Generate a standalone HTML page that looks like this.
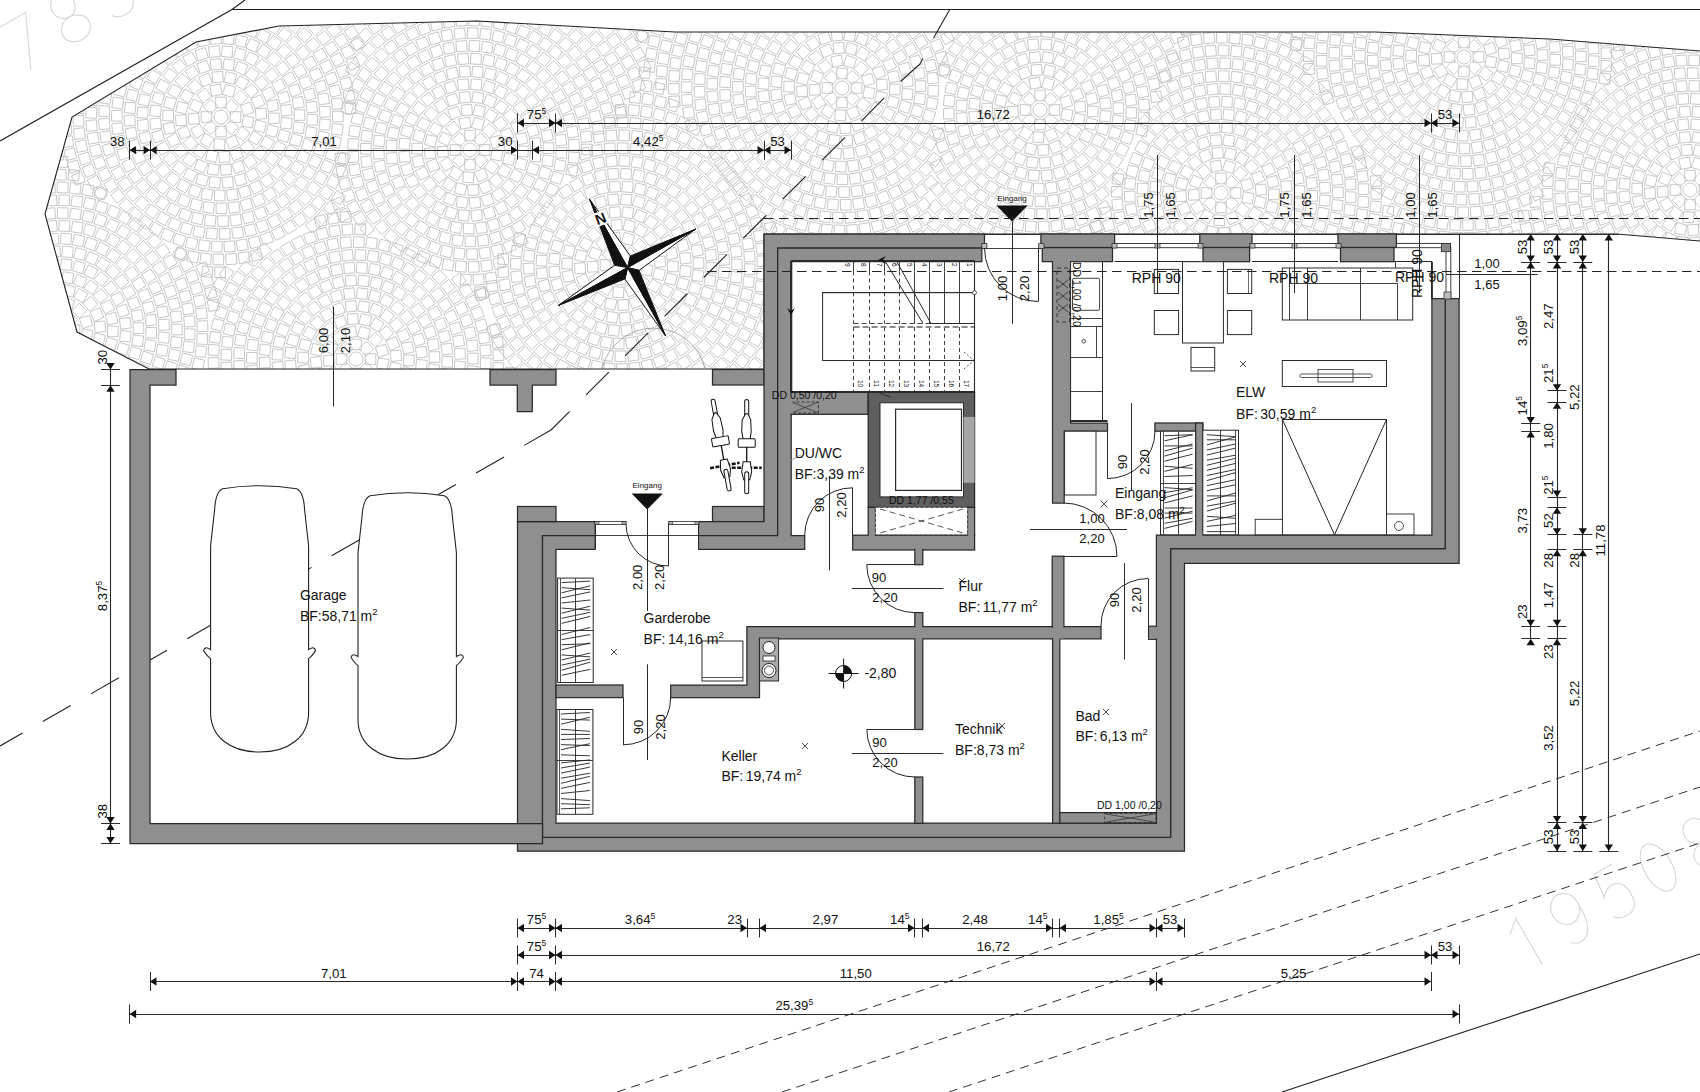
<!DOCTYPE html><html><head><meta charset="utf-8"><style>
html,body{margin:0;padding:0;background:#fff;}
svg{display:block;}
text{font-family:"Liberation Sans", sans-serif;fill:#111;}
</style></head><body>
<svg width="1700" height="1092" viewBox="0 0 1700 1092">
<rect width="1700" height="1092" fill="#fff"/>
<defs><clipPath id="pc"><polygon points="61,273 45,214 72,117 196,42 279,26 477,21 675,32 1375,32 1550,39 1700,51 1700,241 1617,234 764,234 764,369 149,369 77,332"/></clipPath></defs>
<g clip-path="url(#pc)"><path d="M221.0 117.0m-7 0a7 7 0 1 0 14 0a7 7 0 1 0 -14 0M230.2 111.7L240.8 111.7L240.8 122.3L230.2 122.3ZM231.3 119.8L238.7 127.3L231.3 134.7L223.8 127.3ZM226.3 126.2L226.3 136.8L215.7 136.8L215.7 126.2ZM218.2 127.3L210.7 134.7L203.3 127.3L210.7 119.8ZM211.8 122.3L201.2 122.3L201.2 111.7L211.8 111.7ZM210.7 114.2L203.3 106.7L210.7 99.3L218.2 106.7ZM215.7 107.8L215.7 97.2L226.3 97.2L226.3 107.8ZM223.8 106.7L231.3 99.3L238.7 106.7L231.3 114.2ZM243.6 115.7L254.0 117.6L252.1 128.0L241.7 126.1ZM241.6 126.3L250.0 132.9L243.5 141.2L235.1 134.7ZM234.9 134.9L239.3 144.5L229.6 148.9L225.2 139.2ZM225.0 139.3L224.4 149.9L213.8 149.2L214.4 138.7ZM214.2 138.6L208.7 147.7L199.7 142.2L205.1 133.1ZM205.0 133.0L195.9 138.5L190.4 129.4L199.4 123.9ZM199.4 123.7L188.8 124.3L188.1 113.8L198.7 113.1ZM198.8 112.9L189.1 108.5L193.4 98.9L203.1 103.2ZM203.2 103.0L196.7 94.7L205.0 88.1L211.6 96.4ZM211.8 96.3L209.8 85.9L220.3 84.0L222.2 94.4ZM222.4 94.4L225.6 84.3L235.7 87.4L232.6 97.5ZM232.8 97.7L240.2 90.2L247.8 97.6L240.3 105.1ZM240.4 105.3L250.5 102.2L253.7 112.3L243.6 115.5ZM256.1 119.9L266.4 122.3L264.0 132.6L253.6 130.2ZM253.5 130.6L262.5 136.1L257.0 145.1L248.0 139.6ZM247.7 139.9L254.6 148.0L246.6 154.9L239.7 146.8ZM239.3 147.1L243.4 156.8L233.6 160.9L229.5 151.2ZM229.1 151.3L230.0 161.8L219.4 162.7L218.6 152.1ZM218.1 152.1L215.7 162.4L205.4 160.0L207.8 149.6ZM207.4 149.5L201.9 158.5L192.9 153.0L198.4 144.0ZM198.1 143.7L190.0 150.6L183.1 142.6L191.2 135.7ZM190.9 135.3L181.2 139.4L177.1 129.6L186.8 125.5ZM186.7 125.1L176.2 126.0L175.3 115.4L185.9 114.6ZM185.9 114.1L175.6 111.7L178.0 101.4L188.4 103.8ZM188.5 103.4L179.5 97.9L185.0 88.9L194.0 94.4ZM194.3 94.1L187.4 86.0L195.4 79.1L202.3 87.2ZM202.7 86.9L198.6 77.2L208.4 73.1L212.5 82.8ZM212.9 82.7L212.0 72.2L222.6 71.3L223.4 81.9ZM223.9 81.9L226.3 71.6L236.6 74.0L234.2 84.4ZM234.6 84.5L240.1 75.5L249.1 81.0L243.6 90.0ZM243.9 90.3L252.0 83.4L258.9 91.4L250.8 98.3ZM251.1 98.7L260.8 94.6L264.9 104.4L255.2 108.5ZM255.3 108.9L265.8 108.0L266.7 118.6L256.1 119.4ZM268.7 113.0L279.3 113.2L279.0 123.8L268.4 123.6ZM268.3 124.5L278.5 127.3L275.7 137.5L265.5 134.7ZM265.1 135.6L274.4 140.8L269.2 150.0L260.0 144.9ZM259.4 145.6L267.1 152.9L259.9 160.6L252.2 153.4ZM251.4 154.0L257.2 162.9L248.3 168.7L242.5 159.8ZM241.7 160.2L245.2 170.2L235.2 173.7L231.7 163.7ZM230.8 163.9L231.8 174.4L221.2 175.4L220.2 164.9ZM219.3 164.9L217.7 175.3L207.2 173.8L208.8 163.3ZM207.8 163.1L203.8 172.9L194.0 168.8L198.0 159.0ZM197.2 158.6L191.0 167.1L182.4 160.9L188.6 152.3ZM188.0 151.7L179.8 158.5L173.0 150.4L181.1 143.5ZM180.6 142.7L171.1 147.4L166.4 137.9L175.9 133.2ZM175.6 132.3L165.3 134.6L163.0 124.2L173.4 122.0ZM173.3 121.0L162.7 120.8L163.0 110.2L173.6 110.4ZM173.7 109.5L163.5 106.7L166.3 96.5L176.5 99.3ZM176.9 98.4L167.6 93.2L172.8 84.0L182.0 89.1ZM182.6 88.4L174.9 81.1L182.1 73.4L189.8 80.6ZM190.6 80.0L184.8 71.1L193.7 65.3L199.5 74.2ZM200.3 73.8L196.8 63.8L206.8 60.3L210.3 70.3ZM211.2 70.1L210.2 59.6L220.8 58.6L221.8 69.1ZM222.7 69.1L224.3 58.7L234.8 60.2L233.2 70.7ZM234.2 70.9L238.2 61.1L248.0 65.2L244.0 75.0ZM244.8 75.4L251.0 66.9L259.6 73.1L253.4 81.7ZM254.0 82.3L262.2 75.5L269.0 83.6L260.9 90.5ZM261.4 91.3L270.9 86.6L275.6 96.1L266.1 100.8ZM266.4 101.7L276.7 99.4L279.0 109.8L268.6 112.0ZM281.6 117.4L292.2 118.4L291.2 129.0L280.6 128.0ZM280.4 129.2L290.5 132.3L287.5 142.4L277.3 139.4ZM276.9 140.6L286.2 145.5L281.3 154.9L271.9 149.9ZM271.2 151.0L279.4 157.7L272.7 165.9L264.5 159.2ZM263.6 160.2L270.3 168.3L262.2 175.1L255.4 166.9ZM254.3 167.6L259.4 177.0L250.1 182.0L245.0 172.7ZM243.8 173.2L246.9 183.3L236.8 186.4L233.7 176.3ZM232.4 176.5L233.5 187.1L223.0 188.2L221.9 177.6ZM220.6 177.6L219.6 188.2L209.0 187.2L210.0 176.6ZM208.8 176.4L205.7 186.5L195.6 183.5L198.6 173.3ZM197.4 172.9L192.5 182.2L183.1 177.3L188.1 167.9ZM187.0 167.2L180.3 175.4L172.1 168.7L178.8 160.5ZM177.8 159.6L169.7 166.3L162.9 158.2L171.1 151.4ZM170.4 150.3L161.0 155.4L156.0 146.1L165.3 141.0ZM164.8 139.8L154.7 142.9L151.6 132.8L161.7 129.7ZM161.5 128.4L150.9 129.5L149.8 119.0L160.4 117.9ZM160.4 116.6L149.8 115.6L150.8 105.0L161.4 106.0ZM161.6 104.8L151.5 101.7L154.5 91.6L164.7 94.6ZM165.1 93.4L155.8 88.5L160.7 79.1L170.1 84.1ZM170.8 83.0L162.6 76.3L169.3 68.1L177.5 74.8ZM178.4 73.8L171.7 65.7L179.8 58.9L186.6 67.1ZM187.7 66.4L182.6 57.0L191.9 52.0L197.0 61.3ZM198.2 60.8L195.1 50.7L205.2 47.6L208.3 57.7ZM209.6 57.5L208.5 46.9L219.0 45.8L220.1 56.4ZM221.4 56.4L222.4 45.8L233.0 46.8L232.0 57.4ZM233.2 57.6L236.3 47.5L246.4 50.5L243.4 60.7ZM244.6 61.1L249.5 51.8L258.9 56.7L253.9 66.1ZM255.0 66.8L261.7 58.6L269.9 65.3L263.2 73.5ZM264.2 74.4L272.3 67.7L279.1 75.8L270.9 82.6ZM271.6 83.7L281.0 78.6L286.0 87.9L276.7 93.0ZM277.2 94.2L287.3 91.1L290.4 101.2L280.3 104.3ZM280.5 105.6L291.1 104.5L292.2 115.0L281.6 116.1ZM294.2 121.7L304.7 123.2L303.3 133.7L292.8 132.2ZM292.5 133.4L302.7 136.5L299.5 146.7L289.4 143.6ZM289.0 144.7L298.5 149.4L293.8 158.9L284.3 154.2ZM283.6 155.2L292.3 161.4L286.1 170.0L277.5 163.9ZM276.7 164.8L284.2 172.3L276.8 179.8L269.2 172.3ZM268.3 173.1L274.5 181.7L266.0 187.9L259.7 179.3ZM258.7 180.0L263.5 189.4L254.0 194.2L249.2 184.7ZM248.1 185.2L251.3 195.3L241.2 198.5L238.0 188.4ZM236.8 188.7L238.4 199.2L227.9 200.7L226.3 190.2ZM225.1 190.3L224.9 200.9L214.4 200.7L214.5 190.1ZM213.3 190.0L211.4 200.4L201.0 198.6L202.9 188.1ZM201.7 187.8L198.2 197.8L188.2 194.3L191.7 184.3ZM190.6 183.8L185.5 193.1L176.2 188.0L181.3 178.7ZM180.3 178.1L173.8 186.4L165.4 179.9L171.9 171.6ZM171.0 170.7L163.2 178.0L156.0 170.2L163.8 163.0ZM163.0 162.0L154.2 167.9L148.3 159.1L157.2 153.2ZM156.6 152.1L146.9 156.5L142.5 146.9L152.2 142.5ZM151.8 141.3L141.5 144.1L138.8 133.9L149.0 131.1ZM148.8 129.9L138.2 131.0L137.1 120.5L147.6 119.4ZM147.6 118.2L137.0 117.6L137.6 107.0L148.2 107.6ZM148.4 106.4L138.0 104.1L140.3 93.7L150.7 96.0ZM151.0 94.9L141.2 91.0L145.1 81.1L154.9 85.0ZM155.5 83.9L146.4 78.5L151.8 69.4L160.9 74.8ZM161.6 73.8L153.5 67.0L160.4 58.9L168.5 65.7ZM169.3 64.9L162.4 56.8L170.5 49.9L177.4 58.0ZM178.4 57.3L172.8 48.2L181.9 42.7L187.4 51.7ZM188.5 51.2L184.5 41.4L194.3 37.4L198.3 47.2ZM199.5 46.8L197.1 36.5L207.4 34.1L209.8 44.5ZM211.0 44.3L210.3 33.7L220.9 33.0L221.6 43.6ZM222.8 43.6L223.8 33.1L234.4 34.1L233.3 44.7ZM234.5 44.9L237.2 34.6L247.5 37.3L244.8 47.6ZM245.9 48.0L250.2 38.3L259.9 42.6L255.6 52.3ZM256.7 52.9L262.5 44.0L271.4 49.8L265.5 58.7ZM266.5 59.4L273.7 51.6L281.5 58.8L274.3 66.6ZM275.2 67.5L283.5 60.9L290.0 69.2L281.7 75.8ZM282.4 76.8L291.7 71.6L296.8 80.9L287.6 86.1ZM288.1 87.2L298.0 83.6L301.6 93.5L291.7 97.1ZM292.0 98.3L302.4 96.4L304.3 106.8L293.9 108.7ZM294.1 109.9L304.6 109.7L304.9 120.3L294.3 120.5ZM307.1 114.3L317.7 114.7L317.4 125.3L306.8 124.9ZM306.7 126.4L317.1 128.2L315.3 138.6L304.9 136.8ZM304.5 138.2L314.6 141.4L311.4 151.5L301.3 148.3ZM300.8 149.6L310.3 154.2L305.7 163.8L296.2 159.1ZM295.4 160.4L304.3 166.3L298.4 175.1L289.6 169.2ZM288.7 170.3L296.6 177.4L289.5 185.3L281.6 178.2ZM280.6 179.2L287.4 187.3L279.4 194.2L272.5 186.1ZM271.4 186.9L277.0 195.9L268.1 201.5L262.4 192.6ZM261.1 193.2L265.5 202.9L255.8 207.3L251.5 197.6ZM250.1 198.1L253.1 208.3L242.9 211.2L240.0 201.1ZM238.6 201.4L240.1 211.8L229.6 213.4L228.1 202.9ZM226.7 203.0L226.7 213.6L216.1 213.6L216.1 203.0ZM214.6 202.9L213.2 213.4L202.7 212.0L204.1 201.5ZM202.7 201.2L199.9 211.4L189.7 208.5L192.5 198.3ZM191.2 197.8L186.9 207.5L177.2 203.3L181.5 193.6ZM180.2 192.9L174.7 201.9L165.6 196.3L171.2 187.3ZM170.1 186.5L163.3 194.6L155.1 187.9L161.9 179.7ZM160.9 178.7L153.0 185.9L145.9 178.0L153.8 170.9ZM152.9 169.8L144.1 175.7L138.2 167.0L146.9 161.0ZM146.2 159.8L136.7 164.5L132.0 155.0L141.5 150.3ZM141.0 149.0L130.9 152.3L127.6 142.2L137.7 138.9ZM137.3 137.5L126.9 139.4L125.0 129.0L135.4 127.1ZM135.3 125.7L124.7 126.1L124.3 115.5L134.9 115.1ZM134.9 113.6L124.4 112.6L125.4 102.0L136.0 103.1ZM136.2 101.7L125.9 99.2L128.4 88.9L138.7 91.4ZM139.2 90.0L129.3 86.1L133.2 76.3L143.1 80.2ZM143.7 78.9L134.5 73.7L139.8 64.4L149.0 69.7ZM233.3 31.7L235.5 21.3L245.9 23.5L243.7 33.9ZM245.1 34.3L248.7 24.3L258.6 27.9L255.1 37.9ZM256.4 38.4L261.3 29.0L270.7 34.0L265.7 43.4ZM267.0 44.1L273.2 35.5L281.8 41.7L275.6 50.3ZM276.7 51.2L284.0 43.6L291.6 50.9L284.3 58.6ZM285.3 59.6L293.6 53.0L300.2 61.4L291.8 67.9ZM292.6 69.1L301.8 63.8L307.1 72.9L298.0 78.3ZM298.6 79.5L308.4 75.5L312.4 85.3L302.6 89.4ZM303.1 90.7L313.3 88.1L315.9 98.4L305.7 101.0ZM305.9 102.4L316.5 101.2L317.6 111.8L307.1 112.9ZM319.9 118.9L330.5 119.7L329.7 130.2L319.2 129.5ZM318.9 131.0L329.3 133.1L327.3 143.5L316.9 141.4ZM316.5 143.0L326.5 146.3L323.2 156.4L313.2 153.0ZM312.6 154.5L322.1 159.0L317.6 168.6L308.0 164.1ZM307.3 165.5L316.2 171.1L310.5 180.1L301.6 174.4ZM300.6 175.7L308.8 182.4L302.1 190.6L293.9 183.9ZM292.8 185.0L300.1 192.7L292.4 200.0L285.1 192.3ZM283.9 193.4L290.2 201.9L281.7 208.2L275.4 199.6ZM274.1 200.5L279.3 209.7L270.0 214.9L264.8 205.7ZM263.4 206.4L267.4 216.2L257.6 220.2L253.6 210.4ZM252.1 210.9L254.9 221.2L244.7 223.9L241.9 213.7ZM240.3 214.0L241.8 224.5L231.3 226.0L229.8 215.5ZM228.2 215.7L228.5 226.3L217.9 226.5L217.6 215.9ZM216.1 215.8L215.0 226.4L204.4 225.3L205.5 214.7ZM204.0 214.5L201.6 224.8L191.2 222.4L193.6 212.1ZM192.1 211.6L188.5 221.6L178.5 218.0L182.2 208.0ZM180.7 207.4L175.9 216.8L166.4 212.0L171.3 202.5ZM169.9 201.7L163.9 210.5L155.2 204.5L161.1 195.8ZM159.9 194.8L152.9 202.8L144.9 195.8L151.9 187.8ZM150.8 186.7L142.9 193.8L135.8 185.8L143.7 178.8ZM142.7 177.5L134.0 183.6L128.0 174.9L136.7 168.8ZM135.9 167.5L126.5 172.4L121.6 163.0L131.0 158.1ZM130.3 156.6L120.4 160.3L116.7 150.4L126.6 146.7ZM126.2 145.2L115.9 147.7L113.4 137.4L123.7 134.9ZM123.4 133.3L112.9 134.5L111.7 124.0L122.2 122.8ZM122.1 121.2L111.5 121.1L111.7 110.5L122.3 110.6ZM122.4 109.0L111.9 107.6L113.3 97.1L123.8 98.5ZM124.1 97.0L113.9 94.3L116.6 84.0L126.8 86.7ZM266.8 29.3L272.2 20.2L281.3 25.6L275.9 34.7ZM277.2 35.6L283.7 27.2L292.1 33.7L285.6 42.1ZM286.8 43.1L294.3 35.6L301.8 43.0L294.3 50.6ZM295.4 51.8L303.7 45.2L310.3 53.5L301.9 60.1ZM302.8 61.4L311.9 55.9L317.4 65.0L308.3 70.5ZM309.0 71.9L318.7 67.5L323.0 77.2L313.4 81.5ZM313.9 83.0L324.1 79.9L327.2 90.1L317.0 93.2ZM317.4 94.7L327.8 92.9L329.7 103.3L319.2 105.1ZM319.4 106.7L330.0 106.2L330.5 116.8L319.9 117.3ZM332.5 123.5L343.1 124.6L342.0 135.2L331.4 134.1ZM331.1 135.7L341.5 138.0L339.2 148.4L328.9 146.1ZM328.4 147.8L338.5 151.1L335.1 161.2L325.0 157.8ZM324.4 159.4L334.0 163.9L329.5 173.5L319.9 169.0ZM319.1 170.5L328.1 176.0L322.6 185.1L313.6 179.5ZM312.6 181.0L321.0 187.4L314.5 195.8L306.1 189.4ZM305.0 190.6L312.6 198.0L305.3 205.6L297.7 198.3ZM296.4 199.4L303.2 207.6L295.0 214.4L288.2 206.2ZM286.9 207.2L292.7 216.1L283.9 221.9L278.0 213.1ZM276.5 213.9L281.4 223.4L271.9 228.2L267.1 218.8ZM265.5 219.5L269.3 229.4L259.4 233.1L255.6 223.2ZM254.0 223.7L256.7 234.0L246.4 236.7L243.7 226.4ZM242.1 226.7L243.6 237.2L233.1 238.7L231.6 228.2ZM229.9 228.4L230.2 239.0L219.6 239.3L219.3 228.7ZM217.6 228.7L216.7 239.2L206.2 238.4L207.0 227.8ZM205.3 227.6L203.3 238.0L192.9 236.0L194.9 225.6ZM193.2 225.2L190.1 235.3L180.0 232.2L183.1 222.1ZM181.5 221.5L177.3 231.2L167.5 227.0L171.8 217.3ZM170.2 216.5L165.0 225.7L155.8 220.5L161.0 211.3ZM159.6 210.3L153.3 218.9L144.8 212.7L151.0 204.1ZM149.7 203.0L142.5 210.8L134.7 203.7L141.9 195.9ZM140.7 194.6L132.7 201.6L125.7 193.7L133.7 186.7ZM132.6 185.3L123.9 191.4L117.8 182.7L126.5 176.7ZM125.6 175.2L116.3 180.3L111.2 171.0L120.5 165.9ZM119.8 164.4L110.0 168.4L106.0 158.6L115.8 154.6ZM115.2 152.9L105.0 155.9L102.1 145.7L112.3 142.7ZM111.9 141.1L101.5 142.9L99.7 132.4L110.1 130.6ZM109.9 128.9L99.3 129.6L98.7 119.0L109.3 118.3ZM109.3 116.6L98.7 116.1L99.2 105.5L109.8 106.1ZM110.0 104.3L99.5 102.6L101.2 92.2L111.7 93.9ZM287.5 27.2L294.2 19.0L302.4 25.7L295.7 33.9ZM296.9 35.0L304.5 27.6L311.9 35.2L304.4 42.6ZM305.5 43.9L313.8 37.4L320.4 45.7L312.0 52.2ZM313.0 53.6L322.0 48.0L327.6 57.1L318.6 62.6ZM319.4 64.1L329.0 59.6L333.6 69.1L324.0 73.7ZM324.6 75.3L334.7 71.8L338.1 81.8L328.1 85.3ZM328.6 86.9L338.9 84.6L341.3 94.9L331.0 97.3ZM331.3 99.0L341.8 97.8L343.0 108.3L332.5 109.5ZM332.6 111.2L343.2 111.2L343.2 121.8L332.6 121.8ZM340.5 151.9L350.6 155.3L347.1 165.4L337.1 162.0ZM336.5 163.5L346.2 167.8L341.8 177.5L332.1 173.1ZM331.4 174.6L340.6 179.9L335.3 189.1L326.1 183.8ZM325.2 185.1L333.8 191.3L327.7 199.9L319.1 193.7ZM318.0 195.0L326.0 202.0L319.0 210.0L311.1 203.0ZM309.9 204.1L317.2 211.9L309.5 219.1L302.2 211.4ZM301.0 212.4L307.4 220.8L299.0 227.3L292.6 218.9ZM291.2 219.8L296.8 228.8L287.8 234.4L282.2 225.4ZM280.8 226.2L285.5 235.7L276.0 240.4L271.3 230.9ZM269.8 231.5L273.6 241.5L263.6 245.2L259.9 235.3ZM258.4 235.8L261.1 246.0L250.9 248.8L248.1 238.5ZM246.5 238.9L248.3 249.3L237.8 251.1L236.1 240.6ZM234.5 240.8L235.2 251.4L224.6 252.1L223.9 241.5ZM222.3 241.5L221.9 252.1L211.3 251.8L211.7 241.2ZM210.1 241.0L208.7 251.5L198.2 250.2L199.5 239.7ZM198.0 239.4L195.5 249.7L185.2 247.3L187.6 237.0ZM186.1 236.5L182.7 246.6L172.6 243.1L176.0 233.1ZM174.5 232.5L170.2 242.2L160.5 237.8L164.9 228.1ZM163.4 227.4L158.1 236.6L148.9 231.3L154.2 222.1ZM152.9 221.2L146.7 229.8L138.1 223.7L144.3 215.1ZM143.0 214.0L136.0 222.0L128.0 215.0L135.0 207.1ZM133.9 205.9L126.1 213.2L118.9 205.5L126.6 198.2ZM125.6 197.0L117.2 203.4L110.7 195.0L119.1 188.6ZM118.2 187.2L109.2 192.8L103.6 183.8L112.6 178.2ZM111.8 176.8L102.3 181.5L97.6 172.0L107.1 167.3ZM106.5 165.8L96.5 169.6L92.8 159.6L102.7 155.9ZM102.2 154.4L92.0 157.1L89.2 146.9L99.5 144.1ZM99.1 142.5L88.7 144.3L86.9 133.8L97.4 132.1ZM97.2 130.5L86.6 131.2L85.9 120.6L96.5 119.9ZM96.5 118.3L85.9 117.9L86.2 107.3L96.8 107.7ZM97.0 106.1L86.5 104.7L87.8 94.2L98.3 95.5ZM299.0 20.0L306.0 12.0L314.0 19.0L307.0 26.9ZM308.1 28.1L315.9 20.8L323.1 28.5L315.4 35.8ZM316.4 37.0L324.8 30.6L331.3 39.0L322.9 45.4ZM323.8 46.8L332.8 41.2L338.4 50.2L329.4 55.8ZM330.2 57.2L339.7 52.5L344.4 62.0L334.9 66.7ZM335.5 68.2L345.5 64.4L349.2 74.4L339.3 78.1ZM339.8 79.6L350.0 76.9L352.8 87.1L342.5 89.9ZM342.9 91.5L353.3 89.7L355.1 100.2L344.6 101.9ZM344.8 103.5L355.4 102.8L356.1 113.4L345.5 114.1ZM337.1 190.3L345.9 196.3L339.9 205.0L331.1 199.0ZM330.1 200.4L338.3 207.1L331.5 215.3L323.3 208.5ZM322.2 209.8L329.7 217.3L322.2 224.8L314.7 217.3ZM313.5 218.5L320.3 226.6L312.2 233.4L305.3 225.3ZM260.3 248.6L262.9 258.8L252.6 261.5L250.0 251.2ZM248.3 251.6L250.0 262.0L239.5 263.7L237.8 253.3ZM236.1 253.5L236.9 264.0L226.3 264.8L225.6 254.2ZM223.8 254.3L223.6 264.9L213.0 264.7L213.2 254.1ZM211.5 254.0L210.4 264.5L199.8 263.4L201.0 252.8ZM199.3 252.6L197.2 263.0L186.8 260.9L188.9 250.5ZM187.2 250.1L184.2 260.2L174.0 257.2L177.0 247.1ZM108.0 195.0L99.0 200.7L93.4 191.7L102.3 186.0ZM101.5 184.5L92.0 189.4L87.2 180.0L96.6 175.1ZM95.9 173.6L86.1 177.6L82.1 167.7L91.9 163.7ZM91.3 162.1L81.2 165.2L78.1 155.1L88.2 152.0ZM87.8 150.3L77.4 152.5L75.3 142.1L85.6 139.9ZM85.4 138.2L74.8 139.5L73.6 128.9L84.1 127.7ZM84.0 126.0L73.4 126.3L73.1 115.7L83.7 115.4ZM83.7 113.7L73.2 113.0L73.8 102.4L84.4 103.1ZM318.3 20.1L326.1 12.9L333.2 20.7L325.4 27.9ZM326.6 29.2L335.0 22.7L341.4 31.1L333.0 37.6ZM334.0 39.0L343.0 33.3L348.6 42.3L339.7 48.0ZM340.5 49.5L350.0 44.6L354.8 54.0L345.4 58.9ZM346.1 60.4L355.9 56.4L359.9 66.3L350.1 70.3ZM225.4 267.0L225.4 277.6L214.8 277.6L214.8 267.0ZM213.0 266.9L212.1 277.4L201.5 276.5L202.5 265.9ZM85.4 181.3L75.7 185.5L71.5 175.8L81.2 171.6ZM80.5 169.9L70.5 173.3L67.1 163.2L77.2 159.9ZM76.7 158.1L66.4 160.7L63.8 150.4L74.1 147.8ZM73.7 146.1L63.3 147.7L61.6 137.3L72.1 135.6ZM71.9 133.8L61.3 134.6L60.5 124.1L71.0 123.2ZM336.7 21.4L345.1 14.9L351.5 23.3L343.1 29.8ZM344.2 31.2L353.1 25.5L358.8 34.4L349.9 40.1ZM350.8 41.7L360.2 36.7L365.2 46.1L355.8 51.0ZM63.8 159.5L53.4 162.0L51.0 151.7L61.3 149.2ZM356.0 359.0m-7 0a7 7 0 1 0 14 0a7 7 0 1 0 -14 0M365.2 353.7L375.8 353.7L375.8 364.3L365.2 364.3ZM366.3 361.8L373.7 369.3L366.3 376.7L358.8 369.3ZM361.3 368.2L361.3 378.8L350.7 378.8L350.7 368.2ZM353.2 369.3L345.7 376.7L338.3 369.3L345.7 361.8ZM346.8 364.3L336.2 364.3L336.2 353.7L346.8 353.7ZM345.7 356.2L338.3 348.7L345.7 341.3L353.2 348.7ZM350.7 349.8L350.7 339.2L361.3 339.2L361.3 349.8ZM358.8 348.7L366.3 341.3L373.7 348.7L366.3 356.2ZM378.6 357.7L389.0 359.6L387.1 370.0L376.7 368.1ZM340.0 375.0L330.9 380.5L325.4 371.4L334.4 365.9ZM334.4 365.7L323.8 366.3L323.1 355.8L333.7 355.1ZM333.8 354.9L324.1 350.5L328.4 340.9L338.1 345.2ZM338.2 345.0L331.7 336.7L340.0 330.1L346.6 338.4ZM346.8 338.3L344.8 327.9L355.3 326.0L357.2 336.4ZM357.4 336.4L360.6 326.3L370.7 329.4L367.6 339.5ZM367.8 339.7L375.2 332.2L382.8 339.6L375.3 347.1ZM375.4 347.3L385.5 344.2L388.7 354.3L378.6 357.5ZM391.1 361.9L401.4 364.3L399.0 374.6L388.6 372.2ZM325.9 377.3L316.2 381.4L312.1 371.6L321.8 367.5ZM321.7 367.1L311.2 368.0L310.3 357.4L320.9 356.6ZM320.9 356.1L310.6 353.7L313.0 343.4L323.4 345.8ZM323.5 345.4L314.5 339.9L320.0 330.9L329.0 336.4ZM329.3 336.1L322.4 328.0L330.4 321.1L337.3 329.2ZM337.7 328.9L333.6 319.2L343.4 315.1L347.5 324.8ZM347.9 324.7L347.0 314.2L357.6 313.3L358.4 323.9ZM358.9 323.9L361.3 313.6L371.6 316.0L369.2 326.4ZM369.6 326.5L375.1 317.5L384.1 323.0L378.6 332.0ZM378.9 332.3L387.0 325.4L393.9 333.4L385.8 340.3ZM386.1 340.7L395.8 336.6L399.9 346.4L390.2 350.5ZM390.3 350.9L400.8 350.0L401.7 360.6L391.1 361.4ZM403.7 355.0L414.3 355.2L414.0 365.8L403.4 365.6ZM403.3 366.5L413.5 369.3L410.7 379.5L400.5 376.7ZM310.6 374.3L300.3 376.6L298.0 366.2L308.4 364.0ZM308.3 363.0L297.7 362.8L298.0 352.2L308.6 352.4ZM308.7 351.5L298.5 348.7L301.3 338.5L311.5 341.3ZM311.9 340.4L302.6 335.2L307.8 326.0L317.0 331.1ZM317.6 330.4L309.9 323.1L317.1 315.4L324.8 322.6ZM325.6 322.0L319.8 313.1L328.7 307.3L334.5 316.2ZM335.3 315.8L331.8 305.8L341.8 302.3L345.3 312.3ZM346.2 312.1L345.2 301.6L355.8 300.6L356.8 311.1ZM357.7 311.1L359.3 300.7L369.8 302.2L368.2 312.7ZM369.2 312.9L373.2 303.1L383.0 307.2L379.0 317.0ZM379.8 317.4L386.0 308.9L394.6 315.1L388.4 323.7ZM389.0 324.3L397.2 317.5L404.0 325.6L395.9 332.5ZM396.4 333.3L405.9 328.6L410.6 338.1L401.1 342.8ZM401.4 343.7L411.7 341.4L414.0 351.8L403.6 354.0ZM416.6 359.4L427.2 360.4L426.2 371.0L415.6 370.0ZM296.5 370.4L285.9 371.5L284.8 361.0L295.4 359.9ZM295.4 358.6L284.8 357.6L285.8 347.0L296.4 348.0ZM296.6 346.8L286.5 343.7L289.5 333.6L299.7 336.6ZM300.1 335.4L290.8 330.5L295.7 321.1L305.1 326.1ZM305.8 325.0L297.6 318.3L304.3 310.1L312.5 316.8ZM313.4 315.8L306.7 307.7L314.8 300.9L321.6 309.1ZM322.7 308.4L317.6 299.0L326.9 294.0L332.0 303.3ZM333.2 302.8L330.1 292.7L340.2 289.6L343.3 299.7ZM344.6 299.5L343.5 288.9L354.0 287.8L355.1 298.4ZM356.4 298.4L357.4 287.8L368.0 288.8L367.0 299.4ZM368.2 299.6L371.3 289.5L381.4 292.5L378.4 302.7ZM379.6 303.1L384.5 293.8L393.9 298.7L388.9 308.1ZM390.0 308.8L396.7 300.6L404.9 307.3L398.2 315.5ZM399.2 316.4L407.3 309.7L414.1 317.8L405.9 324.6ZM406.6 325.7L416.0 320.6L421.0 329.9L411.7 335.0ZM412.2 336.2L422.3 333.1L425.4 343.2L415.3 346.3ZM415.5 347.6L426.1 346.5L427.2 357.0L416.6 358.1ZM429.2 363.7L439.7 365.2L438.3 375.7L427.8 374.2ZM283.8 371.9L273.2 373.0L272.1 362.5L282.6 361.4ZM282.6 360.2L272.0 359.6L272.6 349.0L283.2 349.6ZM283.4 348.4L273.0 346.1L275.3 335.7L285.7 338.0ZM286.0 336.9L276.2 333.0L280.1 323.1L289.9 327.0ZM290.5 325.9L281.4 320.5L286.8 311.4L295.9 316.8ZM296.6 315.8L288.5 309.0L295.4 300.9L303.5 307.7ZM304.3 306.9L297.4 298.8L305.5 291.9L312.4 300.0ZM313.4 299.3L307.8 290.2L316.9 284.7L322.4 293.7ZM323.5 293.2L319.5 283.4L329.3 279.4L333.3 289.2ZM334.5 288.8L332.1 278.5L342.4 276.1L344.8 286.5ZM346.0 286.3L345.3 275.7L355.9 275.0L356.6 285.6ZM357.8 285.6L358.8 275.1L369.4 276.1L368.3 286.7ZM369.5 286.9L372.2 276.6L382.5 279.3L379.8 289.6ZM380.9 290.0L385.2 280.3L394.9 284.6L390.6 294.3ZM391.7 294.9L397.5 286.0L406.4 291.8L400.5 300.7ZM401.5 301.4L408.7 293.6L416.5 300.8L409.3 308.6ZM410.2 309.5L418.5 302.9L425.0 311.2L416.7 317.8ZM417.4 318.8L426.7 313.6L431.8 322.9L422.6 328.1ZM423.1 329.2L433.0 325.6L436.6 335.5L426.7 339.1ZM427.0 340.3L437.4 338.4L439.3 348.8L428.9 350.7ZM429.1 351.9L439.6 351.7L439.9 362.3L429.3 362.5ZM442.1 356.3L452.7 356.7L452.4 367.3L441.8 366.9ZM441.7 368.4L452.1 370.2L450.3 380.6L439.9 378.8ZM270.3 367.7L259.7 368.1L259.3 357.5L269.9 357.1ZM269.9 355.6L259.4 354.6L260.4 344.0L271.0 345.1ZM271.2 343.7L260.9 341.2L263.4 330.9L273.7 333.4ZM274.2 332.0L264.3 328.1L268.2 318.3L278.1 322.2ZM278.7 320.9L269.5 315.7L274.8 306.4L284.0 311.7ZM284.8 310.5L276.4 304.0L282.9 295.7L291.3 302.1ZM292.2 301.1L284.8 293.5L292.4 286.1L299.8 293.7ZM300.9 292.8L294.6 284.2L303.2 278.0L309.4 286.5ZM310.6 285.7L305.6 276.4L315.0 271.4L320.0 280.7ZM321.3 280.1L317.6 270.2L327.6 266.5L331.2 276.5ZM332.6 276.1L330.3 265.7L340.7 263.5L342.9 273.8ZM344.4 273.6L343.6 263.1L354.1 262.3L354.9 272.8ZM356.4 272.8L357.0 262.3L367.6 263.0L366.9 273.5ZM368.3 273.7L370.5 263.3L380.9 265.5L378.7 275.9ZM380.1 276.3L383.7 266.3L393.6 269.9L390.1 279.9ZM391.4 280.4L396.3 271.0L405.7 276.0L400.7 285.4ZM402.0 286.1L408.2 277.5L416.8 283.7L410.6 292.3ZM411.7 293.2L419.0 285.6L426.6 292.9L419.3 300.6ZM420.3 301.6L428.6 295.0L435.2 303.4L426.8 309.9ZM427.6 311.1L436.8 305.8L442.1 314.9L433.0 320.3ZM433.6 321.5L443.4 317.5L447.4 327.3L437.6 331.4ZM438.1 332.7L448.3 330.1L450.9 340.4L440.7 343.0ZM440.9 344.4L451.5 343.2L452.6 353.8L442.1 354.9ZM454.9 360.9L465.5 361.7L464.7 372.2L454.2 371.5ZM258.4 375.3L247.9 376.5L246.7 366.0L257.2 364.8ZM257.1 363.2L246.5 363.1L246.7 352.5L257.3 352.6ZM257.4 351.0L246.9 349.6L248.3 339.1L258.8 340.5ZM259.1 339.0L248.9 336.3L251.6 326.0L261.8 328.7ZM262.3 327.2L252.5 323.3L256.4 313.4L266.2 317.4ZM266.9 315.9L257.6 310.8L262.8 301.5L272.0 306.7ZM272.9 305.3L264.3 299.1L270.5 290.5L279.1 296.7ZM280.1 295.5L272.4 288.3L279.6 280.5L287.3 287.8ZM288.5 286.7L281.7 278.5L289.8 271.7L296.6 279.9ZM297.9 278.9L292.1 270.0L301.0 264.3L306.8 273.2ZM308.2 272.4L303.6 262.8L313.1 258.2L317.7 267.8ZM319.2 267.2L315.8 257.1L325.8 253.7L329.2 263.8ZM330.7 263.3L328.6 253.0L339.0 250.8L341.1 261.2ZM342.7 261.0L341.8 250.4L352.4 249.5L353.3 260.1ZM354.8 260.1L355.3 249.5L365.9 249.9L365.4 260.5ZM367.0 260.7L368.8 250.2L379.2 252.0L377.5 262.4ZM379.0 262.8L382.0 252.6L392.2 255.6L389.2 265.8ZM390.7 266.3L394.9 256.6L404.6 260.9L400.4 270.6ZM401.8 271.3L407.2 262.2L416.3 267.6L410.9 276.7ZM412.2 277.6L418.7 269.2L427.1 275.7L420.6 284.1ZM421.8 285.1L429.3 277.6L436.8 285.0L429.3 292.6ZM430.4 293.8L438.7 287.2L445.3 295.5L436.9 302.1ZM437.8 303.4L446.9 297.9L452.4 307.0L443.3 312.5ZM444.0 313.9L453.7 309.5L458.0 319.2L448.4 323.5ZM448.9 325.0L459.1 321.9L462.2 332.1L452.0 335.2ZM452.4 336.7L462.8 334.9L464.7 345.3L454.2 347.1ZM454.4 348.7L465.0 348.2L465.5 358.8L454.9 359.3ZM467.5 365.5L478.1 366.6L477.0 377.2L466.4 376.1ZM244.9 370.9L234.3 371.6L233.7 361.0L244.3 360.3ZM244.3 358.6L233.7 358.1L234.2 347.5L244.8 348.1ZM245.0 346.3L234.5 344.6L236.2 334.2L246.7 335.9ZM247.1 334.2L236.8 331.4L239.7 321.2L249.9 324.0ZM250.4 322.4L240.6 318.4L244.6 308.6L254.4 312.5ZM255.1 311.0L245.8 306.0L250.8 296.6L260.1 301.6ZM261.0 300.2L252.3 294.2L258.3 285.4L267.0 291.4ZM268.1 290.1L260.0 283.2L267.0 275.1L275.0 282.1ZM276.2 280.8L269.0 273.1L276.7 265.9L283.9 273.6ZM285.3 272.5L278.9 264.0L287.5 257.7L293.8 266.2ZM295.2 265.3L289.9 256.1L299.0 250.8L304.4 259.9ZM305.9 259.1L301.6 249.5L311.3 245.2L315.6 254.8ZM317.2 254.2L314.0 244.1L324.1 240.9L327.3 251.0ZM328.9 250.6L326.8 240.2L337.2 238.1L339.3 248.5ZM341.0 248.3L340.1 237.7L350.7 236.8L351.6 247.4ZM353.3 247.3L353.5 236.7L364.1 237.0L363.9 247.6ZM365.6 247.7L367.0 237.2L377.5 238.6L376.1 249.1ZM377.8 249.4L380.3 239.1L390.6 241.7L388.1 252.0ZM389.7 252.5L393.4 242.5L403.3 246.2L399.6 256.2ZM401.2 256.8L406.0 247.4L415.4 252.1L410.7 261.6ZM412.2 262.4L417.9 253.5L426.8 259.3L421.1 268.2ZM422.5 269.2L429.2 261.0L437.4 267.7L430.7 275.9ZM431.9 277.0L439.5 269.6L446.9 277.2L439.4 284.6ZM440.5 285.9L448.8 279.4L455.4 287.7L447.0 294.2ZM448.0 295.6L457.0 290.0L462.6 299.1L453.6 304.6ZM454.4 306.1L464.0 301.6L468.6 311.1L459.0 315.7ZM459.6 317.3L469.7 313.8L473.1 323.8L463.1 327.3ZM463.6 328.9L473.9 326.6L476.3 336.9L466.0 339.3ZM466.3 341.0L476.8 339.8L478.0 350.3L467.5 351.5ZM467.6 353.2L478.2 353.2L478.2 363.8L467.6 363.8ZM480.5 357.7L491.1 358.1L490.8 368.7L480.2 368.3ZM232.2 372.5L221.6 373.2L220.9 362.6L231.5 361.9ZM231.5 360.3L220.9 359.9L221.2 349.3L231.8 349.7ZM232.0 348.1L221.5 346.7L222.8 336.2L233.3 337.5ZM233.6 336.0L223.3 333.5L225.7 323.2L236.0 325.6ZM236.5 324.1L226.4 320.7L229.9 310.6L239.9 314.0ZM240.5 312.5L230.8 308.2L235.2 298.5L244.9 302.9ZM245.6 301.4L236.4 296.1L241.7 286.9L250.9 292.2ZM251.8 290.9L243.2 284.7L249.3 276.1L257.9 282.3ZM259.0 281.0L251.0 274.0L258.0 266.0L265.9 273.0ZM267.1 271.9L259.8 264.1L267.5 256.9L274.8 264.6ZM276.0 263.6L269.6 255.2L278.0 248.7L284.4 257.1ZM285.8 256.2L280.2 247.2L289.2 241.6L294.8 250.6ZM296.2 249.8L291.5 240.3L301.0 235.6L305.7 245.1ZM307.2 244.5L303.4 234.5L313.4 230.8L317.1 240.7ZM318.6 240.2L315.9 230.0L326.1 227.2L328.9 237.5ZM330.5 237.1L328.7 226.7L339.2 224.9L340.9 235.4ZM342.5 235.2L341.8 224.6L352.4 223.9L353.1 234.5ZM354.7 234.5L355.1 223.9L365.7 224.2L365.3 234.8ZM451.4 279.0L459.8 272.6L466.3 281.0L457.9 287.4ZM458.8 288.8L467.8 283.2L473.4 292.2L464.4 297.8ZM465.2 299.2L474.7 294.5L479.4 304.0L469.9 308.7ZM470.5 310.2L480.5 306.4L484.2 316.4L474.3 320.1ZM474.8 321.6L485.0 318.9L487.8 329.1L477.5 331.9ZM477.9 333.5L488.3 331.7L490.1 342.2L479.6 343.9ZM479.8 345.5L490.4 344.8L491.1 355.4L480.5 356.1ZM493.3 362.3L503.8 363.0L503.2 373.6L492.6 372.9ZM219.0 368.0L208.4 368.3L208.1 357.7L218.7 357.4ZM218.7 355.7L208.2 355.0L208.8 344.4L219.4 345.1ZM219.6 343.4L209.1 341.8L210.7 331.3L221.2 332.9ZM221.5 331.2L211.2 328.7L213.8 318.4L224.1 320.9ZM224.6 319.3L214.5 315.8L218.0 305.8L228.0 309.3ZM228.7 307.7L219.0 303.3L223.3 293.6L233.0 298.0ZM233.8 296.4L224.5 291.3L229.7 282.0L239.0 287.2ZM239.9 285.7L231.1 279.7L237.1 271.0L245.9 277.0ZM246.9 275.6L238.7 268.9L245.5 260.7L253.7 267.5ZM254.8 266.2L247.3 258.7L254.8 251.2L262.3 258.7ZM263.5 257.5L256.7 249.4L264.8 242.6L271.7 250.7ZM316.7 227.4L314.1 217.2L324.4 214.5L327.0 224.8ZM328.7 224.4L327.0 214.0L337.5 212.3L339.2 222.7ZM340.9 222.5L340.1 212.0L350.7 211.2L351.4 221.8ZM475.5 291.5L485.0 286.6L489.8 296.0L480.4 300.9ZM489.2 325.7L499.6 323.5L501.7 333.9L491.4 336.1ZM491.6 337.8L502.2 336.5L503.4 347.1L492.9 348.3ZM493.0 350.0L503.6 349.7L503.9 360.3L493.3 360.6ZM505.9 367.0L516.4 367.9L515.5 378.5L504.9 377.5ZM216.8 302.8L207.1 298.5L211.5 288.8L221.1 293.1ZM221.9 291.5L212.7 286.4L217.8 277.1L227.0 282.2ZM228.0 280.7L219.1 274.8L225.0 266.0L233.8 271.8ZM620.0 265.0m-7 0a7 7 0 1 0 14 0a7 7 0 1 0 -14 0M629.2 259.7L639.8 259.7L639.8 270.3L629.2 270.3ZM630.3 267.8L637.7 275.3L630.3 282.7L622.8 275.3ZM625.3 274.2L625.3 284.8L614.7 284.8L614.7 274.2ZM617.2 275.3L609.7 282.7L602.3 275.3L609.7 267.8ZM610.8 270.3L600.2 270.3L600.2 259.7L610.8 259.7ZM609.7 262.2L602.3 254.7L609.7 247.3L617.2 254.7ZM614.7 255.8L614.7 245.2L625.3 245.2L625.3 255.8ZM622.8 254.7L630.3 247.3L637.7 254.7L630.3 262.2ZM642.6 263.7L653.0 265.6L651.1 276.0L640.7 274.1ZM640.6 274.3L649.0 280.9L642.5 289.2L634.1 282.7ZM633.9 282.9L638.3 292.5L628.6 296.9L624.2 287.2ZM624.0 287.3L623.4 297.9L612.8 297.2L613.4 286.7ZM613.2 286.6L607.7 295.7L598.7 290.2L604.1 281.1ZM604.0 281.0L594.9 286.5L589.4 277.4L598.4 271.9ZM598.4 271.7L587.8 272.3L587.1 261.8L597.7 261.1ZM597.8 260.9L588.1 256.5L592.4 246.9L602.1 251.2ZM602.2 251.0L595.7 242.7L604.0 236.1L610.6 244.4ZM610.8 244.3L608.8 233.9L619.3 232.0L621.2 242.4ZM621.4 242.4L624.6 232.3L634.7 235.4L631.6 245.5ZM631.8 245.7L639.2 238.2L646.8 245.6L639.3 253.1ZM639.4 253.3L649.5 250.2L652.7 260.3L642.6 263.5ZM655.1 267.9L665.4 270.3L663.0 280.6L652.6 278.2ZM652.5 278.6L661.5 284.1L656.0 293.1L647.0 287.6ZM646.7 287.9L653.6 296.0L645.6 302.9L638.7 294.8ZM638.3 295.1L642.4 304.8L632.6 308.9L628.5 299.2ZM628.1 299.3L629.0 309.8L618.4 310.7L617.6 300.1ZM617.1 300.1L614.7 310.4L604.4 308.0L606.8 297.6ZM606.4 297.5L600.9 306.5L591.9 301.0L597.4 292.0ZM597.1 291.7L589.0 298.6L582.1 290.6L590.2 283.7ZM589.9 283.3L580.2 287.4L576.1 277.6L585.8 273.5ZM585.7 273.1L575.2 274.0L574.3 263.4L584.9 262.6ZM584.9 262.1L574.6 259.7L577.0 249.4L587.4 251.8ZM587.5 251.4L578.5 245.9L584.0 236.9L593.0 242.4ZM593.3 242.1L586.4 234.0L594.4 227.1L601.3 235.2ZM601.7 234.9L597.6 225.2L607.4 221.1L611.5 230.8ZM611.9 230.7L611.0 220.2L621.6 219.3L622.4 229.9ZM622.9 229.9L625.3 219.6L635.6 222.0L633.2 232.4ZM633.6 232.5L639.1 223.5L648.1 229.0L642.6 238.0ZM642.9 238.3L651.0 231.4L657.9 239.4L649.8 246.3ZM650.1 246.7L659.8 242.6L663.9 252.4L654.2 256.5ZM654.3 256.9L664.8 256.0L665.7 266.6L655.1 267.4ZM667.7 261.0L678.3 261.2L678.0 271.8L667.4 271.6ZM667.3 272.5L677.5 275.3L674.7 285.5L664.5 282.7ZM664.1 283.6L673.4 288.8L668.2 298.0L659.0 292.9ZM658.4 293.6L666.1 300.9L658.9 308.6L651.2 301.4ZM650.4 302.0L656.2 310.9L647.3 316.7L641.5 307.8ZM640.7 308.2L644.2 318.2L634.2 321.7L630.7 311.7ZM629.8 311.9L630.8 322.4L620.2 323.4L619.2 312.9ZM618.3 312.9L616.7 323.3L606.2 321.8L607.8 311.3ZM606.8 311.1L602.8 320.9L593.0 316.8L597.0 307.0ZM596.2 306.6L590.0 315.1L581.4 308.9L587.6 300.3ZM587.0 299.7L578.8 306.5L572.0 298.4L580.1 291.5ZM579.6 290.7L570.1 295.4L565.4 285.9L574.9 281.2ZM574.6 280.3L564.3 282.6L562.0 272.2L572.4 270.0ZM572.3 269.0L561.7 268.8L562.0 258.2L572.6 258.4ZM572.7 257.5L562.5 254.7L565.3 244.5L575.5 247.3ZM575.9 246.4L566.6 241.2L571.8 232.0L581.0 237.1ZM581.6 236.4L573.9 229.1L581.1 221.4L588.8 228.6ZM589.6 228.0L583.8 219.1L592.7 213.3L598.5 222.2ZM599.3 221.8L595.8 211.8L605.8 208.3L609.3 218.3ZM610.2 218.1L609.2 207.6L619.8 206.6L620.8 217.1ZM621.7 217.1L623.3 206.7L633.8 208.2L632.2 218.7ZM633.2 218.9L637.2 209.1L647.0 213.2L643.0 223.0ZM643.8 223.4L650.0 214.9L658.6 221.1L652.4 229.7ZM653.0 230.3L661.2 223.5L668.0 231.6L659.9 238.5ZM660.4 239.3L669.9 234.6L674.6 244.1L665.1 248.8ZM665.4 249.7L675.7 247.4L678.0 257.8L667.6 260.0ZM680.6 265.4L691.2 266.4L690.2 277.0L679.6 276.0ZM679.4 277.2L689.5 280.3L686.5 290.4L676.3 287.4ZM675.9 288.6L685.2 293.5L680.3 302.9L670.9 297.9ZM670.2 299.0L678.4 305.7L671.7 313.9L663.5 307.2ZM662.6 308.2L669.3 316.3L661.2 323.1L654.4 314.9ZM653.3 315.6L658.4 325.0L649.1 330.0L644.0 320.7ZM642.8 321.2L645.9 331.3L635.8 334.4L632.7 324.3ZM631.4 324.5L632.5 335.1L622.0 336.2L620.9 325.6ZM619.6 325.6L618.6 336.2L608.0 335.2L609.0 324.6ZM607.8 324.4L604.7 334.5L594.6 331.5L597.6 321.3ZM596.4 320.9L591.5 330.2L582.1 325.3L587.1 315.9ZM586.0 315.2L579.3 323.4L571.1 316.7L577.8 308.5ZM576.8 307.6L568.7 314.3L561.9 306.2L570.1 299.4ZM569.4 298.3L560.0 303.4L555.0 294.1L564.3 289.0ZM563.8 287.8L553.7 290.9L550.6 280.8L560.7 277.7ZM560.5 276.4L549.9 277.5L548.8 267.0L559.4 265.9ZM559.4 264.6L548.8 263.6L549.8 253.0L560.4 254.0ZM560.6 252.8L550.5 249.7L553.5 239.6L563.7 242.6ZM564.1 241.4L554.8 236.5L559.7 227.1L569.1 232.1ZM569.8 231.0L561.6 224.3L568.3 216.1L576.5 222.8ZM577.4 221.8L570.7 213.7L578.8 206.9L585.6 215.1ZM586.7 214.4L581.6 205.0L590.9 200.0L596.0 209.3ZM597.2 208.8L594.1 198.7L604.2 195.6L607.3 205.7ZM608.6 205.5L607.5 194.9L618.0 193.8L619.1 204.4ZM620.4 204.4L621.4 193.8L632.0 194.8L631.0 205.4ZM632.2 205.6L635.3 195.5L645.4 198.5L642.4 208.7ZM643.6 209.1L648.5 199.8L657.9 204.7L652.9 214.1ZM654.0 214.8L660.7 206.6L668.9 213.3L662.2 221.5ZM663.2 222.4L671.3 215.7L678.1 223.8L669.9 230.6ZM670.6 231.7L680.0 226.6L685.0 235.9L675.7 241.0ZM676.2 242.2L686.3 239.1L689.4 249.2L679.3 252.3ZM679.5 253.6L690.1 252.5L691.2 263.0L680.6 264.1ZM693.2 269.7L703.7 271.2L702.3 281.7L691.8 280.2ZM691.5 281.4L701.7 284.5L698.5 294.7L688.4 291.6ZM688.0 292.7L697.5 297.4L692.8 306.9L683.3 302.2ZM682.6 303.2L691.3 309.4L685.1 318.0L676.5 311.9ZM675.7 312.8L683.2 320.3L675.8 327.8L668.2 320.3ZM667.3 321.1L673.5 329.7L665.0 335.9L658.7 327.3ZM657.7 328.0L662.5 337.4L653.0 342.2L648.2 332.7ZM647.1 333.2L650.3 343.3L640.2 346.5L637.0 336.4ZM635.8 336.7L637.4 347.2L626.9 348.7L625.3 338.2ZM624.1 338.3L623.9 348.9L613.4 348.7L613.5 338.1ZM612.3 338.0L610.4 348.4L600.0 346.6L601.9 336.1ZM600.7 335.8L597.2 345.8L587.2 342.3L590.7 332.3ZM589.6 331.8L584.5 341.1L575.2 336.0L580.3 326.7ZM579.3 326.1L572.8 334.4L564.4 327.9L570.9 319.6ZM570.0 318.7L562.2 326.0L555.0 318.2L562.8 311.0ZM562.0 310.0L553.2 315.9L547.3 307.1L556.2 301.2ZM555.6 300.1L545.9 304.5L541.5 294.9L551.2 290.5ZM550.8 289.3L540.5 292.1L537.8 281.9L548.0 279.1ZM547.8 277.9L537.2 279.0L536.1 268.5L546.6 267.4ZM546.6 266.2L536.0 265.6L536.6 255.0L547.2 255.6ZM547.4 254.4L537.0 252.1L539.3 241.7L549.7 244.0ZM550.0 242.9L540.2 239.0L544.1 229.1L553.9 233.0ZM554.5 231.9L545.4 226.5L550.8 217.4L559.9 222.8ZM560.6 221.8L552.5 215.0L559.4 206.9L567.5 213.7ZM568.3 212.9L561.4 204.8L569.5 197.9L576.4 206.0ZM577.4 205.3L571.8 196.2L580.9 190.7L586.4 199.7ZM587.5 199.2L583.5 189.4L593.3 185.4L597.3 195.2ZM598.5 194.8L596.1 184.5L606.4 182.1L608.8 192.5ZM610.0 192.3L609.3 181.7L619.9 181.0L620.6 191.6ZM621.8 191.6L622.8 181.1L633.4 182.1L632.3 192.7ZM633.5 192.9L636.2 182.6L646.5 185.3L643.8 195.6ZM644.9 196.0L649.2 186.3L658.9 190.6L654.6 200.3ZM655.7 200.9L661.5 192.0L670.4 197.8L664.5 206.7ZM665.5 207.4L672.7 199.6L680.5 206.8L673.3 214.6ZM674.2 215.5L682.5 208.9L689.0 217.2L680.7 223.8ZM681.4 224.8L690.7 219.6L695.8 228.9L686.6 234.1ZM687.1 235.2L697.0 231.6L700.6 241.5L690.7 245.1ZM691.0 246.3L701.4 244.4L703.3 254.8L692.9 256.7ZM693.1 257.9L703.6 257.7L703.9 268.3L693.3 268.5ZM706.1 262.3L716.7 262.7L716.4 273.3L705.8 272.9ZM705.7 274.4L716.1 276.2L714.3 286.6L703.9 284.8ZM703.5 286.2L713.6 289.4L710.4 299.5L700.3 296.3ZM699.8 297.6L709.3 302.2L704.7 311.8L695.2 307.1ZM694.4 308.4L703.3 314.3L697.4 323.1L688.6 317.2ZM687.7 318.3L695.6 325.4L688.5 333.3L680.6 326.2ZM679.6 327.2L686.4 335.3L678.4 342.2L671.5 334.1ZM670.4 334.9L676.0 343.9L667.1 349.5L661.4 340.6ZM660.1 341.2L664.5 350.9L654.8 355.3L650.5 345.6ZM649.1 346.1L652.1 356.3L641.9 359.2L639.0 349.1ZM637.6 349.4L639.1 359.8L628.6 361.4L627.1 350.9ZM625.7 351.0L625.7 361.6L615.1 361.6L615.1 351.0ZM613.6 350.9L612.2 361.4L601.7 360.0L603.1 349.5ZM601.7 349.2L598.9 359.4L588.7 356.5L591.5 346.3ZM590.2 345.8L585.9 355.5L576.2 351.3L580.5 341.6ZM579.2 340.9L573.7 349.9L564.6 344.3L570.2 335.3ZM569.1 334.5L562.3 342.6L554.1 335.9L560.9 327.7ZM559.9 326.7L552.0 333.9L544.9 326.0L552.8 318.9ZM551.9 317.8L543.1 323.7L537.2 315.0L545.9 309.0ZM545.2 307.8L535.7 312.5L531.0 303.0L540.5 298.3ZM540.0 297.0L529.9 300.3L526.6 290.2L536.7 286.9ZM536.3 285.5L525.9 287.4L524.0 277.0L534.4 275.1ZM534.3 273.7L523.7 274.1L523.3 263.5L533.9 263.1ZM533.9 261.6L523.4 260.6L524.4 250.0L535.0 251.1ZM535.2 249.7L524.9 247.2L527.4 236.9L537.7 239.4ZM538.2 238.0L528.3 234.1L532.2 224.3L542.1 228.2ZM542.7 226.9L533.5 221.7L538.8 212.4L548.0 217.7ZM548.8 216.5L540.4 210.0L546.9 201.7L555.3 208.1ZM556.2 207.1L548.8 199.5L556.4 192.1L563.8 199.7ZM564.9 198.8L558.6 190.2L567.2 184.0L573.4 192.5ZM574.6 191.7L569.6 182.4L579.0 177.4L584.0 186.7ZM585.3 186.1L581.6 176.2L591.6 172.5L595.2 182.5ZM596.6 182.1L594.3 171.7L604.7 169.5L606.9 179.8ZM608.4 179.6L607.6 169.1L618.1 168.3L618.9 178.8ZM620.4 178.8L621.0 168.3L631.6 169.0L630.9 179.5ZM632.3 179.7L634.5 169.3L644.9 171.5L642.7 181.9ZM644.1 182.3L647.7 172.3L657.6 175.9L654.1 185.9ZM655.4 186.4L660.3 177.0L669.7 182.0L664.7 191.4ZM666.0 192.1L672.2 183.5L680.8 189.7L674.6 198.3ZM675.7 199.2L683.0 191.6L690.6 198.9L683.3 206.6ZM684.3 207.6L692.6 201.0L699.2 209.4L690.8 215.9ZM691.6 217.1L700.8 211.8L706.1 220.9L697.0 226.3ZM697.6 227.5L707.4 223.5L711.4 233.3L701.6 237.4ZM702.1 238.7L712.3 236.1L714.9 246.4L704.7 249.0ZM704.9 250.4L715.5 249.2L716.6 259.8L706.1 260.9ZM718.9 266.9L729.5 267.7L728.7 278.2L718.2 277.5ZM717.9 279.0L728.3 281.1L726.3 291.5L715.9 289.4ZM715.5 291.0L725.5 294.3L722.2 304.4L712.2 301.0ZM711.6 302.5L721.1 307.0L716.6 316.6L707.0 312.1ZM706.3 313.5L715.2 319.1L709.5 328.1L700.6 322.4ZM699.6 323.7L707.8 330.4L701.1 338.6L692.9 331.9ZM691.8 333.0L699.1 340.7L691.4 348.0L684.1 340.3ZM682.9 341.4L689.2 349.9L680.7 356.2L674.4 347.6ZM673.1 348.5L678.3 357.7L669.0 362.9L663.8 353.7ZM662.4 354.4L666.4 364.2L656.6 368.2L652.6 358.4ZM651.1 358.9L653.9 369.2L643.7 371.9L640.9 361.7ZM639.3 362.0L640.8 372.5L630.3 374.0L628.8 363.5ZM627.2 363.7L627.5 374.3L616.9 374.5L616.6 363.9ZM615.1 363.8L614.0 374.4L603.4 373.3L604.5 362.7ZM603.0 362.5L600.6 372.8L590.2 370.4L592.6 360.1ZM591.1 359.6L587.5 369.6L577.5 366.0L581.2 356.0ZM579.7 355.4L574.9 364.8L565.4 360.0L570.3 350.5ZM568.9 349.7L562.9 358.5L554.2 352.5L560.1 343.8ZM558.9 342.8L551.9 350.8L543.9 343.8L550.9 335.8ZM549.8 334.7L541.9 341.8L534.8 333.8L542.7 326.8ZM541.7 325.5L533.0 331.6L527.0 322.9L535.7 316.8ZM534.9 315.5L525.5 320.4L520.6 311.0L530.0 306.1ZM529.3 304.6L519.4 308.3L515.7 298.4L525.6 294.7ZM525.2 293.2L514.9 295.7L512.4 285.4L522.7 282.9ZM522.4 281.3L511.9 282.5L510.7 272.0L521.2 270.8ZM521.1 269.2L510.5 269.1L510.7 258.5L521.3 258.6ZM521.4 257.0L510.9 255.6L512.3 245.1L522.8 246.5ZM523.1 245.0L512.9 242.3L515.6 232.0L525.8 234.7ZM572.2 178.4L567.6 168.8L577.1 164.2L581.7 173.8ZM583.2 173.2L579.8 163.1L589.8 159.7L593.2 169.8ZM594.7 169.3L592.6 159.0L603.0 156.8L605.1 167.2ZM606.7 167.0L605.8 156.4L616.4 155.5L617.3 166.1ZM618.8 166.1L619.3 155.5L629.9 155.9L629.4 166.5ZM631.0 166.7L632.8 156.2L643.2 158.0L641.5 168.4ZM643.0 168.8L646.0 158.6L656.2 161.6L653.2 171.8ZM654.7 172.3L658.9 162.6L668.6 166.9L664.4 176.6ZM665.8 177.3L671.2 168.2L680.3 173.6L674.9 182.7ZM676.2 183.6L682.7 175.2L691.1 181.7L684.6 190.1ZM685.8 191.1L693.3 183.6L700.8 191.0L693.3 198.6ZM694.4 199.8L702.7 193.2L709.3 201.5L700.9 208.1ZM701.8 209.4L710.9 203.9L716.4 213.0L707.3 218.5ZM708.0 219.9L717.7 215.5L722.0 225.2L712.4 229.5ZM712.9 231.0L723.1 227.9L726.2 238.1L716.0 241.2ZM716.4 242.7L726.8 240.9L728.7 251.3L718.2 253.1ZM718.4 254.7L729.0 254.2L729.5 264.8L718.9 265.3ZM731.5 271.5L742.1 272.6L741.0 283.2L730.4 282.1ZM730.1 283.7L740.5 286.0L738.2 296.4L727.9 294.1ZM727.4 295.8L737.5 299.1L734.1 309.2L724.0 305.8ZM723.4 307.4L733.0 311.9L728.5 321.5L718.9 317.0ZM718.1 318.5L727.1 324.0L721.6 333.1L712.6 327.5ZM711.6 329.0L720.0 335.4L713.5 343.8L705.1 337.4ZM704.0 338.6L711.6 346.0L704.3 353.6L696.7 346.3ZM695.4 347.4L702.2 355.6L694.0 362.4L687.2 354.2ZM685.9 355.2L691.7 364.1L682.9 369.9L677.0 361.1ZM675.5 361.9L680.4 371.4L670.9 376.2L666.1 366.8ZM664.5 367.5L668.3 377.4L658.4 381.1L654.6 371.2ZM580.5 369.5L576.3 379.2L566.5 375.0L570.8 365.3ZM569.2 364.5L564.0 373.7L554.8 368.5L560.0 359.3ZM558.6 358.3L552.3 366.9L543.8 360.7L550.0 352.1ZM548.7 351.0L541.5 358.8L533.7 351.7L540.9 343.9ZM539.7 342.6L531.7 349.6L524.7 341.7L532.7 334.7ZM531.6 333.3L522.9 339.4L516.8 330.7L525.5 324.7ZM524.6 323.2L515.3 328.3L510.2 319.0L519.5 313.9ZM518.8 312.4L509.0 316.4L505.0 306.6L514.8 302.6ZM514.2 300.9L504.0 303.9L501.1 293.7L511.3 290.7ZM510.9 289.1L500.5 290.9L498.7 280.4L509.1 278.6ZM508.9 276.9L498.3 277.6L497.7 267.0L508.3 266.3ZM508.3 264.6L497.7 264.1L498.2 253.5L508.8 254.1ZM581.2 160.2L578.0 150.1L588.1 146.9L591.3 157.0ZM592.9 156.6L590.8 146.2L601.2 144.1L603.3 154.5ZM605.0 154.3L604.1 143.7L614.7 142.8L615.6 153.4ZM617.3 153.3L617.5 142.7L628.1 143.0L627.9 153.6ZM629.6 153.7L631.0 143.2L641.5 144.6L640.1 155.1ZM641.8 155.4L644.3 145.1L654.6 147.7L652.1 158.0ZM653.7 158.5L657.4 148.5L667.3 152.2L663.6 162.2ZM665.2 162.8L670.0 153.4L679.4 158.1L674.7 167.6ZM676.2 168.4L681.9 159.5L690.8 165.3L685.1 174.2ZM686.5 175.2L693.2 167.0L701.4 173.7L694.7 181.9ZM695.9 183.0L703.5 175.6L710.9 183.2L703.4 190.6ZM704.5 191.9L712.8 185.4L719.4 193.7L711.0 200.2ZM712.0 201.6L721.0 196.0L726.6 205.1L717.6 210.6ZM718.4 212.1L728.0 207.6L732.6 217.1L723.0 221.7ZM723.6 223.3L733.7 219.8L737.1 229.8L727.1 233.3ZM727.6 234.9L737.9 232.6L740.3 242.9L730.0 245.3ZM730.3 247.0L740.8 245.8L742.0 256.3L731.5 257.5ZM731.6 259.2L742.2 259.2L742.2 269.8L731.6 269.8ZM744.5 263.7L755.1 264.1L754.8 274.7L744.2 274.3ZM744.0 275.9L754.5 277.3L753.2 287.8L742.7 286.5ZM742.4 288.0L752.7 290.5L750.3 300.8L740.0 298.4ZM739.5 299.9L749.6 303.3L746.1 313.4L736.1 310.0ZM735.5 311.5L745.2 315.8L740.8 325.5L731.1 321.1ZM730.4 322.6L739.6 327.9L734.3 337.1L725.1 331.8ZM724.2 333.1L732.8 339.3L726.7 347.9L718.1 341.7ZM717.0 343.0L725.0 350.0L718.0 358.0L710.1 351.0ZM708.9 352.1L716.2 359.9L708.5 367.1L701.2 359.4ZM700.0 360.4L706.4 368.8L698.0 375.3L691.6 366.9ZM551.9 369.2L545.7 377.8L537.1 371.7L543.3 363.1ZM542.0 362.0L535.0 370.0L527.0 363.0L534.0 355.1ZM532.9 353.9L525.1 361.2L517.9 353.5L525.6 346.2ZM524.6 345.0L516.2 351.4L509.7 343.0L518.1 336.6ZM517.2 335.2L508.2 340.8L502.6 331.8L511.6 326.2ZM510.8 324.8L501.3 329.5L496.6 320.0L506.1 315.3ZM505.5 313.8L495.5 317.6L491.8 307.6L501.7 303.9ZM501.2 302.4L491.0 305.1L488.2 294.9L498.5 292.1ZM498.1 290.5L487.7 292.3L485.9 281.8L496.4 280.1ZM594.5 143.1L592.7 132.7L603.2 130.9L604.9 141.4ZM606.5 141.2L605.8 130.6L616.4 129.9L617.1 140.5ZM618.7 140.5L619.1 129.9L629.7 130.2L629.3 140.8ZM630.9 141.0L632.3 130.5L642.8 131.8L641.5 142.3ZM643.0 142.6L645.5 132.3L655.8 134.7L653.4 145.0ZM654.9 145.5L658.3 135.4L668.4 138.9L665.0 148.9ZM666.5 149.5L670.8 139.8L680.5 144.2L676.1 153.9ZM677.6 154.6L682.9 145.4L692.1 150.7L686.8 159.9ZM688.1 160.8L694.3 152.2L702.9 158.3L696.7 166.9ZM698.0 168.0L705.0 160.0L713.0 167.0L706.0 174.9ZM707.1 176.1L714.9 168.8L722.1 176.5L714.4 183.8ZM715.4 185.0L723.8 178.6L730.3 187.0L721.9 193.4ZM722.8 194.8L731.8 189.2L737.4 198.2L728.4 203.8ZM729.2 205.2L738.7 200.5L743.4 210.0L733.9 214.7ZM734.5 216.2L744.5 212.4L748.2 222.4L738.3 226.1ZM738.8 227.6L749.0 224.9L751.8 235.1L741.5 237.9ZM741.9 239.5L752.3 237.7L754.1 248.2L743.6 249.9ZM743.8 251.5L754.4 250.8L755.1 261.4L744.5 262.1ZM757.3 268.3L767.8 269.0L767.2 279.6L756.6 278.9ZM756.4 280.6L766.9 282.2L765.3 292.7L754.8 291.1ZM754.5 292.8L764.8 295.3L762.2 305.6L751.9 303.1ZM751.4 304.7L761.5 308.2L758.0 318.2L748.0 314.7ZM747.3 316.3L757.0 320.7L752.7 330.4L743.0 326.0ZM742.2 327.6L751.5 332.7L746.3 342.0L737.0 336.8ZM736.1 338.3L744.9 344.3L738.9 353.0L730.1 347.0ZM729.1 348.4L737.3 355.1L730.5 363.3L722.3 356.5ZM721.2 357.8L728.7 365.3L721.2 372.8L713.7 365.3ZM712.5 366.5L719.3 374.6L711.2 381.4L704.3 373.3ZM531.8 370.2L524.7 378.1L516.8 371.0L524.0 363.1ZM522.7 361.9L514.9 369.1L507.8 361.3L515.6 354.1ZM514.4 352.8L506.0 359.3L499.6 350.9L508.0 344.4ZM507.0 343.0L498.0 348.7L492.4 339.7L501.3 334.0ZM500.5 332.5L491.0 337.4L486.2 328.0L495.6 323.1ZM486.8 298.3L476.4 300.5L474.3 290.1L484.6 287.9ZM604.9 128.5L604.1 118.0L614.7 117.2L615.4 127.8ZM617.2 127.7L617.4 117.1L628.0 117.3L627.8 127.9ZM629.5 128.0L630.6 117.5L641.2 118.6L640.0 129.2ZM641.7 129.4L643.8 119.0L654.2 121.1L652.1 131.5ZM653.8 131.9L656.8 121.8L667.0 124.8L664.0 134.9ZM665.6 135.5L669.5 125.6L679.3 129.5L675.4 139.4ZM677.0 140.1L681.8 130.6L691.2 135.4L686.5 144.9ZM688.0 145.7L693.6 136.7L702.6 142.3L697.0 151.3ZM698.4 152.3L704.8 143.8L713.2 150.2L706.9 158.7ZM708.2 159.8L715.3 151.9L723.2 159.0L716.0 166.9ZM717.3 168.1L725.1 160.9L732.2 168.7L724.4 175.9ZM725.6 177.2L734.0 170.7L740.4 179.1L732.0 185.6ZM733.0 187.0L742.0 181.3L747.6 190.3L738.7 196.0ZM739.5 197.5L749.0 192.6L753.8 202.0L744.4 206.9ZM745.1 208.4L754.9 204.4L758.9 214.3L749.1 218.3ZM749.7 219.9L759.8 216.8L762.9 226.9L752.8 230.0ZM753.2 231.7L763.6 229.5L765.7 239.9L755.4 242.1ZM755.6 243.8L766.2 242.5L767.4 253.1L756.9 254.3ZM757.0 256.0L767.6 255.7L767.9 266.3L757.3 266.6ZM763.3 309.5L773.3 313.0L769.8 323.0L759.8 319.5ZM759.2 321.2L768.9 325.5L764.5 335.2L754.9 330.9ZM754.1 332.5L763.3 337.6L758.2 346.9L749.0 341.8ZM748.0 343.3L756.9 349.2L751.0 358.0L742.2 352.2ZM741.1 353.7L749.4 360.2L742.9 368.5L734.6 362.0ZM733.4 363.4L741.1 370.6L733.9 378.3L726.2 371.1ZM615.6 115.0L615.6 104.4L626.2 104.4L626.2 115.0ZM628.0 115.1L628.9 104.6L639.5 105.5L638.5 116.1ZM640.3 116.3L642.1 105.8L652.6 107.6L650.8 118.1ZM652.5 118.5L655.2 108.2L665.5 110.9L662.8 121.1ZM664.5 121.7L668.0 111.7L678.0 115.2L674.5 125.2ZM676.2 125.8L680.5 116.1L690.2 120.5L685.9 130.1ZM687.5 130.9L692.6 121.7L701.9 126.8L696.8 136.0ZM764.3 223.9L774.6 221.3L777.2 231.6L766.9 234.2ZM766.3 336.6L775.7 341.5L770.7 350.9L761.4 345.9ZM760.5 347.4L769.4 353.1L763.8 362.1L754.8 356.4ZM753.8 357.8L762.4 364.1L756.0 372.7L747.5 366.3ZM629.4 102.4L630.3 91.8L640.9 92.8L639.9 103.3ZM641.6 103.6L643.4 93.1L653.8 94.9L652.1 105.3ZM653.8 105.7L656.3 95.4L666.6 97.9L664.1 108.2ZM665.7 108.7L669.0 98.6L679.1 101.9L675.8 112.0ZM640.2 90.5L641.7 80.0L652.2 81.5L650.7 92.0ZM652.5 92.3L654.7 82.0L665.1 84.3L662.8 94.6ZM638.7 77.5L640.1 66.9L650.6 68.3L649.2 78.8ZM842.0 88.0m-7 0a7 7 0 1 0 14 0a7 7 0 1 0 -14 0M851.2 82.7L861.8 82.7L861.8 93.3L851.2 93.3ZM852.3 90.8L859.7 98.3L852.3 105.7L844.8 98.3ZM847.3 97.2L847.3 107.8L836.7 107.8L836.7 97.2ZM839.2 98.3L831.7 105.7L824.3 98.3L831.7 90.8ZM832.8 93.3L822.2 93.3L822.2 82.7L832.8 82.7ZM831.7 85.2L824.3 77.7L831.7 70.3L839.2 77.7ZM836.7 78.8L836.7 68.2L847.3 68.2L847.3 78.8ZM844.8 77.7L852.3 70.3L859.7 77.7L852.3 85.2ZM864.6 86.7L875.0 88.6L873.1 99.0L862.7 97.1ZM862.6 97.3L871.0 103.9L864.5 112.2L856.1 105.7ZM855.9 105.9L860.3 115.5L850.6 119.9L846.2 110.2ZM846.0 110.3L845.4 120.9L834.8 120.2L835.4 109.7ZM835.2 109.6L829.7 118.7L820.7 113.2L826.1 104.1ZM826.0 104.0L816.9 109.5L811.4 100.4L820.4 94.9ZM820.4 94.7L809.8 95.3L809.1 84.8L819.7 84.1ZM819.8 83.9L810.1 79.5L814.4 69.9L824.1 74.2ZM824.2 74.0L817.7 65.7L826.0 59.1L832.6 67.4ZM832.8 67.3L830.8 56.9L841.3 55.0L843.2 65.4ZM843.4 65.4L846.6 55.3L856.7 58.4L853.6 68.5ZM853.8 68.7L861.2 61.2L868.8 68.6L861.3 76.1ZM861.4 76.3L871.5 73.2L874.7 83.3L864.6 86.5ZM877.1 90.9L887.4 93.3L885.0 103.6L874.6 101.2ZM874.5 101.6L883.5 107.1L878.0 116.1L869.0 110.6ZM868.7 110.9L875.6 119.0L867.6 125.9L860.7 117.8ZM860.3 118.1L864.4 127.8L854.6 131.9L850.5 122.2ZM850.1 122.3L851.0 132.8L840.4 133.7L839.6 123.1ZM839.1 123.1L836.7 133.4L826.4 131.0L828.8 120.6ZM828.4 120.5L822.9 129.5L813.9 124.0L819.4 115.0ZM819.1 114.7L811.0 121.6L804.1 113.6L812.2 106.7ZM811.9 106.3L802.2 110.4L798.1 100.6L807.8 96.5ZM807.7 96.1L797.2 97.0L796.3 86.4L806.9 85.6ZM806.9 85.1L796.6 82.7L799.0 72.4L809.4 74.8ZM809.5 74.4L800.5 68.9L806.0 59.9L815.0 65.4ZM815.3 65.1L808.4 57.0L816.4 50.1L823.3 58.2ZM823.7 57.9L819.6 48.2L829.4 44.1L833.5 53.8ZM833.9 53.7L833.0 43.2L843.6 42.3L844.4 52.9ZM844.9 52.9L847.3 42.6L857.6 45.0L855.2 55.4ZM855.6 55.5L861.1 46.5L870.1 52.0L864.6 61.0ZM864.9 61.3L873.0 54.4L879.9 62.4L871.8 69.3ZM872.1 69.7L881.8 65.6L885.9 75.4L876.2 79.5ZM876.3 79.9L886.8 79.0L887.7 89.6L877.1 90.4ZM889.7 84.0L900.3 84.2L900.0 94.8L889.4 94.6ZM889.3 95.5L899.5 98.3L896.7 108.5L886.5 105.7ZM886.1 106.6L895.4 111.8L890.2 121.0L881.0 115.9ZM880.4 116.6L888.1 123.9L880.9 131.6L873.2 124.4ZM872.4 125.0L878.2 133.9L869.3 139.7L863.5 130.8ZM862.7 131.2L866.2 141.2L856.2 144.7L852.7 134.7ZM851.8 134.9L852.8 145.4L842.2 146.4L841.2 135.9ZM840.3 135.9L838.7 146.3L828.2 144.8L829.8 134.3ZM828.8 134.1L824.8 143.9L815.0 139.8L819.0 130.0ZM818.2 129.6L812.0 138.1L803.4 131.9L809.6 123.3ZM809.0 122.7L800.8 129.5L794.0 121.4L802.1 114.5ZM801.6 113.7L792.1 118.4L787.4 108.9L796.9 104.2ZM796.6 103.3L786.3 105.6L784.0 95.2L794.4 93.0ZM794.3 92.0L783.7 91.8L784.0 81.2L794.6 81.4ZM794.7 80.5L784.5 77.7L787.3 67.5L797.5 70.3ZM797.9 69.4L788.6 64.2L793.8 55.0L803.0 60.1ZM803.6 59.4L795.9 52.1L803.1 44.4L810.8 51.6ZM811.6 51.0L805.8 42.1L814.7 36.3L820.5 45.2ZM821.3 44.8L817.8 34.8L827.8 31.3L831.3 41.3ZM832.2 41.1L831.2 30.6L841.8 29.6L842.8 40.1ZM843.7 40.1L845.3 29.7L855.8 31.2L854.2 41.7ZM855.2 41.9L859.2 32.1L869.0 36.2L865.0 46.0ZM865.8 46.4L872.0 37.9L880.6 44.1L874.4 52.7ZM875.0 53.3L883.2 46.5L890.0 54.6L881.9 61.5ZM882.4 62.3L891.9 57.6L896.6 67.1L887.1 71.8ZM887.4 72.7L897.7 70.4L900.0 80.8L889.6 83.0ZM902.6 88.4L913.2 89.4L912.2 100.0L901.6 99.0ZM901.4 100.2L911.5 103.3L908.5 113.4L898.3 110.4ZM897.9 111.6L907.2 116.5L902.3 125.9L892.9 120.9ZM892.2 122.0L900.4 128.7L893.7 136.9L885.5 130.2ZM884.6 131.2L891.3 139.3L883.2 146.1L876.4 137.9ZM875.3 138.6L880.4 148.0L871.1 153.0L866.0 143.7ZM864.8 144.2L867.9 154.3L857.8 157.4L854.7 147.3ZM853.4 147.5L854.5 158.1L844.0 159.2L842.9 148.6ZM841.6 148.6L840.6 159.2L830.0 158.2L831.0 147.6ZM829.8 147.4L826.7 157.5L816.6 154.5L819.6 144.3ZM818.4 143.9L813.5 153.2L804.1 148.3L809.1 138.9ZM808.0 138.2L801.3 146.4L793.1 139.7L799.8 131.5ZM798.8 130.6L790.7 137.3L783.9 129.2L792.1 122.4ZM791.4 121.3L782.0 126.4L777.0 117.1L786.3 112.0ZM785.8 110.8L775.7 113.9L772.6 103.8L782.7 100.7ZM782.5 99.4L771.9 100.5L770.8 90.0L781.4 88.9ZM781.4 87.6L770.8 86.6L771.8 76.0L782.4 77.0ZM782.6 75.8L772.5 72.7L775.5 62.6L785.7 65.6ZM786.1 64.4L776.8 59.5L781.7 50.1L791.1 55.1ZM791.8 54.0L783.6 47.3L790.3 39.1L798.5 45.8ZM799.4 44.8L792.7 36.7L800.8 29.9L807.6 38.1ZM808.7 37.4L803.6 28.0L812.9 23.0L818.0 32.3ZM865.6 32.1L870.5 22.8L879.9 27.7L874.9 37.1ZM876.0 37.8L882.7 29.6L890.9 36.3L884.2 44.5ZM885.2 45.4L893.3 38.7L900.1 46.8L891.9 53.6ZM892.6 54.7L902.0 49.6L907.0 58.9L897.7 64.0ZM898.2 65.2L908.3 62.1L911.4 72.2L901.3 75.3ZM901.5 76.6L912.1 75.5L913.2 86.0L902.6 87.1ZM915.2 92.7L925.7 94.2L924.3 104.7L913.8 103.2ZM913.5 104.4L923.7 107.5L920.5 117.7L910.4 114.6ZM910.0 115.7L919.5 120.4L914.8 129.9L905.3 125.2ZM904.6 126.2L913.3 132.4L907.1 141.0L898.5 134.9ZM897.7 135.8L905.2 143.3L897.8 150.8L890.2 143.3ZM889.3 144.1L895.5 152.7L887.0 158.9L880.7 150.3ZM879.7 151.0L884.5 160.4L875.0 165.2L870.2 155.7ZM869.1 156.2L872.3 166.3L862.2 169.5L859.0 159.4ZM857.8 159.7L859.4 170.2L848.9 171.7L847.3 161.2ZM846.1 161.3L845.9 171.9L835.4 171.7L835.5 161.1ZM834.3 161.0L832.4 171.4L822.0 169.6L823.9 159.1ZM822.7 158.8L819.2 168.8L809.2 165.3L812.7 155.3ZM811.6 154.8L806.5 164.1L797.2 159.0L802.3 149.7ZM801.3 149.1L794.8 157.4L786.4 150.9L792.9 142.6ZM792.0 141.7L784.2 149.0L777.0 141.2L784.8 134.0ZM784.0 133.0L775.2 138.9L769.3 130.1L778.2 124.2ZM777.6 123.1L767.9 127.5L763.5 117.9L773.2 113.5ZM772.8 112.3L762.5 115.1L759.8 104.9L770.0 102.1ZM769.8 100.9L759.2 102.0L758.1 91.5L768.6 90.4ZM768.6 89.2L758.0 88.6L758.6 78.0L769.2 78.6ZM769.4 77.4L759.0 75.1L761.3 64.7L771.7 67.0ZM772.0 65.9L762.2 62.0L766.1 52.1L775.9 56.0ZM776.5 54.9L767.4 49.5L772.8 40.4L781.9 45.8ZM782.6 44.8L774.5 38.0L781.4 29.9L789.5 36.7ZM790.3 35.9L783.4 27.8L791.5 20.9L798.4 29.0ZM887.5 30.4L894.7 22.6L902.5 29.8L895.3 37.6ZM896.2 38.5L904.5 31.9L911.0 40.2L902.7 46.8ZM903.4 47.8L912.7 42.6L917.8 51.9L908.6 57.1ZM909.1 58.2L919.0 54.6L922.6 64.5L912.7 68.1ZM913.0 69.3L923.4 67.4L925.3 77.8L914.9 79.7ZM915.1 80.9L925.6 80.7L925.9 91.3L915.3 91.5ZM928.1 85.3L938.7 85.7L938.4 96.3L927.8 95.9ZM927.7 97.4L938.1 99.2L936.3 109.6L925.9 107.8ZM925.5 109.2L935.6 112.4L932.4 122.5L922.3 119.3ZM921.8 120.6L931.3 125.2L926.7 134.8L917.2 130.1ZM916.4 131.4L925.3 137.3L919.4 146.1L910.6 140.2ZM909.7 141.3L917.6 148.4L910.5 156.3L902.6 149.2ZM901.6 150.2L908.4 158.3L900.4 165.2L893.5 157.1ZM892.4 157.9L898.0 166.9L889.1 172.5L883.4 163.6ZM882.1 164.2L886.5 173.9L876.8 178.3L872.5 168.6ZM871.1 169.1L874.1 179.3L863.9 182.2L861.0 172.1ZM859.6 172.4L861.1 182.8L850.6 184.4L849.1 173.9ZM847.7 174.0L847.7 184.6L837.1 184.6L837.1 174.0ZM835.6 173.9L834.2 184.4L823.7 183.0L825.1 172.5ZM823.7 172.2L820.9 182.4L810.7 179.5L813.5 169.3ZM812.2 168.8L807.9 178.5L798.2 174.3L802.5 164.6ZM801.2 163.9L795.7 172.9L786.6 167.3L792.2 158.3ZM791.1 157.5L784.3 165.6L776.1 158.9L782.9 150.7ZM781.9 149.7L774.0 156.9L766.9 149.0L774.8 141.9ZM773.9 140.8L765.1 146.7L759.2 138.0L767.9 132.0ZM767.2 130.8L757.7 135.5L753.0 126.0L762.5 121.3ZM762.0 120.0L751.9 123.3L748.6 113.2L758.7 109.9ZM758.3 108.5L747.9 110.4L746.0 100.0L756.4 98.1ZM756.3 96.7L745.7 97.1L745.3 86.5L755.9 86.1ZM755.9 84.6L745.4 83.6L746.4 73.0L757.0 74.1ZM757.2 72.7L746.9 70.2L749.4 59.9L759.7 62.4ZM760.2 61.0L750.3 57.1L754.2 47.3L764.1 51.2ZM764.7 49.9L755.5 44.7L760.8 35.4L770.0 40.7ZM770.8 39.5L762.4 33.0L768.9 24.7L777.3 31.1ZM906.3 30.6L914.6 24.0L921.2 32.4L912.8 38.9ZM913.6 40.1L922.8 34.8L928.1 43.9L919.0 49.3ZM919.6 50.5L929.4 46.5L933.4 56.3L923.6 60.4ZM924.1 61.7L934.3 59.1L936.9 69.4L926.7 72.0ZM926.9 73.4L937.5 72.2L938.6 82.8L928.1 83.9ZM933.6 125.5L943.1 130.0L938.6 139.6L929.0 135.1ZM928.3 136.5L937.2 142.1L931.5 151.1L922.6 145.4ZM921.6 146.7L929.8 153.4L923.1 161.6L914.9 154.9ZM913.8 156.0L921.1 163.7L913.4 171.0L906.1 163.3ZM904.9 164.4L911.2 172.9L902.7 179.2L896.4 170.6ZM895.1 171.5L900.3 180.7L891.0 185.9L885.8 176.7ZM884.4 177.4L888.4 187.2L878.6 191.2L874.6 181.4ZM873.1 181.9L875.9 192.2L865.7 194.9L862.9 184.7ZM861.3 185.0L862.8 195.5L852.3 197.0L850.8 186.5ZM849.2 186.7L849.5 197.3L838.9 197.5L838.6 186.9ZM837.1 186.8L836.0 197.4L825.4 196.3L826.5 185.7ZM825.0 185.5L822.6 195.8L812.2 193.4L814.6 183.1ZM813.1 182.6L809.5 192.6L799.5 189.0L803.2 179.0ZM801.7 178.4L796.9 187.8L787.4 183.0L792.3 173.5ZM790.9 172.7L784.9 181.5L776.2 175.5L782.1 166.8ZM780.9 165.8L773.9 173.8L765.9 166.8L772.9 158.8ZM771.8 157.7L763.9 164.8L756.8 156.8L764.7 149.8ZM763.7 148.5L755.0 154.6L749.0 145.9L757.7 139.8ZM756.9 138.5L747.5 143.4L742.6 134.0L752.0 129.1ZM751.3 127.6L741.4 131.3L737.7 121.4L747.6 117.7ZM747.2 116.2L736.9 118.7L734.4 108.4L744.7 105.9ZM744.4 104.3L733.9 105.5L732.7 95.0L743.2 93.8ZM743.1 92.2L732.5 92.1L732.7 81.5L743.3 81.6ZM743.4 80.0L732.9 78.6L734.3 68.1L744.8 69.5ZM745.1 68.0L734.9 65.3L737.6 55.0L747.8 57.7ZM748.3 56.2L738.5 52.3L742.4 42.4L752.2 46.4ZM752.9 44.9L743.6 39.8L748.8 30.5L758.0 35.7ZM758.9 34.3L750.3 28.1L756.5 19.5L765.1 25.7ZM923.8 32.4L932.9 26.9L938.4 36.0L929.3 41.5ZM930.0 42.9L939.7 38.5L944.0 48.2L934.4 52.5ZM934.9 54.0L945.1 50.9L948.2 61.1L938.0 64.2ZM938.4 65.7L948.8 63.9L950.7 74.3L940.2 76.1ZM933.6 152.0L942.0 158.4L935.5 166.8L927.1 160.4ZM926.0 161.6L933.6 169.0L926.3 176.6L918.7 169.3ZM917.4 170.4L924.2 178.6L916.0 185.4L909.2 177.2ZM907.9 178.2L913.7 187.1L904.9 192.9L899.0 184.1ZM897.5 184.9L902.4 194.4L892.9 199.2L888.1 189.8ZM886.5 190.5L890.3 200.4L880.4 204.1L876.6 194.2ZM875.0 194.7L877.7 205.0L867.4 207.7L864.7 197.4ZM863.1 197.7L864.6 208.2L854.1 209.7L852.6 199.2ZM850.9 199.4L851.2 210.0L840.6 210.3L840.3 199.7ZM838.6 199.7L837.7 210.2L827.2 209.4L828.0 198.8ZM826.3 198.6L824.3 209.0L813.9 207.0L815.9 196.6ZM814.2 196.2L811.1 206.3L801.0 203.2L804.1 193.1ZM802.5 192.5L798.3 202.2L788.5 198.0L792.8 188.3ZM791.2 187.5L786.0 196.7L776.8 191.5L782.0 182.3ZM780.6 181.3L774.3 189.9L765.8 183.7L772.0 175.1ZM770.7 174.0L763.5 181.8L755.7 174.7L762.9 166.9ZM761.7 165.6L753.7 172.6L746.7 164.7L754.7 157.7ZM753.6 156.3L744.9 162.4L738.8 153.7L747.5 147.7ZM746.6 146.2L737.3 151.3L732.2 142.0L741.5 136.9ZM740.8 135.4L731.0 139.4L727.0 129.6L736.8 125.6ZM736.2 123.9L726.0 126.9L723.1 116.7L733.3 113.7ZM732.9 112.1L722.5 113.9L720.7 103.4L731.1 101.6ZM730.9 99.9L720.3 100.6L719.7 90.0L730.3 89.3ZM730.3 87.6L719.7 87.1L720.2 76.5L730.8 77.1ZM731.0 75.3L720.5 73.6L722.2 63.2L732.7 64.9ZM733.1 63.2L722.8 60.4L725.7 50.2L735.9 53.0ZM736.4 51.4L726.6 47.4L730.6 37.6L740.4 41.5ZM741.1 40.0L731.8 35.0L736.8 25.6L746.1 30.6ZM934.0 24.6L943.0 19.0L948.6 28.1L939.6 33.6ZM940.4 35.1L950.0 30.6L954.6 40.1L945.0 44.7ZM930.9 175.1L938.2 182.9L930.5 190.1L923.2 182.4ZM922.0 183.4L928.4 191.8L920.0 198.3L913.6 189.9ZM912.2 190.8L917.8 199.8L908.8 205.4L903.2 196.4ZM901.8 197.2L906.5 206.7L897.0 211.4L892.3 201.9ZM890.8 202.5L894.6 212.5L884.6 216.2L880.9 206.3ZM879.4 206.8L882.1 217.0L871.9 219.8L869.1 209.5ZM867.5 209.9L869.3 220.3L858.8 222.1L857.1 211.6ZM855.5 211.8L856.2 222.4L845.6 223.1L844.9 212.5ZM843.3 212.5L842.9 223.1L832.3 222.8L832.7 212.2ZM831.1 212.0L829.7 222.5L819.2 221.2L820.5 210.7ZM819.0 210.4L816.5 220.7L806.2 218.3L808.6 208.0ZM807.1 207.5L803.7 217.6L793.6 214.1L797.0 204.1ZM795.5 203.5L791.2 213.2L781.5 208.8L785.9 199.1ZM784.4 198.4L779.1 207.6L769.9 202.3L775.2 193.1ZM773.9 192.2L767.7 200.8L759.1 194.7L765.3 186.1ZM764.0 185.0L757.0 193.0L749.0 186.0L756.0 178.1ZM754.9 176.9L747.1 184.2L739.9 176.5L747.6 169.2ZM746.6 168.0L738.2 174.4L731.7 166.0L740.1 159.6ZM739.2 158.2L730.2 163.8L724.6 154.8L733.6 149.2ZM732.8 147.8L723.3 152.5L718.6 143.0L728.1 138.3ZM727.5 136.8L717.5 140.6L713.8 130.6L723.7 126.9ZM723.2 125.4L713.0 128.1L710.2 117.9L720.5 115.1ZM720.1 113.5L709.7 115.3L707.9 104.8L718.4 103.1ZM718.2 101.5L707.6 102.2L706.9 91.6L717.5 90.9ZM717.5 89.3L706.9 88.9L707.2 78.3L717.8 78.7ZM718.0 77.1L707.5 75.7L708.8 65.2L719.3 66.5ZM719.6 65.0L709.3 62.5L711.7 52.2L722.0 54.6ZM722.5 53.1L712.4 49.7L715.9 39.6L725.9 43.0ZM726.5 41.5L716.8 37.2L721.2 27.5L730.9 31.9ZM925.0 197.4L931.1 206.1L922.4 212.2L916.3 203.5ZM914.8 204.4L920.1 213.6L910.9 218.9L905.6 209.7ZM904.1 210.4L908.5 220.1L898.9 224.5L894.5 214.9ZM892.9 215.5L896.4 225.5L886.4 229.1L882.9 219.1ZM881.3 219.6L883.9 229.8L873.6 232.5L871.0 222.2ZM869.3 222.6L871.0 233.0L860.5 234.7L858.8 224.3ZM857.1 224.5L857.9 235.0L847.3 235.8L846.6 225.2ZM844.8 225.3L844.6 235.9L834.0 235.7L834.2 225.1ZM832.5 225.0L831.4 235.5L820.8 234.4L822.0 223.8ZM820.3 223.6L818.2 234.0L807.8 231.9L809.9 221.5ZM808.2 221.1L805.2 231.2L795.0 228.2L798.0 218.1ZM796.4 217.5L792.5 227.4L782.7 223.5L786.6 213.6ZM785.0 212.9L780.2 222.4L770.8 217.6L775.5 208.1ZM774.0 207.3L768.4 216.3L759.4 210.7L765.0 201.7ZM763.6 200.7L757.2 209.2L748.8 202.8L755.1 194.3ZM753.8 193.2L746.7 201.1L738.8 194.0L746.0 186.1ZM744.7 184.9L736.9 192.1L729.8 184.3L737.6 177.1ZM736.4 175.8L728.0 182.3L721.6 173.9L730.0 167.4ZM729.0 166.0L720.0 171.7L714.4 162.7L723.3 157.0ZM722.5 155.5L713.0 160.4L708.2 151.0L717.6 146.1ZM716.9 144.6L707.1 148.6L703.1 138.7L712.9 134.7ZM712.3 133.1L702.2 136.2L699.1 126.1L709.2 123.0ZM708.8 121.3L698.4 123.5L696.3 113.1L706.6 110.9ZM706.4 109.2L695.8 110.5L694.6 99.9L705.1 98.7ZM705.0 97.0L694.4 97.3L694.1 86.7L704.7 86.4ZM704.7 84.7L694.2 84.0L694.8 73.4L705.4 74.1ZM705.6 72.4L695.1 70.8L696.7 60.3L707.2 61.9ZM707.5 60.2L697.2 57.7L699.8 47.4L710.1 49.9ZM710.6 48.3L700.5 44.8L704.0 34.8L714.0 38.3ZM714.7 36.7L705.0 32.3L709.3 22.6L719.0 27.0ZM927.8 211.2L933.5 220.1L924.6 225.8L918.9 216.9ZM917.3 217.8L922.3 227.2L912.9 232.2L908.0 222.8ZM906.3 223.6L910.5 233.3L900.8 237.5L896.6 227.8ZM894.9 228.5L898.3 238.5L888.2 241.9L884.9 231.8ZM883.1 232.3L885.7 242.6L875.4 245.2L872.8 234.9ZM809.5 234.5L806.8 244.8L796.5 242.1L799.2 231.9ZM797.5 231.3L794.0 241.3L784.0 237.8L787.5 227.8ZM785.8 227.2L781.5 236.9L771.8 232.5L776.1 222.9ZM774.5 222.1L769.4 231.3L760.1 226.2L765.2 217.0ZM697.7 129.1L687.4 131.7L684.8 121.4L695.1 118.8ZM694.7 117.1L684.3 118.7L682.6 108.3L693.1 106.6ZM692.9 104.8L682.3 105.6L681.5 95.1L692.0 94.2ZM692.0 92.4L681.4 92.4L681.4 81.8L692.0 81.8ZM692.1 80.0L681.6 79.1L682.5 68.5L693.1 69.5ZM693.3 67.7L682.8 65.9L684.6 55.4L695.1 57.2ZM695.5 55.5L685.2 52.8L687.9 42.5L698.1 45.2ZM698.7 43.5L688.7 40.0L692.2 30.0L702.2 33.5ZM921.5 230.1L926.4 239.6L917.0 244.4L912.1 235.0ZM680.1 106.3L669.6 107.2L668.7 96.6L679.3 95.8ZM679.2 94.0L668.6 94.1L668.6 83.5L679.2 83.4ZM679.2 81.7L668.7 81.0L669.4 70.4L680.0 71.1ZM680.2 69.4L669.7 67.9L671.2 57.4L681.7 58.9ZM682.0 57.2L671.7 54.9L674.0 44.6L684.4 46.9ZM684.8 45.2L674.7 42.1L677.8 32.0L687.9 35.1ZM688.5 33.5L678.6 29.6L682.5 19.7L692.4 23.6ZM666.3 89.5L655.7 89.2L656.0 78.6L666.6 78.9ZM666.7 77.1L656.1 76.1L657.1 65.5L667.6 66.5ZM667.9 64.7L657.4 63.0L659.1 52.5L669.6 54.3ZM669.9 52.5L659.6 50.0L662.1 39.7L672.4 42.2ZM672.9 40.4L662.8 37.3L665.9 27.2L676.1 30.3ZM654.2 72.4L643.6 71.2L644.8 60.7L655.3 61.8ZM655.6 60.0L645.2 58.1L647.1 47.7L657.5 49.6ZM657.9 47.7L647.6 45.2L650.1 34.9L660.4 37.5ZM660.9 35.7L650.8 32.4L654.1 22.3L664.2 25.6ZM645.8 43.0L635.6 40.3L638.2 30.1L648.5 32.7ZM1221.0 193.0m-7 0a7 7 0 1 0 14 0a7 7 0 1 0 -14 0M1230.2 187.7L1240.8 187.7L1240.8 198.3L1230.2 198.3ZM1231.3 195.8L1238.7 203.3L1231.3 210.7L1223.8 203.3ZM1226.3 202.2L1226.3 212.8L1215.7 212.8L1215.7 202.2ZM1218.2 203.3L1210.7 210.7L1203.3 203.3L1210.7 195.8ZM1211.8 198.3L1201.2 198.3L1201.2 187.7L1211.8 187.7ZM1210.7 190.2L1203.3 182.7L1210.7 175.3L1218.2 182.7ZM1215.7 183.8L1215.7 173.2L1226.3 173.2L1226.3 183.8ZM1223.8 182.7L1231.3 175.3L1238.7 182.7L1231.3 190.2ZM1243.6 191.7L1254.0 193.6L1252.1 204.0L1241.7 202.1ZM1241.6 202.3L1250.0 208.9L1243.5 217.2L1235.1 210.7ZM1234.9 210.9L1239.3 220.5L1229.6 224.9L1225.2 215.2ZM1225.0 215.3L1224.4 225.9L1213.8 225.2L1214.4 214.7ZM1214.2 214.6L1208.7 223.7L1199.7 218.2L1205.1 209.1ZM1205.0 209.0L1195.9 214.5L1190.4 205.4L1199.4 199.9ZM1199.4 199.7L1188.8 200.3L1188.1 189.8L1198.7 189.1ZM1198.8 188.9L1189.1 184.5L1193.4 174.9L1203.1 179.2ZM1203.2 179.0L1196.7 170.7L1205.0 164.1L1211.6 172.4ZM1211.8 172.3L1209.8 161.9L1220.3 160.0L1222.2 170.4ZM1222.4 170.4L1225.6 160.3L1235.7 163.4L1232.6 173.5ZM1232.8 173.7L1240.2 166.2L1247.8 173.6L1240.3 181.1ZM1240.4 181.3L1250.5 178.2L1253.7 188.3L1243.6 191.5ZM1256.1 195.9L1266.4 198.3L1264.0 208.6L1253.6 206.2ZM1253.5 206.6L1262.5 212.1L1257.0 221.1L1248.0 215.6ZM1247.7 215.9L1254.6 224.0L1246.6 230.9L1239.7 222.8ZM1239.3 223.1L1243.4 232.8L1233.6 236.9L1229.5 227.2ZM1229.1 227.3L1230.0 237.8L1219.4 238.7L1218.6 228.1ZM1218.1 228.1L1215.7 238.4L1205.4 236.0L1207.8 225.6ZM1207.4 225.5L1201.9 234.5L1192.9 229.0L1198.4 220.0ZM1198.1 219.7L1190.0 226.6L1183.1 218.6L1191.2 211.7ZM1190.9 211.3L1181.2 215.4L1177.1 205.6L1186.8 201.5ZM1186.7 201.1L1176.2 202.0L1175.3 191.4L1185.9 190.6ZM1185.9 190.1L1175.6 187.7L1178.0 177.4L1188.4 179.8ZM1188.5 179.4L1179.5 173.9L1185.0 164.9L1194.0 170.4ZM1194.3 170.1L1187.4 162.0L1195.4 155.1L1202.3 163.2ZM1202.7 162.9L1198.6 153.2L1208.4 149.1L1212.5 158.8ZM1212.9 158.7L1212.0 148.2L1222.6 147.3L1223.4 157.9ZM1223.9 157.9L1226.3 147.6L1236.6 150.0L1234.2 160.4ZM1234.6 160.5L1240.1 151.5L1249.1 157.0L1243.6 166.0ZM1243.9 166.3L1252.0 159.4L1258.9 167.4L1250.8 174.3ZM1251.1 174.7L1260.8 170.6L1264.9 180.4L1255.2 184.5ZM1255.3 184.9L1265.8 184.0L1266.7 194.6L1256.1 195.4ZM1268.7 189.0L1279.3 189.2L1279.0 199.8L1268.4 199.6ZM1268.3 200.5L1278.5 203.3L1275.7 213.5L1265.5 210.7ZM1265.1 211.6L1274.4 216.8L1269.2 226.0L1260.0 220.9ZM1259.4 221.6L1267.1 228.9L1259.9 236.6L1252.2 229.4ZM1251.4 230.0L1257.2 238.9L1248.3 244.7L1242.5 235.8ZM1197.2 234.6L1191.0 243.1L1182.4 236.9L1188.6 228.3ZM1188.0 227.7L1179.8 234.5L1173.0 226.4L1181.1 219.5ZM1180.6 218.7L1171.1 223.4L1166.4 213.9L1175.9 209.2ZM1175.6 208.3L1165.3 210.6L1163.0 200.2L1173.4 198.0ZM1173.3 197.0L1162.7 196.8L1163.0 186.2L1173.6 186.4ZM1173.7 185.5L1163.5 182.7L1166.3 172.5L1176.5 175.3ZM1176.9 174.4L1167.6 169.2L1172.8 160.0L1182.0 165.1ZM1182.6 164.4L1174.9 157.1L1182.1 149.4L1189.8 156.6ZM1190.6 156.0L1184.8 147.1L1193.7 141.3L1199.5 150.2ZM1200.3 149.8L1196.8 139.8L1206.8 136.3L1210.3 146.3ZM1211.2 146.1L1210.2 135.6L1220.8 134.6L1221.8 145.1ZM1222.7 145.1L1224.3 134.7L1234.8 136.2L1233.2 146.7ZM1234.2 146.9L1238.2 137.1L1248.0 141.2L1244.0 151.0ZM1244.8 151.4L1251.0 142.9L1259.6 149.1L1253.4 157.7ZM1254.0 158.3L1262.2 151.5L1269.0 159.6L1260.9 166.5ZM1261.4 167.3L1270.9 162.6L1275.6 172.1L1266.1 176.8ZM1266.4 177.7L1276.7 175.4L1279.0 185.8L1268.6 188.0ZM1281.6 193.4L1292.2 194.4L1291.2 205.0L1280.6 204.0ZM1280.4 205.2L1290.5 208.3L1287.5 218.4L1277.3 215.4ZM1276.9 216.6L1286.2 221.5L1281.3 230.9L1271.9 225.9ZM1271.2 227.0L1279.4 233.7L1272.7 241.9L1264.5 235.2ZM1177.8 235.6L1169.7 242.3L1162.9 234.2L1171.1 227.4ZM1170.4 226.3L1161.0 231.4L1156.0 222.1L1165.3 217.0ZM1164.8 215.8L1154.7 218.9L1151.6 208.8L1161.7 205.7ZM1161.5 204.4L1150.9 205.5L1149.8 195.0L1160.4 193.9ZM1160.4 192.6L1149.8 191.6L1150.8 181.0L1161.4 182.0ZM1161.6 180.8L1151.5 177.7L1154.5 167.6L1164.7 170.6ZM1165.1 169.4L1155.8 164.5L1160.7 155.1L1170.1 160.1ZM1170.8 159.0L1162.6 152.3L1169.3 144.1L1177.5 150.8ZM1178.4 149.8L1171.7 141.7L1179.8 134.9L1186.6 143.1ZM1187.7 142.4L1182.6 133.0L1191.9 128.0L1197.0 137.3ZM1198.2 136.8L1195.1 126.7L1205.2 123.6L1208.3 133.7ZM1209.6 133.5L1208.5 122.9L1219.0 121.8L1220.1 132.4ZM1221.4 132.4L1222.4 121.8L1233.0 122.8L1232.0 133.4ZM1233.2 133.6L1236.3 123.5L1246.4 126.5L1243.4 136.7ZM1244.6 137.1L1249.5 127.8L1258.9 132.7L1253.9 142.1ZM1255.0 142.8L1261.7 134.6L1269.9 141.3L1263.2 149.5ZM1264.2 150.4L1272.3 143.7L1279.1 151.8L1270.9 158.6ZM1271.6 159.7L1281.0 154.6L1286.0 163.9L1276.7 169.0ZM1277.2 170.2L1287.3 167.1L1290.4 177.2L1280.3 180.3ZM1280.5 181.6L1291.1 180.5L1292.2 191.0L1281.6 192.1ZM1294.2 197.7L1304.7 199.2L1303.3 209.7L1292.8 208.2ZM1292.5 209.4L1302.7 212.5L1299.5 222.7L1289.4 219.6ZM1289.0 220.7L1298.5 225.4L1293.8 234.9L1284.3 230.2ZM1283.6 231.2L1292.3 237.4L1286.1 246.0L1277.5 239.9ZM1163.0 238.0L1154.2 243.9L1148.3 235.1L1157.2 229.2ZM1156.6 228.1L1146.9 232.5L1142.5 222.9L1152.2 218.5ZM1151.8 217.3L1141.5 220.1L1138.8 209.9L1149.0 207.1ZM1148.8 205.9L1138.2 207.0L1137.1 196.5L1147.6 195.4ZM1147.6 194.2L1137.0 193.6L1137.6 183.0L1148.2 183.6ZM1148.4 182.4L1138.0 180.1L1140.3 169.7L1150.7 172.0ZM1151.0 170.9L1141.2 167.0L1145.1 157.1L1154.9 161.0ZM1155.5 159.9L1146.4 154.5L1151.8 145.4L1160.9 150.8ZM1161.6 149.8L1153.5 143.0L1160.4 134.9L1168.5 141.7ZM1169.3 140.9L1162.4 132.8L1170.5 125.9L1177.4 134.0ZM1178.4 133.3L1172.8 124.2L1181.9 118.7L1187.4 127.7ZM1188.5 127.2L1184.5 117.4L1194.3 113.4L1198.3 123.2ZM1199.5 122.8L1197.1 112.5L1207.4 110.1L1209.8 120.5ZM1211.0 120.3L1210.3 109.7L1220.9 109.0L1221.6 119.6ZM1222.8 119.6L1223.8 109.1L1234.4 110.1L1233.3 120.7ZM1234.5 120.9L1237.2 110.6L1247.5 113.3L1244.8 123.6ZM1245.9 124.0L1250.2 114.3L1259.9 118.6L1255.6 128.3ZM1256.7 128.9L1262.5 120.0L1271.4 125.8L1265.5 134.7ZM1266.5 135.4L1273.7 127.6L1281.5 134.8L1274.3 142.6ZM1275.2 143.5L1283.5 136.9L1290.0 145.2L1281.7 151.8ZM1282.4 152.8L1291.7 147.6L1296.8 156.9L1287.6 162.1ZM1288.1 163.2L1298.0 159.6L1301.6 169.5L1291.7 173.1ZM1292.0 174.3L1302.4 172.4L1304.3 182.8L1293.9 184.7ZM1294.1 185.9L1304.6 185.7L1304.9 196.3L1294.3 196.5ZM1307.1 190.3L1317.7 190.7L1317.4 201.3L1306.8 200.9ZM1306.7 202.4L1317.1 204.2L1315.3 214.6L1304.9 212.8ZM1304.5 214.2L1314.6 217.4L1311.4 227.5L1301.3 224.3ZM1300.8 225.6L1310.3 230.2L1305.7 239.8L1296.2 235.1ZM1146.2 235.8L1136.7 240.5L1132.0 231.0L1141.5 226.3ZM1141.0 225.0L1130.9 228.3L1127.6 218.2L1137.7 214.9ZM1137.3 213.5L1126.9 215.4L1125.0 205.0L1135.4 203.1ZM1135.3 201.7L1124.7 202.1L1124.3 191.5L1134.9 191.1ZM1134.9 189.6L1124.4 188.6L1125.4 178.0L1136.0 179.1ZM1136.2 177.7L1125.9 175.2L1128.4 164.9L1138.7 167.4ZM1139.2 166.0L1129.3 162.1L1133.2 152.3L1143.1 156.2ZM1143.7 154.9L1134.5 149.7L1139.8 140.4L1149.0 145.7ZM1149.8 144.5L1141.4 138.0L1147.9 129.7L1156.3 136.1ZM1157.2 135.1L1149.8 127.5L1157.4 120.1L1164.8 127.7ZM1165.9 126.8L1159.6 118.2L1168.2 112.0L1174.4 120.5ZM1175.6 119.7L1170.6 110.4L1180.0 105.4L1185.0 114.7ZM1186.3 114.1L1182.6 104.2L1192.6 100.5L1196.2 110.5ZM1197.6 110.1L1195.3 99.7L1205.7 97.5L1207.9 107.8ZM1209.4 107.6L1208.6 97.1L1219.1 96.3L1219.9 106.8ZM1221.4 106.8L1222.0 96.3L1232.6 97.0L1231.9 107.5ZM1233.3 107.7L1235.5 97.3L1245.9 99.5L1243.7 109.9ZM1245.1 110.3L1248.7 100.3L1258.6 103.9L1255.1 113.9ZM1256.4 114.4L1261.3 105.0L1270.7 110.0L1265.7 119.4ZM1267.0 120.1L1273.2 111.5L1281.8 117.7L1275.6 126.3ZM1276.7 127.2L1284.0 119.6L1291.6 126.9L1284.3 134.6ZM1285.3 135.6L1293.6 129.0L1300.2 137.4L1291.8 143.9ZM1292.6 145.1L1301.8 139.8L1307.1 148.9L1298.0 154.3ZM1298.6 155.5L1308.4 151.5L1312.4 161.3L1302.6 165.4ZM1303.1 166.7L1313.3 164.1L1315.9 174.4L1305.7 177.0ZM1305.9 178.4L1316.5 177.2L1317.6 187.8L1307.1 188.9ZM1319.9 194.9L1330.5 195.7L1329.7 206.2L1319.2 205.5ZM1318.9 207.0L1329.3 209.1L1327.3 219.5L1316.9 217.4ZM1316.5 219.0L1326.5 222.3L1323.2 232.4L1313.2 229.0ZM1312.6 230.5L1322.1 235.0L1317.6 244.6L1308.0 240.1ZM1130.3 232.6L1120.4 236.3L1116.7 226.4L1126.6 222.7ZM1126.2 221.2L1115.9 223.7L1113.4 213.4L1123.7 210.9ZM1123.4 209.3L1112.9 210.5L1111.7 200.0L1122.2 198.8ZM1122.1 197.2L1111.5 197.1L1111.7 186.5L1122.3 186.6ZM1122.4 185.0L1111.9 183.6L1113.3 173.1L1123.8 174.5ZM1145.1 129.5L1137.4 122.3L1144.6 114.5L1152.3 121.8ZM1153.5 120.7L1146.7 112.5L1154.8 105.7L1161.6 113.9ZM1162.9 112.9L1157.1 104.0L1166.0 98.3L1171.8 107.2ZM1173.2 106.4L1168.6 96.8L1178.1 92.2L1182.7 101.8ZM1184.2 101.2L1180.8 91.1L1190.8 87.7L1194.2 97.8ZM1195.7 97.3L1193.6 87.0L1204.0 84.8L1206.1 95.2ZM1207.7 95.0L1206.8 84.4L1217.4 83.5L1218.3 94.1ZM1219.8 94.1L1220.3 83.5L1230.9 83.9L1230.4 94.5ZM1232.0 94.7L1233.8 84.2L1244.2 86.0L1242.5 96.4ZM1244.0 96.8L1247.0 86.6L1257.2 89.6L1254.2 99.8ZM1255.7 100.3L1259.9 90.6L1269.6 94.9L1265.4 104.6ZM1266.8 105.3L1272.2 96.2L1281.3 101.6L1275.9 110.7ZM1277.2 111.6L1283.7 103.2L1292.1 109.7L1285.6 118.1ZM1286.8 119.1L1294.3 111.6L1301.8 119.0L1294.3 126.6ZM1295.4 127.8L1303.7 121.2L1310.3 129.5L1301.9 136.1ZM1302.8 137.4L1311.9 131.9L1317.4 141.0L1308.3 146.5ZM1309.0 147.9L1318.7 143.5L1323.0 153.2L1313.4 157.5ZM1313.9 159.0L1324.1 155.9L1327.2 166.1L1317.0 169.2ZM1317.4 170.7L1327.8 168.9L1329.7 179.3L1319.2 181.1ZM1319.4 182.7L1330.0 182.2L1330.5 192.8L1319.9 193.3ZM1332.5 199.5L1343.1 200.6L1342.0 211.2L1331.4 210.1ZM1331.1 211.7L1341.5 214.0L1339.2 224.4L1328.9 222.1ZM1328.4 223.8L1338.5 227.1L1335.1 237.2L1325.0 233.8ZM1119.8 240.4L1110.0 244.4L1106.0 234.6L1115.8 230.6ZM1115.2 228.9L1105.0 231.9L1102.1 221.7L1112.3 218.7ZM1111.9 217.1L1101.5 218.9L1099.7 208.4L1110.1 206.6ZM1160.2 99.3L1154.9 90.1L1164.0 84.8L1169.4 93.9ZM1170.9 93.1L1166.6 83.5L1176.3 79.2L1180.6 88.8ZM1182.2 88.2L1179.0 78.1L1189.1 74.9L1192.3 85.0ZM1193.9 84.6L1191.8 74.2L1202.2 72.1L1204.3 82.5ZM1206.0 82.3L1205.1 71.7L1215.7 70.8L1216.6 81.4ZM1218.3 81.3L1218.5 70.7L1229.1 71.0L1228.9 81.6ZM1230.6 81.7L1232.0 71.2L1242.5 72.6L1241.1 83.1ZM1242.8 83.4L1245.3 73.1L1255.6 75.7L1253.1 86.0ZM1254.7 86.5L1258.4 76.5L1268.3 80.2L1264.6 90.2ZM1266.2 90.8L1271.0 81.4L1280.4 86.1L1275.7 95.6ZM1277.2 96.4L1282.9 87.5L1291.8 93.3L1286.1 102.2ZM1287.5 103.2L1294.2 95.0L1302.4 101.7L1295.7 109.9ZM1296.9 111.0L1304.5 103.6L1311.9 111.2L1304.4 118.6ZM1305.5 119.9L1313.8 113.4L1320.4 121.7L1312.0 128.2ZM1313.0 129.6L1322.0 124.0L1327.6 133.1L1318.6 138.6ZM1319.4 140.1L1329.0 135.6L1333.6 145.1L1324.0 149.7ZM1324.6 151.3L1334.7 147.8L1338.1 157.8L1328.1 161.3ZM1328.6 162.9L1338.9 160.6L1341.3 170.9L1331.0 173.3ZM1331.3 175.0L1341.8 173.8L1343.0 184.3L1332.5 185.5ZM1332.6 187.2L1343.2 187.2L1343.2 197.8L1332.6 197.8ZM1345.5 191.7L1356.1 192.1L1355.8 202.7L1345.2 202.3ZM1345.0 203.9L1355.5 205.3L1354.2 215.8L1343.7 214.5ZM1343.4 216.0L1353.7 218.5L1351.3 228.8L1341.0 226.4ZM1340.5 227.9L1350.6 231.3L1347.1 241.4L1337.1 238.0ZM1106.5 241.8L1096.5 245.6L1092.8 235.6L1102.7 231.9ZM1102.2 230.4L1092.0 233.1L1089.2 222.9L1099.5 220.1ZM1161.2 83.8L1156.5 74.3L1166.0 69.6L1170.7 79.1ZM1172.2 78.5L1168.4 68.5L1178.4 64.8L1182.1 74.7ZM1183.6 74.2L1180.9 64.0L1191.1 61.2L1193.9 71.5ZM1195.5 71.1L1193.7 60.7L1204.2 58.9L1205.9 69.4ZM1207.5 69.2L1206.8 58.6L1217.4 57.9L1218.1 68.5ZM1219.7 68.5L1220.1 57.9L1230.7 58.2L1230.3 68.8ZM1231.9 69.0L1233.3 58.5L1243.8 59.8L1242.5 70.3ZM1244.0 70.6L1246.5 60.3L1256.8 62.7L1254.4 73.0ZM1255.9 73.5L1259.3 63.4L1269.4 66.9L1266.0 76.9ZM1267.5 77.5L1271.8 67.8L1281.5 72.2L1277.1 81.9ZM1278.6 82.6L1283.9 73.4L1293.1 78.7L1287.8 87.9ZM1289.1 88.8L1295.3 80.2L1303.9 86.3L1297.7 94.9ZM1299.0 96.0L1306.0 88.0L1314.0 95.0L1307.0 102.9ZM1308.1 104.1L1315.9 96.8L1323.1 104.5L1315.4 111.8ZM1316.4 113.0L1324.8 106.6L1331.3 115.0L1322.9 121.4ZM1323.8 122.8L1332.8 117.2L1338.4 126.2L1329.4 131.8ZM1330.2 133.2L1339.7 128.5L1344.4 138.0L1334.9 142.7ZM1335.5 144.2L1345.5 140.4L1349.2 150.4L1339.3 154.1ZM1339.8 155.6L1350.0 152.9L1352.8 163.1L1342.5 165.9ZM1342.9 167.5L1353.3 165.7L1355.1 176.2L1344.6 177.9ZM1344.8 179.5L1355.4 178.8L1356.1 189.4L1345.5 190.1ZM1358.3 196.3L1368.8 197.0L1368.2 207.6L1357.6 206.9ZM1357.4 208.6L1367.9 210.2L1366.3 220.7L1355.8 219.1ZM1355.5 220.8L1365.8 223.3L1363.2 233.6L1352.9 231.1ZM1352.4 232.7L1362.5 236.2L1359.0 246.2L1349.0 242.7ZM1170.1 65.5L1166.6 55.5L1176.6 51.9L1180.1 61.9ZM1181.7 61.4L1179.1 51.2L1189.4 48.5L1192.0 58.8ZM1193.7 58.4L1192.0 48.0L1202.5 46.3L1204.2 56.7ZM1205.9 56.5L1205.1 46.0L1215.7 45.2L1216.4 55.8ZM1218.2 55.7L1218.4 45.1L1229.0 45.3L1228.8 55.9ZM1230.5 56.0L1231.6 45.5L1242.2 46.6L1241.0 57.2ZM1242.7 57.4L1244.8 47.0L1255.2 49.1L1253.1 59.5ZM1254.8 59.9L1257.8 49.8L1268.0 52.8L1265.0 62.9ZM1266.6 63.5L1270.5 53.6L1280.3 57.5L1276.4 67.4ZM1278.0 68.1L1282.8 58.6L1292.2 63.4L1287.5 72.9ZM1289.0 73.7L1294.6 64.7L1303.6 70.3L1298.0 79.3ZM1299.4 80.3L1305.8 71.8L1314.2 78.2L1307.9 86.7ZM1309.2 87.8L1316.3 79.9L1324.2 87.0L1317.0 94.9ZM1318.3 96.1L1326.1 88.9L1333.2 96.7L1325.4 103.9ZM1350.7 147.9L1360.8 144.8L1363.9 154.9L1353.8 158.0ZM1354.2 159.7L1364.6 157.5L1366.7 167.9L1356.4 170.1ZM1356.6 171.8L1367.2 170.5L1368.4 181.1L1357.9 182.3ZM1358.0 184.0L1368.6 183.7L1368.9 194.3L1358.3 194.6ZM1371.0 188.6L1381.6 188.6L1381.6 199.2L1371.0 199.2ZM1370.9 201.0L1381.4 201.9L1380.5 212.5L1369.9 211.5ZM1369.7 213.3L1380.2 215.1L1378.4 225.6L1367.9 223.8ZM1367.5 225.5L1377.8 228.2L1375.1 238.5L1364.9 235.8ZM1179.9 48.7L1177.3 38.4L1187.6 35.8L1190.2 46.1ZM1191.9 45.7L1190.3 35.3L1200.7 33.6L1202.4 44.1ZM1204.2 43.9L1203.4 33.3L1213.9 32.5L1214.8 43.0ZM1216.6 43.0L1216.6 32.4L1227.2 32.4L1227.2 43.0ZM1229.0 43.1L1229.9 32.6L1240.5 33.5L1239.5 44.1ZM1241.3 44.3L1243.1 33.8L1253.6 35.6L1251.8 46.1ZM1253.5 46.5L1256.2 36.2L1266.5 38.9L1263.8 49.1ZM1265.5 49.7L1269.0 39.7L1279.0 43.2L1275.5 53.2ZM1277.2 53.8L1281.5 44.1L1291.2 48.5L1286.9 58.1ZM1288.5 58.9L1293.6 49.7L1302.9 54.8L1297.8 64.0ZM1299.3 65.0L1305.2 56.1L1314.0 62.0L1308.2 70.8ZM1370.1 176.2L1380.7 175.4L1381.5 185.9L1371.0 186.8ZM1383.4 205.4L1393.9 206.6L1392.8 217.1L1382.3 216.0ZM1382.0 217.7L1392.4 219.6L1390.5 230.1L1380.1 228.1ZM1379.7 229.8L1389.9 232.5L1387.2 242.8L1376.9 240.0ZM1181.4 35.0L1179.2 24.6L1189.6 22.4L1191.8 32.8ZM1193.5 32.4L1192.1 21.9L1202.6 20.5L1204.0 31.0ZM1242.6 31.6L1244.4 21.1L1254.8 22.9L1253.1 33.3ZM1254.8 33.7L1257.3 23.4L1267.6 25.9L1265.1 36.2ZM1266.7 36.7L1270.0 26.6L1280.1 29.9L1276.8 40.0ZM1278.4 40.6L1282.5 30.8L1292.3 34.8L1288.2 44.6ZM1289.8 45.4L1294.6 35.9L1304.0 40.7L1299.3 50.1ZM1394.2 222.4L1404.6 224.5L1402.5 234.9L1392.1 232.8ZM1464.0 57.0m-7 0a7 7 0 1 0 14 0a7 7 0 1 0 -14 0M1473.2 51.7L1483.8 51.7L1483.8 62.3L1473.2 62.3ZM1474.3 59.8L1481.7 67.3L1474.3 74.7L1466.8 67.3ZM1469.3 66.2L1469.3 76.8L1458.7 76.8L1458.7 66.2ZM1461.2 67.3L1453.7 74.7L1446.3 67.3L1453.7 59.8ZM1454.8 62.3L1444.2 62.3L1444.2 51.7L1454.8 51.7ZM1453.7 54.2L1446.3 46.7L1453.7 39.3L1461.2 46.7ZM1458.7 47.8L1458.7 37.2L1469.3 37.2L1469.3 47.8ZM1466.8 46.7L1474.3 39.3L1481.7 46.7L1474.3 54.2ZM1486.6 55.7L1497.0 57.6L1495.1 68.0L1484.7 66.1ZM1484.6 66.3L1493.0 72.9L1486.5 81.2L1478.1 74.7ZM1477.9 74.9L1482.3 84.5L1472.6 88.9L1468.2 79.2ZM1468.0 79.3L1467.4 89.9L1456.8 89.2L1457.4 78.7ZM1457.2 78.6L1451.7 87.7L1442.7 82.2L1448.1 73.1ZM1448.0 73.0L1438.9 78.5L1433.4 69.4L1442.4 63.9ZM1442.4 63.7L1431.8 64.3L1431.1 53.8L1441.7 53.1ZM1441.8 52.9L1432.1 48.5L1436.4 38.9L1446.1 43.2ZM1446.2 43.0L1439.7 34.7L1448.0 28.1L1454.6 36.4ZM1454.8 36.3L1452.8 25.9L1463.3 24.0L1465.2 34.4ZM1465.4 34.4L1468.6 24.3L1478.7 27.4L1475.6 37.5ZM1475.8 37.7L1483.2 30.2L1490.8 37.6L1483.3 45.1ZM1483.4 45.3L1493.5 42.2L1496.7 52.3L1486.6 55.5ZM1499.1 59.9L1509.4 62.3L1507.0 72.6L1496.6 70.2ZM1496.5 70.6L1505.5 76.1L1500.0 85.1L1491.0 79.6ZM1490.7 79.9L1497.6 88.0L1489.6 94.9L1482.7 86.8ZM1482.3 87.1L1486.4 96.8L1476.6 100.9L1472.5 91.2ZM1472.1 91.3L1473.0 101.8L1462.4 102.7L1461.6 92.1ZM1461.1 92.1L1458.7 102.4L1448.4 100.0L1450.8 89.6ZM1450.4 89.5L1444.9 98.5L1435.9 93.0L1441.4 84.0ZM1441.1 83.7L1433.0 90.6L1426.1 82.6L1434.2 75.7ZM1433.9 75.3L1424.2 79.4L1420.1 69.6L1429.8 65.5ZM1429.7 65.1L1419.2 66.0L1418.3 55.4L1428.9 54.6ZM1428.9 54.1L1418.6 51.7L1421.0 41.4L1431.4 43.8ZM1431.5 43.4L1422.5 37.9L1428.0 28.9L1437.0 34.4ZM1486.9 30.3L1495.0 23.4L1501.9 31.4L1493.8 38.3ZM1494.1 38.7L1503.8 34.6L1507.9 44.4L1498.2 48.5ZM1498.3 48.9L1508.8 48.0L1509.7 58.6L1499.1 59.4ZM1511.7 53.0L1522.3 53.2L1522.0 63.8L1511.4 63.6ZM1511.3 64.5L1521.5 67.3L1518.7 77.5L1508.5 74.7ZM1508.1 75.6L1517.4 80.8L1512.2 90.0L1503.0 84.9ZM1502.4 85.6L1510.1 92.9L1502.9 100.6L1495.2 93.4ZM1494.4 94.0L1500.2 102.9L1491.3 108.7L1485.5 99.8ZM1484.7 100.2L1488.2 110.2L1478.2 113.7L1474.7 103.7ZM1473.8 103.9L1474.8 114.4L1464.2 115.4L1463.2 104.9ZM1462.3 104.9L1460.7 115.3L1450.2 113.8L1451.8 103.3ZM1450.8 103.1L1446.8 112.9L1437.0 108.8L1441.0 99.0ZM1440.2 98.6L1434.0 107.1L1425.4 100.9L1431.6 92.3ZM1431.0 91.7L1422.8 98.5L1416.0 90.4L1424.1 83.5ZM1423.6 82.7L1414.1 87.4L1409.4 77.9L1418.9 73.2ZM1418.6 72.3L1408.3 74.6L1406.0 64.2L1416.4 62.0ZM1416.3 61.0L1405.7 60.8L1406.0 50.2L1416.6 50.4ZM1416.7 49.5L1406.5 46.7L1409.3 36.5L1419.5 39.3ZM1419.9 38.4L1410.6 33.2L1415.8 24.0L1425.0 29.1ZM1504.4 31.3L1513.9 26.6L1518.6 36.1L1509.1 40.8ZM1509.4 41.7L1519.7 39.4L1522.0 49.8L1511.6 52.0ZM1524.6 57.4L1535.2 58.4L1534.2 69.0L1523.6 68.0ZM1523.4 69.2L1533.5 72.3L1530.5 82.4L1520.3 79.4ZM1519.9 80.6L1529.2 85.5L1524.3 94.9L1514.9 89.9ZM1514.2 91.0L1522.4 97.7L1515.7 105.9L1507.5 99.2ZM1506.6 100.2L1513.3 108.3L1505.2 115.1L1498.4 106.9ZM1497.3 107.6L1502.4 117.0L1493.1 122.0L1488.0 112.7ZM1486.8 113.2L1489.9 123.3L1479.8 126.4L1476.7 116.3ZM1475.4 116.5L1476.5 127.1L1466.0 128.2L1464.9 117.6ZM1463.6 117.6L1462.6 128.2L1452.0 127.2L1453.0 116.6ZM1451.8 116.4L1448.7 126.5L1438.6 123.5L1441.6 113.3ZM1440.4 112.9L1435.5 122.2L1426.1 117.3L1431.1 107.9ZM1430.0 107.2L1423.3 115.4L1415.1 108.7L1421.8 100.5ZM1420.8 99.6L1412.7 106.3L1405.9 98.2L1414.1 91.4ZM1413.4 90.3L1404.0 95.4L1399.0 86.1L1408.3 81.0ZM1407.8 79.8L1397.7 82.9L1394.6 72.8L1404.7 69.7ZM1404.5 68.4L1393.9 69.5L1392.8 59.0L1403.4 57.9ZM1403.4 56.6L1392.8 55.6L1393.8 45.0L1404.4 46.0ZM1404.6 44.8L1394.5 41.7L1397.5 31.6L1407.7 34.6ZM1520.2 34.2L1530.3 31.1L1533.4 41.2L1523.3 44.3ZM1523.5 45.6L1534.1 44.5L1535.2 55.0L1524.6 56.1ZM1537.2 61.7L1547.7 63.2L1546.3 73.7L1535.8 72.2ZM1535.5 73.4L1545.7 76.5L1542.5 86.7L1532.4 83.6ZM1532.0 84.7L1541.5 89.4L1536.8 98.9L1527.3 94.2ZM1526.6 95.2L1535.3 101.4L1529.1 110.0L1520.5 103.9ZM1519.7 104.8L1527.2 112.3L1519.8 119.8L1512.2 112.3ZM1511.3 113.1L1517.5 121.7L1509.0 127.9L1502.7 119.3ZM1501.7 120.0L1506.5 129.4L1497.0 134.2L1492.2 124.7ZM1491.1 125.2L1494.3 135.3L1484.2 138.5L1481.0 128.4ZM1479.8 128.7L1481.4 139.2L1470.9 140.7L1469.3 130.2ZM1468.1 130.3L1467.9 140.9L1457.4 140.7L1457.5 130.1ZM1456.3 130.0L1454.4 140.4L1444.0 138.6L1445.9 128.1ZM1444.7 127.8L1441.2 137.8L1431.2 134.3L1434.7 124.3ZM1433.6 123.8L1428.5 133.1L1419.2 128.0L1424.3 118.7ZM1423.3 118.1L1416.8 126.4L1408.4 119.9L1414.9 111.6ZM1414.0 110.7L1406.2 118.0L1399.0 110.2L1406.8 103.0ZM1406.0 102.0L1397.2 107.9L1391.3 99.1L1400.2 93.2ZM1399.6 92.1L1389.9 96.5L1385.5 86.9L1395.2 82.5ZM1394.8 81.3L1384.5 84.1L1381.8 73.9L1392.0 71.1ZM1391.8 69.9L1381.2 71.0L1380.1 60.5L1390.6 59.4ZM1390.6 58.2L1380.0 57.6L1380.6 47.0L1391.2 47.6ZM1391.4 46.4L1381.0 44.1L1383.3 33.7L1393.7 36.0ZM1394.0 34.9L1384.2 31.0L1388.1 21.1L1397.9 25.0ZM1535.0 38.3L1545.4 36.4L1547.3 46.8L1536.9 48.7ZM1537.1 49.9L1547.6 49.7L1547.9 60.3L1537.3 60.5ZM1550.1 54.3L1560.7 54.7L1560.4 65.3L1549.8 64.9ZM1549.7 66.4L1560.1 68.2L1558.3 78.6L1547.9 76.8ZM1547.5 78.2L1557.6 81.4L1554.4 91.5L1544.3 88.3ZM1543.8 89.6L1553.3 94.2L1548.7 103.8L1539.2 99.1ZM1538.4 100.4L1547.3 106.3L1541.4 115.1L1532.6 109.2ZM1531.7 110.3L1539.6 117.4L1532.5 125.3L1524.6 118.2ZM1523.6 119.2L1530.4 127.3L1522.4 134.2L1515.5 126.1ZM1514.4 126.9L1520.0 135.9L1511.1 141.5L1505.4 132.6ZM1504.1 133.2L1508.5 142.9L1498.8 147.3L1494.5 137.6ZM1493.1 138.1L1496.1 148.3L1485.9 151.2L1483.0 141.1ZM1481.6 141.4L1483.1 151.8L1472.6 153.4L1471.1 142.9ZM1469.7 143.0L1469.7 153.6L1459.1 153.6L1459.1 143.0ZM1457.6 142.9L1456.2 153.4L1445.7 152.0L1447.1 141.5ZM1445.7 141.2L1442.9 151.4L1432.7 148.5L1435.5 138.3ZM1434.2 137.8L1429.9 147.5L1420.2 143.3L1424.5 133.6ZM1423.2 132.9L1417.7 141.9L1408.6 136.3L1414.2 127.3ZM1413.1 126.5L1406.3 134.6L1398.1 127.9L1404.9 119.7ZM1403.9 118.7L1396.0 125.9L1388.9 118.0L1396.8 110.9ZM1395.9 109.8L1387.1 115.7L1381.2 107.0L1389.9 101.0ZM1389.2 99.8L1379.7 104.5L1375.0 95.0L1384.5 90.3ZM1384.0 89.0L1373.9 92.3L1370.6 82.2L1380.7 78.9ZM1380.3 77.5L1369.9 79.4L1368.0 69.0L1378.4 67.1ZM1378.3 65.7L1367.7 66.1L1367.3 55.5L1377.9 55.1ZM1377.9 53.6L1367.4 52.6L1368.4 42.0L1379.0 43.1ZM1379.2 41.7L1368.9 39.2L1371.4 28.9L1381.7 31.4ZM1546.1 30.7L1556.3 28.1L1558.9 38.4L1548.7 41.0ZM1548.9 42.4L1559.5 41.2L1560.6 51.8L1550.1 52.9ZM1562.9 58.9L1573.5 59.7L1572.7 70.2L1562.2 69.5ZM1561.9 71.0L1572.3 73.1L1570.3 83.5L1559.9 81.4ZM1559.5 83.0L1569.5 86.3L1566.2 96.4L1556.2 93.0ZM1555.6 94.5L1565.1 99.0L1560.6 108.6L1551.0 104.1ZM1550.3 105.5L1559.2 111.1L1553.5 120.1L1544.6 114.4ZM1543.6 115.7L1551.8 122.4L1545.1 130.6L1536.9 123.9ZM1535.8 125.0L1543.1 132.7L1535.4 140.0L1528.1 132.3ZM1526.9 133.4L1533.2 141.9L1524.7 148.2L1518.4 139.6ZM1517.1 140.5L1522.3 149.7L1513.0 154.9L1507.8 145.7ZM1506.4 146.4L1510.4 156.2L1500.6 160.2L1496.6 150.4ZM1495.1 150.9L1497.9 161.2L1487.7 163.9L1484.9 153.7ZM1483.3 154.0L1484.8 164.5L1474.3 166.0L1472.8 155.5ZM1471.2 155.7L1471.5 166.3L1460.9 166.5L1460.6 155.9ZM1459.1 155.8L1458.0 166.4L1447.4 165.3L1448.5 154.7ZM1447.0 154.5L1444.6 164.8L1434.2 162.4L1436.6 152.1ZM1435.1 151.6L1431.5 161.6L1421.5 158.0L1425.2 148.0ZM1423.7 147.4L1418.9 156.8L1409.4 152.0L1414.3 142.5ZM1412.9 141.7L1406.9 150.5L1398.2 144.5L1404.1 135.8ZM1402.9 134.8L1395.9 142.8L1387.9 135.8L1394.9 127.8ZM1393.8 126.7L1385.9 133.8L1378.8 125.8L1386.7 118.8ZM1385.7 117.5L1377.0 123.6L1371.0 114.9L1379.7 108.8ZM1378.9 107.5L1369.5 112.4L1364.6 103.0L1374.0 98.1ZM1373.3 96.6L1363.4 100.3L1359.7 90.4L1369.6 86.7ZM1369.2 85.2L1358.9 87.7L1356.4 77.4L1366.7 74.9ZM1366.4 73.3L1355.9 74.5L1354.7 64.0L1365.2 62.8ZM1365.1 61.2L1354.5 61.1L1354.7 50.5L1365.3 50.6ZM1365.4 49.0L1354.9 47.6L1356.3 37.1L1366.8 38.5ZM1367.1 37.0L1356.9 34.3L1359.6 24.0L1369.8 26.7ZM1560.4 34.7L1570.8 32.9L1572.7 43.3L1562.2 45.1ZM1562.4 46.7L1573.0 46.2L1573.5 56.8L1562.9 57.3ZM1575.5 63.5L1586.1 64.6L1585.0 75.2L1574.4 74.1ZM1574.1 75.7L1584.5 78.0L1582.2 88.4L1571.9 86.1ZM1571.4 87.8L1581.5 91.1L1578.1 101.2L1568.0 97.8ZM1567.4 99.4L1577.0 103.9L1572.5 113.5L1562.9 109.0ZM1562.1 110.5L1571.1 116.0L1565.6 125.1L1556.6 119.5ZM1555.6 121.0L1564.0 127.4L1557.5 135.8L1549.1 129.4ZM1548.0 130.6L1555.6 138.0L1548.3 145.6L1540.7 138.3ZM1539.4 139.4L1546.2 147.6L1538.0 154.4L1531.2 146.2ZM1529.9 147.2L1535.7 156.1L1526.9 161.9L1521.0 153.1ZM1519.5 153.9L1524.4 163.4L1514.9 168.2L1510.1 158.8ZM1508.5 159.5L1512.3 169.4L1502.4 173.1L1498.6 163.2ZM1497.0 163.7L1499.7 174.0L1489.4 176.7L1486.7 166.4ZM1485.1 166.7L1486.6 177.2L1476.1 178.7L1474.6 168.2ZM1472.9 168.4L1473.2 179.0L1462.6 179.3L1462.3 168.7ZM1460.6 168.7L1459.7 179.2L1449.2 178.4L1450.0 167.8ZM1448.3 167.6L1446.3 178.0L1435.9 176.0L1437.9 165.6ZM1436.2 165.2L1433.1 175.3L1423.0 172.2L1426.1 162.1ZM1424.5 161.5L1420.3 171.2L1410.5 167.0L1414.8 157.3ZM1413.2 156.5L1408.0 165.7L1398.8 160.5L1404.0 151.3ZM1402.6 150.3L1396.3 158.9L1387.8 152.7L1394.0 144.1ZM1392.7 143.0L1385.5 150.8L1377.7 143.7L1384.9 135.9ZM1383.7 134.6L1375.7 141.6L1368.7 133.7L1376.7 126.7ZM1375.6 125.3L1366.9 131.4L1360.8 122.7L1369.5 116.7ZM1368.6 115.2L1359.3 120.3L1354.2 111.0L1363.5 105.9ZM1362.8 104.4L1353.0 108.4L1349.0 98.6L1358.8 94.6ZM1358.2 92.9L1348.0 95.9L1345.1 85.7L1355.3 82.7ZM1354.9 81.1L1344.5 82.9L1342.7 72.4L1353.1 70.6ZM1352.9 68.9L1342.3 69.6L1341.7 59.0L1352.3 58.3ZM1352.3 56.6L1341.7 56.1L1342.2 45.5L1352.8 46.1ZM1353.0 44.3L1342.5 42.6L1344.2 32.2L1354.7 33.9ZM1574.3 39.0L1584.8 37.8L1586.0 48.3L1575.5 49.5ZM1575.6 51.2L1586.2 51.2L1586.2 61.8L1575.6 61.8ZM1588.5 55.7L1599.1 56.1L1598.8 66.7L1588.2 66.3ZM1588.0 67.9L1598.5 69.3L1597.2 79.8L1586.7 78.5ZM1586.4 80.0L1596.7 82.5L1594.3 92.8L1584.0 90.4ZM1583.5 91.9L1593.6 95.3L1590.1 105.4L1580.1 102.0ZM1579.5 103.5L1589.2 107.8L1584.8 117.5L1575.1 113.1ZM1574.4 114.6L1583.6 119.9L1578.3 129.1L1569.1 123.8ZM1568.2 125.1L1576.8 131.3L1570.7 139.9L1562.1 133.7ZM1561.0 135.0L1569.0 142.0L1562.0 150.0L1554.1 143.0ZM1552.9 144.1L1560.2 151.9L1552.5 159.1L1545.2 151.4ZM1544.0 152.4L1550.4 160.8L1542.0 167.3L1535.6 158.9ZM1534.2 159.8L1539.8 168.8L1530.8 174.4L1525.2 165.4ZM1523.8 166.2L1528.5 175.7L1519.0 180.4L1514.3 170.9ZM1512.8 171.5L1516.6 181.5L1506.6 185.2L1502.9 175.3ZM1501.4 175.8L1504.1 186.0L1493.9 188.8L1491.1 178.5ZM1489.5 178.9L1491.3 189.3L1480.8 191.1L1479.1 180.6ZM1477.5 180.8L1478.2 191.4L1467.6 192.1L1466.9 181.5ZM1465.3 181.5L1464.9 192.1L1454.3 191.8L1454.7 181.2ZM1453.1 181.0L1451.7 191.5L1441.2 190.2L1442.5 179.7ZM1441.0 179.4L1438.5 189.7L1428.2 187.3L1430.6 177.0ZM1429.1 176.5L1425.7 186.6L1415.6 183.1L1419.0 173.1ZM1417.5 172.5L1413.2 182.2L1403.5 177.8L1407.9 168.1ZM1406.4 167.4L1401.1 176.6L1391.9 171.3L1397.2 162.1ZM1395.9 161.2L1389.7 169.8L1381.1 163.7L1387.3 155.1ZM1386.0 154.0L1379.0 162.0L1371.0 155.0L1378.0 147.1ZM1376.9 145.9L1369.1 153.2L1361.9 145.5L1369.6 138.2ZM1368.6 137.0L1360.2 143.4L1353.7 135.0L1362.1 128.6ZM1361.2 127.2L1352.2 132.8L1346.6 123.8L1355.6 118.2ZM1354.8 116.8L1345.3 121.5L1340.6 112.0L1350.1 107.3ZM1349.5 105.8L1339.5 109.6L1335.8 99.6L1345.7 95.9ZM1345.2 94.4L1335.0 97.1L1332.2 86.9L1342.5 84.1ZM1342.1 82.5L1331.7 84.3L1329.9 73.8L1340.4 72.1ZM1340.2 70.5L1329.6 71.2L1328.9 60.6L1339.5 59.9ZM1339.5 58.3L1328.9 57.9L1329.2 47.3L1339.8 47.7ZM1340.0 46.1L1329.5 44.7L1330.8 34.2L1341.3 35.5ZM1341.6 34.0L1331.3 31.5L1333.7 21.2L1344.0 23.6ZM1587.8 43.5L1598.4 42.8L1599.1 53.4L1588.5 54.1ZM1601.3 60.3L1611.8 61.0L1611.2 71.6L1600.6 70.9ZM1600.4 72.6L1610.9 74.2L1609.3 84.7L1598.8 83.1ZM1547.0 166.4L1553.1 175.1L1544.4 181.2L1538.3 172.5ZM1536.8 173.4L1542.1 182.6L1532.9 187.9L1527.6 178.7ZM1526.1 179.4L1530.5 189.1L1520.9 193.5L1516.5 183.9ZM1514.9 184.5L1518.4 194.5L1508.4 198.1L1504.9 188.1ZM1503.3 188.6L1505.9 198.8L1495.6 201.5L1493.0 191.2ZM1491.3 191.6L1493.0 202.0L1482.5 203.7L1480.8 193.3ZM1479.1 193.5L1479.9 204.0L1469.3 204.8L1468.6 194.2ZM1466.8 194.3L1466.6 204.9L1456.0 204.7L1456.2 194.1ZM1454.5 194.0L1453.4 204.5L1442.8 203.4L1444.0 192.8ZM1442.3 192.6L1440.2 203.0L1429.8 200.9L1431.9 190.5ZM1430.2 190.1L1427.2 200.2L1417.0 197.2L1420.0 187.1ZM1418.4 186.5L1414.5 196.4L1404.7 192.5L1408.6 182.6ZM1407.0 181.9L1402.2 191.4L1392.8 186.6L1397.5 177.1ZM1396.0 176.3L1390.4 185.3L1381.4 179.7L1387.0 170.7ZM1385.6 169.7L1379.2 178.2L1370.8 171.8L1377.1 163.3ZM1375.8 162.2L1368.7 170.1L1360.8 163.0L1368.0 155.1ZM1366.7 153.9L1358.9 161.1L1351.8 153.3L1359.6 146.1ZM1334.3 102.1L1324.2 105.2L1321.1 95.1L1331.2 92.0ZM1330.8 90.3L1320.4 92.5L1318.3 82.1L1328.6 79.9ZM1328.4 78.2L1317.8 79.5L1316.6 68.9L1327.1 67.7ZM1327.0 66.0L1316.4 66.3L1316.1 55.7L1326.7 55.4ZM1326.7 53.7L1316.2 53.0L1316.8 42.4L1327.4 43.1ZM1327.6 41.4L1317.1 39.8L1318.7 29.3L1329.2 30.9ZM1599.6 35.8L1610.2 34.5L1611.4 45.1L1600.9 46.3ZM1601.0 48.0L1611.6 47.7L1611.9 58.3L1601.3 58.6ZM1539.3 186.8L1544.3 196.2L1534.9 201.2L1530.0 191.8ZM1528.3 192.6L1532.5 202.3L1522.8 206.5L1518.6 196.8ZM1516.9 197.5L1520.3 207.5L1510.2 210.9L1506.9 200.8ZM1505.1 201.3L1507.7 211.6L1497.4 214.2L1494.8 203.9ZM1493.1 204.3L1494.7 214.7L1484.3 216.4L1482.6 205.9ZM1480.8 206.1L1481.6 216.7L1471.1 217.5L1470.2 207.0ZM1468.4 207.0L1468.4 217.6L1457.8 217.6L1457.8 207.0ZM1456.0 206.9L1455.1 217.4L1444.5 216.5L1445.5 205.9ZM1443.7 205.7L1441.9 216.2L1431.4 214.4L1433.2 203.9ZM1431.5 203.5L1428.8 213.8L1418.5 211.1L1421.2 200.9ZM1419.5 200.3L1416.0 210.3L1406.0 206.8L1409.5 196.8ZM1407.8 196.2L1403.5 205.9L1393.8 201.5L1398.1 191.9ZM1396.5 191.1L1391.4 200.3L1382.1 195.2L1387.2 186.0ZM1385.7 185.0L1379.8 193.9L1371.0 188.0L1376.8 179.2ZM1314.9 73.8L1304.3 74.6L1303.5 64.1L1314.0 63.2ZM1314.0 61.4L1303.4 61.4L1303.4 50.8L1314.0 50.8ZM1314.1 49.0L1303.6 48.1L1304.5 37.5L1315.1 38.5ZM1315.3 36.7L1304.8 34.9L1306.6 24.4L1317.1 26.2ZM1613.1 40.2L1623.7 39.4L1624.5 49.9L1614.0 50.8ZM1521.2 209.5L1524.6 219.6L1514.6 223.0L1511.2 212.9ZM1509.5 213.4L1512.1 223.7L1501.9 226.3L1499.2 216.0ZM1497.5 216.4L1499.4 226.8L1488.9 228.7L1487.1 218.2ZM1485.4 218.5L1486.4 229.0L1475.9 230.1L1474.8 219.5ZM1473.1 219.6L1473.4 230.2L1462.8 230.5L1462.5 219.9ZM1460.8 219.9L1460.2 230.4L1449.7 229.9L1450.2 219.3ZM1448.5 219.1L1447.1 229.7L1436.6 228.3L1438.0 217.8ZM1436.3 217.5L1434.1 227.9L1423.7 225.7L1425.9 215.4ZM1424.2 215.0L1421.3 225.1L1411.1 222.2L1414.0 212.0ZM1412.4 211.5L1408.7 221.4L1398.8 217.7L1402.4 207.8ZM1400.8 207.1L1396.4 216.8L1386.8 212.3L1391.2 202.7ZM1301.2 50.7L1290.7 50.0L1291.4 39.4L1302.0 40.1ZM1302.2 38.4L1291.7 36.9L1293.2 26.4L1303.7 27.9ZM1511.4 226.2L1513.9 236.5L1503.6 239.0L1501.1 228.7ZM1499.3 229.1L1501.1 239.5L1490.7 241.4L1488.9 230.9ZM1487.1 231.2L1488.2 241.7L1477.6 242.8L1476.5 232.2ZM1474.8 232.4L1475.1 242.9L1464.5 243.3L1464.2 232.7ZM1462.4 232.7L1461.9 243.3L1451.3 242.8L1451.8 232.3ZM1450.0 232.1L1448.8 242.7L1438.3 241.5L1439.4 231.0ZM1437.7 230.7L1435.7 241.1L1425.3 239.2L1427.2 228.8ZM1425.5 228.4L1422.8 238.7L1412.6 236.0L1415.2 225.8ZM1413.5 225.3L1410.1 235.3L1400.1 232.0L1403.4 221.9ZM1289.9 33.7L1279.4 32.0L1281.1 21.5L1291.6 23.3ZM470.0 150.0m-7 0a7 7 0 1 0 14 0a7 7 0 1 0 -14 0M479.2 144.7L489.8 144.7L489.8 155.3L479.2 155.3ZM480.3 152.8L487.7 160.3L480.3 167.7L472.8 160.3ZM475.3 159.2L475.3 169.8L464.7 169.8L464.7 159.2ZM467.2 160.3L459.7 167.7L452.3 160.3L459.7 152.8ZM460.8 155.3L450.2 155.3L450.2 144.7L460.8 144.7ZM459.7 147.2L452.3 139.7L459.7 132.3L467.2 139.7ZM464.7 140.8L464.7 130.2L475.3 130.2L475.3 140.8ZM472.8 139.7L480.3 132.3L487.7 139.7L480.3 147.2ZM492.6 148.7L503.0 150.6L501.1 161.0L490.7 159.1ZM490.6 159.3L499.0 165.9L492.5 174.2L484.1 167.7ZM483.9 167.9L488.3 177.5L478.6 181.9L474.2 172.2ZM474.0 172.3L473.4 182.9L462.8 182.2L463.4 171.7ZM463.2 171.6L457.7 180.7L448.7 175.2L454.1 166.1ZM454.0 166.0L444.9 171.5L439.4 162.4L448.4 156.9ZM448.4 156.7L437.8 157.3L437.1 146.8L447.7 146.1ZM447.8 145.9L438.1 141.5L442.4 131.9L452.1 136.2ZM452.2 136.0L445.7 127.7L454.0 121.1L460.6 129.4ZM460.8 129.3L458.8 118.9L469.3 117.0L471.2 127.4ZM471.4 127.4L474.6 117.3L484.7 120.4L481.6 130.5ZM481.8 130.7L489.2 123.2L496.8 130.6L489.3 138.1ZM489.4 138.3L499.5 135.2L502.7 145.3L492.6 148.5ZM505.1 152.9L515.4 155.3L513.0 165.6L502.6 163.2ZM502.5 163.6L511.5 169.1L506.0 178.1L497.0 172.6ZM496.7 172.9L503.6 181.0L495.6 187.9L488.7 179.8ZM488.3 180.1L492.4 189.8L482.6 193.9L478.5 184.2ZM478.1 184.3L479.0 194.8L468.4 195.7L467.6 185.1ZM467.1 185.1L464.7 195.4L454.4 193.0L456.8 182.6ZM456.4 182.5L450.9 191.5L441.9 186.0L447.4 177.0ZM447.1 176.7L439.0 183.6L432.1 175.6L440.2 168.7ZM439.9 168.3L430.2 172.4L426.1 162.6L435.8 158.5ZM435.7 158.1L425.2 159.0L424.3 148.4L434.9 147.6ZM434.9 147.1L424.6 144.7L427.0 134.4L437.4 136.8ZM437.5 136.4L428.5 130.9L434.0 121.9L443.0 127.4ZM443.3 127.1L436.4 119.0L444.4 112.1L451.3 120.2ZM451.7 119.9L447.6 110.2L457.4 106.1L461.5 115.8ZM461.9 115.7L461.0 105.2L471.6 104.3L472.4 114.9ZM472.9 114.9L475.3 104.6L485.6 107.0L483.2 117.4ZM483.6 117.5L489.1 108.5L498.1 114.0L492.6 123.0ZM492.9 123.3L501.0 116.4L507.9 124.4L499.8 131.3ZM500.1 131.7L509.8 127.6L513.9 137.4L504.2 141.5ZM504.3 141.9L514.8 141.0L515.7 151.6L505.1 152.4ZM517.7 146.0L528.3 146.2L528.0 156.8L517.4 156.6ZM517.3 157.5L527.5 160.3L524.7 170.5L514.5 167.7ZM514.1 168.6L523.4 173.8L518.2 183.0L509.0 177.9ZM508.4 178.6L516.1 185.9L508.9 193.6L501.2 186.4ZM500.4 187.0L506.2 195.9L497.3 201.7L491.5 192.8ZM490.7 193.2L494.2 203.2L484.2 206.7L480.7 196.7ZM479.8 196.9L480.8 207.4L470.2 208.4L469.2 197.9ZM468.3 197.9L466.7 208.3L456.2 206.8L457.8 196.3ZM456.8 196.1L452.8 205.9L443.0 201.8L447.0 192.0ZM446.2 191.6L440.0 200.1L431.4 193.9L437.6 185.3ZM437.0 184.7L428.8 191.5L422.0 183.4L430.1 176.5ZM429.6 175.7L420.1 180.4L415.4 170.9L424.9 166.2ZM424.6 165.3L414.3 167.6L412.0 157.2L422.4 155.0ZM422.3 154.0L411.7 153.8L412.0 143.2L422.6 143.4ZM422.7 142.5L412.5 139.7L415.3 129.5L425.5 132.3ZM425.9 131.4L416.6 126.2L421.8 117.0L431.0 122.1ZM431.6 121.4L423.9 114.1L431.1 106.4L438.8 113.6ZM439.6 113.0L433.8 104.1L442.7 98.3L448.5 107.2ZM449.3 106.8L445.8 96.8L455.8 93.3L459.3 103.3ZM460.2 103.1L459.2 92.6L469.8 91.6L470.8 102.1ZM471.7 102.1L473.3 91.7L483.8 93.2L482.2 103.7ZM483.2 103.9L487.2 94.1L497.0 98.2L493.0 108.0ZM493.8 108.4L500.0 99.9L508.6 106.1L502.4 114.7ZM503.0 115.3L511.2 108.5L518.0 116.6L509.9 123.5ZM510.4 124.3L519.9 119.6L524.6 129.1L515.1 133.8ZM515.4 134.7L525.7 132.4L528.0 142.8L517.6 145.0ZM530.6 150.4L541.2 151.4L540.2 162.0L529.6 161.0ZM529.4 162.2L539.5 165.3L536.5 175.4L526.3 172.4ZM525.9 173.6L535.2 178.5L530.3 187.9L520.9 182.9ZM520.2 184.0L528.4 190.7L521.7 198.9L513.5 192.2ZM512.6 193.2L519.3 201.3L511.2 208.1L504.4 199.9ZM503.3 200.6L508.4 210.0L499.1 215.0L494.0 205.7ZM492.8 206.2L495.9 216.3L485.8 219.4L482.7 209.3ZM481.4 209.5L482.5 220.1L472.0 221.2L470.9 210.6ZM469.6 210.6L468.6 221.2L458.0 220.2L459.0 209.6ZM457.8 209.4L454.7 219.5L444.6 216.5L447.6 206.3ZM446.4 205.9L441.5 215.2L432.1 210.3L437.1 200.9ZM436.0 200.2L429.3 208.4L421.1 201.7L427.8 193.5ZM426.8 192.6L418.7 199.3L411.9 191.2L420.1 184.4ZM419.4 183.3L410.0 188.4L405.0 179.1L414.3 174.0ZM413.8 172.8L403.7 175.9L400.6 165.8L410.7 162.7ZM410.5 161.4L399.9 162.5L398.8 152.0L409.4 150.9ZM409.4 149.6L398.8 148.6L399.8 138.0L410.4 139.0ZM410.6 137.8L400.5 134.7L403.5 124.6L413.7 127.6ZM414.1 126.4L404.8 121.5L409.7 112.1L419.1 117.1ZM419.8 116.0L411.6 109.3L418.3 101.1L426.5 107.8ZM427.4 106.8L420.7 98.7L428.8 91.9L435.6 100.1ZM436.7 99.4L431.6 90.0L440.9 85.0L446.0 94.3ZM447.2 93.8L444.1 83.7L454.2 80.6L457.3 90.7ZM458.6 90.5L457.5 79.9L468.0 78.8L469.1 89.4ZM470.4 89.4L471.4 78.8L482.0 79.8L481.0 90.4ZM482.2 90.6L485.3 80.5L495.4 83.5L492.4 93.7ZM493.6 94.1L498.5 84.8L507.9 89.7L502.9 99.1ZM504.0 99.8L510.7 91.6L518.9 98.3L512.2 106.5ZM513.2 107.4L521.3 100.7L528.1 108.8L519.9 115.6ZM520.6 116.7L530.0 111.6L535.0 120.9L525.7 126.0ZM526.2 127.2L536.3 124.1L539.4 134.2L529.3 137.3ZM529.5 138.6L540.1 137.5L541.2 148.0L530.6 149.1ZM543.2 154.7L553.7 156.2L552.3 166.7L541.8 165.2ZM541.5 166.4L551.7 169.5L548.5 179.7L538.4 176.6ZM538.0 177.7L547.5 182.4L542.8 191.9L533.3 187.2ZM532.6 188.2L541.3 194.4L535.1 203.0L526.5 196.9ZM525.7 197.8L533.2 205.3L525.8 212.8L518.2 205.3ZM517.3 206.1L523.5 214.7L515.0 220.9L508.7 212.3ZM507.7 213.0L512.5 222.4L503.0 227.2L498.2 217.7ZM497.1 218.2L500.3 228.3L490.2 231.5L487.0 221.4ZM485.8 221.7L487.4 232.2L476.9 233.7L475.3 223.2ZM474.1 223.3L473.9 233.9L463.4 233.7L463.5 223.1ZM462.3 223.0L460.4 233.4L450.0 231.6L451.9 221.1ZM450.7 220.8L447.2 230.8L437.2 227.3L440.7 217.3ZM439.6 216.8L434.5 226.1L425.2 221.0L430.3 211.7ZM429.3 211.1L422.8 219.4L414.4 212.9L420.9 204.6ZM420.0 203.7L412.2 211.0L405.0 203.2L412.8 196.0ZM412.0 195.0L403.2 200.9L397.3 192.1L406.2 186.2ZM405.6 185.1L395.9 189.5L391.5 179.9L401.2 175.5ZM400.8 174.3L390.5 177.1L387.8 166.9L398.0 164.1ZM397.8 162.9L387.2 164.0L386.1 153.5L396.6 152.4ZM396.6 151.2L386.0 150.6L386.6 140.0L397.2 140.6ZM397.4 139.4L387.0 137.1L389.3 126.7L399.7 129.0ZM400.0 127.9L390.2 124.0L394.1 114.1L403.9 118.0ZM404.5 116.9L395.4 111.5L400.8 102.4L409.9 107.8ZM410.6 106.8L402.5 100.0L409.4 91.9L417.5 98.7ZM418.3 97.9L411.4 89.8L419.5 82.9L426.4 91.0ZM427.4 90.3L421.8 81.2L430.9 75.7L436.4 84.7ZM437.5 84.2L433.5 74.4L443.3 70.4L447.3 80.2ZM448.5 79.8L446.1 69.5L456.4 67.1L458.8 77.5ZM460.0 77.3L459.3 66.7L469.9 66.0L470.6 76.6ZM471.8 76.6L472.8 66.1L483.4 67.1L482.3 77.7ZM483.5 77.9L486.2 67.6L496.5 70.3L493.8 80.6ZM494.9 81.0L499.2 71.3L508.9 75.6L504.6 85.3ZM505.7 85.9L511.5 77.0L520.4 82.8L514.5 91.7ZM515.5 92.4L522.7 84.6L530.5 91.8L523.3 99.6ZM524.2 100.5L532.5 93.9L539.0 102.2L530.7 108.8ZM531.4 109.8L540.7 104.6L545.8 113.9L536.6 119.1ZM537.1 120.2L547.0 116.6L550.6 126.5L540.7 130.1ZM541.0 131.3L551.4 129.4L553.3 139.8L542.9 141.7ZM543.1 142.9L553.6 142.7L553.9 153.3L543.3 153.5ZM556.1 147.3L566.7 147.7L566.4 158.3L555.8 157.9ZM555.7 159.4L566.1 161.2L564.3 171.6L553.9 169.8ZM553.5 171.2L563.6 174.4L560.4 184.5L550.3 181.3ZM549.8 182.6L559.3 187.2L554.7 196.8L545.2 192.1ZM544.4 193.4L553.3 199.3L547.4 208.1L538.6 202.2ZM537.7 203.3L545.6 210.4L538.5 218.3L530.6 211.2ZM529.6 212.2L536.4 220.3L528.4 227.2L521.5 219.1ZM520.4 219.9L526.0 228.9L517.1 234.5L511.4 225.6ZM510.1 226.2L514.5 235.9L504.8 240.3L500.5 230.6ZM499.1 231.1L502.1 241.3L491.9 244.2L489.0 234.1ZM487.6 234.4L489.1 244.8L478.6 246.4L477.1 235.9ZM475.7 236.0L475.7 246.6L465.1 246.6L465.1 236.0ZM463.6 235.9L462.2 246.4L451.7 245.0L453.1 234.5ZM451.7 234.2L448.9 244.4L438.7 241.5L441.5 231.3ZM440.2 230.8L435.9 240.5L426.2 236.3L430.5 226.6ZM429.2 225.9L423.7 234.9L414.6 229.3L420.2 220.3ZM419.1 219.5L412.3 227.6L404.1 220.9L410.9 212.7ZM409.9 211.7L402.0 218.9L394.9 211.0L402.8 203.9ZM401.9 202.8L393.1 208.7L387.2 200.0L395.9 194.0ZM395.2 192.8L385.7 197.5L381.0 188.0L390.5 183.3ZM390.0 182.0L379.9 185.3L376.6 175.2L386.7 171.9ZM386.3 170.5L375.9 172.4L374.0 162.0L384.4 160.1ZM384.3 158.7L373.7 159.1L373.3 148.5L383.9 148.1ZM383.9 146.6L373.4 145.6L374.4 135.0L385.0 136.1ZM385.2 134.7L374.9 132.2L377.4 121.9L387.7 124.4ZM388.2 123.0L378.3 119.1L382.2 109.3L392.1 113.2ZM392.7 111.9L383.5 106.7L388.8 97.4L398.0 102.7ZM398.8 101.5L390.4 95.0L396.9 86.7L405.3 93.1ZM406.2 92.1L398.8 84.5L406.4 77.1L413.8 84.7ZM414.9 83.8L408.6 75.2L417.2 69.0L423.4 77.5ZM424.6 76.7L419.6 67.4L429.0 62.4L434.0 71.7ZM435.3 71.1L431.6 61.2L441.6 57.5L445.2 67.5ZM446.6 67.1L444.3 56.7L454.7 54.5L456.9 64.8ZM458.4 64.6L457.6 54.1L468.1 53.3L468.9 63.8ZM470.4 63.8L471.0 53.3L481.6 54.0L480.9 64.5ZM482.3 64.7L484.5 54.3L494.9 56.5L492.7 66.9ZM494.1 67.3L497.7 57.3L507.6 60.9L504.1 70.9ZM505.4 71.4L510.3 62.0L519.7 67.0L514.7 76.4ZM516.0 77.1L522.2 68.5L530.8 74.7L524.6 83.3ZM525.7 84.2L533.0 76.6L540.6 83.9L533.3 91.6ZM534.3 92.6L542.6 86.0L549.2 94.4L540.8 100.9ZM541.6 102.1L550.8 96.8L556.1 105.9L547.0 111.3ZM547.6 112.5L557.4 108.5L561.4 118.3L551.6 122.4ZM552.1 123.7L562.3 121.1L564.9 131.4L554.7 134.0ZM554.9 135.4L565.5 134.2L566.6 144.8L556.1 145.9ZM568.9 151.9L579.5 152.7L578.7 163.2L568.2 162.5ZM567.9 164.0L578.3 166.1L576.3 176.5L565.9 174.4ZM523.1 233.5L528.3 242.7L519.0 247.9L513.8 238.7ZM512.4 239.4L516.4 249.2L506.6 253.2L502.6 243.4ZM501.1 243.9L503.9 254.2L493.7 256.9L490.9 246.7ZM489.3 247.0L490.8 257.5L480.3 259.0L478.8 248.5ZM477.2 248.7L477.5 259.3L466.9 259.5L466.6 248.9ZM465.1 248.8L464.0 259.4L453.4 258.3L454.5 247.7ZM453.0 247.5L450.6 257.8L440.2 255.4L442.6 245.1ZM441.1 244.6L437.5 254.6L427.5 251.0L431.2 241.0ZM429.7 240.4L424.9 249.8L415.4 245.0L420.3 235.5ZM418.9 234.7L412.9 243.5L404.2 237.5L410.1 228.8ZM408.9 227.8L401.9 235.8L393.9 228.8L400.9 220.8ZM399.8 219.7L391.9 226.8L384.8 218.8L392.7 211.8ZM391.7 210.5L383.0 216.6L377.0 207.9L385.7 201.8ZM384.9 200.5L375.5 205.4L370.6 196.0L380.0 191.1ZM379.3 189.6L369.4 193.3L365.7 183.4L375.6 179.7ZM375.2 178.2L364.9 180.7L362.4 170.4L372.7 167.9ZM372.4 166.3L361.9 167.5L360.7 157.0L371.2 155.8ZM371.1 154.2L360.5 154.1L360.7 143.5L371.3 143.6ZM371.4 142.0L360.9 140.6L362.3 130.1L372.8 131.5ZM373.1 130.0L362.9 127.3L365.6 117.0L375.8 119.7ZM376.3 118.2L366.5 114.3L370.4 104.4L380.2 108.4ZM380.9 106.9L371.6 101.8L376.8 92.5L386.0 97.7ZM386.9 96.3L378.3 90.1L384.5 81.5L393.1 87.7ZM394.1 86.5L386.4 79.3L393.6 71.5L401.3 78.8ZM402.5 77.7L395.7 69.5L403.8 62.7L410.6 70.9ZM411.9 69.9L406.1 61.0L415.0 55.3L420.8 64.2ZM422.2 63.4L417.6 53.8L427.1 49.2L431.7 58.8ZM433.2 58.2L429.8 48.1L439.8 44.7L443.2 54.8ZM444.7 54.3L442.6 44.0L453.0 41.8L455.1 52.2ZM456.7 52.0L455.8 41.4L466.4 40.5L467.3 51.1ZM468.8 51.1L469.3 40.5L479.9 40.9L479.4 51.5ZM481.0 51.7L482.8 41.2L493.2 43.0L491.5 53.4ZM493.0 53.8L496.0 43.6L506.2 46.6L503.2 56.8ZM504.7 57.3L508.9 47.6L518.6 51.9L514.4 61.6ZM515.8 62.3L521.2 53.2L530.3 58.6L524.9 67.7ZM526.2 68.6L532.7 60.2L541.1 66.7L534.6 75.1ZM535.8 76.1L543.3 68.6L550.8 76.0L543.3 83.6ZM544.4 84.8L552.7 78.2L559.3 86.5L550.9 93.1ZM551.8 94.4L560.9 88.9L566.4 98.0L557.3 103.5ZM558.0 104.9L567.7 100.5L572.0 110.2L562.4 114.5ZM562.9 116.0L573.1 112.9L576.2 123.1L566.0 126.2ZM566.4 127.7L576.8 125.9L578.7 136.3L568.2 138.1ZM568.4 139.7L579.0 139.2L579.5 149.8L568.9 150.3ZM503.0 256.7L505.7 267.0L495.4 269.7L492.7 259.4ZM491.1 259.7L492.6 270.2L482.1 271.7L480.6 261.2ZM478.9 261.4L479.2 272.0L468.6 272.3L468.3 261.7ZM466.6 261.7L465.7 272.2L455.2 271.4L456.0 260.8ZM454.3 260.6L452.3 271.0L441.9 269.0L443.9 258.6ZM442.2 258.2L439.1 268.3L429.0 265.2L432.1 255.1ZM430.5 254.5L426.3 264.2L416.5 260.0L420.8 250.3ZM419.2 249.5L414.0 258.7L404.8 253.5L410.0 244.3ZM408.6 243.3L402.3 251.9L393.8 245.7L400.0 237.1ZM398.7 236.0L391.5 243.8L383.7 236.7L390.9 228.9ZM389.7 227.6L381.7 234.6L374.7 226.7L382.7 219.7ZM381.6 218.3L372.9 224.4L366.8 215.7L375.5 209.7ZM374.6 208.2L365.3 213.3L360.2 204.0L369.5 198.9ZM368.8 197.4L359.0 201.4L355.0 191.6L364.8 187.6ZM364.2 185.9L354.0 188.9L351.1 178.7L361.3 175.7ZM360.9 174.1L350.5 175.9L348.7 165.4L359.1 163.6ZM358.9 161.9L348.3 162.6L347.7 152.0L358.3 151.3ZM358.3 149.6L347.7 149.1L348.2 138.5L358.8 139.1ZM359.0 137.3L348.5 135.6L350.2 125.2L360.7 126.9ZM361.1 125.2L350.8 122.4L353.7 112.2L363.9 115.0ZM364.4 113.4L354.6 109.4L358.6 99.6L368.4 103.5ZM369.1 102.0L359.8 97.0L364.8 87.6L374.1 92.6ZM375.0 91.2L366.3 85.2L372.3 76.4L381.0 82.4ZM382.1 81.1L374.0 74.2L381.0 66.1L389.0 73.1ZM390.2 71.8L383.0 64.1L390.7 56.9L397.9 64.6ZM399.3 63.5L392.9 55.0L401.5 48.7L407.8 57.2ZM409.2 56.3L403.9 47.1L413.0 41.8L418.4 50.9ZM419.9 50.1L415.6 40.5L425.3 36.2L429.6 45.8ZM431.2 45.2L428.0 35.1L438.1 31.9L441.3 42.0ZM442.9 41.6L440.8 31.2L451.2 29.1L453.3 39.5ZM455.0 39.3L454.1 28.7L464.7 27.8L465.6 38.4ZM467.3 38.3L467.5 27.7L478.1 28.0L477.9 38.6ZM479.6 38.7L481.0 28.2L491.5 29.6L490.1 40.1ZM491.8 40.4L494.3 30.1L504.6 32.7L502.1 43.0ZM503.7 43.5L507.4 33.5L517.3 37.2L513.6 47.2ZM515.2 47.8L520.0 38.4L529.4 43.1L524.7 52.6ZM526.2 53.4L531.9 44.5L540.8 50.3L535.1 59.2ZM536.5 60.2L543.2 52.0L551.4 58.7L544.7 66.9ZM545.9 68.0L553.5 60.6L560.9 68.2L553.4 75.6ZM554.5 76.9L562.8 70.4L569.4 78.7L561.0 85.2ZM562.0 86.6L571.0 81.0L576.6 90.1L567.6 95.6ZM568.4 97.1L578.0 92.6L582.6 102.1L573.0 106.7ZM573.6 108.3L583.7 104.8L587.1 114.8L577.1 118.3ZM577.6 119.9L587.9 117.6L590.3 127.9L580.0 130.3ZM580.3 132.0L590.8 130.8L592.0 141.3L581.5 142.5ZM581.6 144.2L592.2 144.2L592.2 154.8L581.6 154.8ZM495.5 271.9L497.3 282.3L486.8 284.1L485.1 273.6ZM483.5 273.8L484.2 284.4L473.6 285.1L472.9 274.5ZM471.3 274.5L470.9 285.1L460.3 284.8L460.7 274.2ZM374.6 230.0L366.2 236.4L359.7 228.0L368.1 221.6ZM367.2 220.2L358.2 225.8L352.6 216.8L361.6 211.2ZM360.8 209.8L351.3 214.5L346.6 205.0L356.1 200.3ZM355.5 198.8L345.5 202.6L341.8 192.6L351.7 188.9ZM351.2 187.4L341.0 190.1L338.2 179.9L348.5 177.1ZM348.1 175.5L337.7 177.3L335.9 166.8L346.4 165.1ZM346.2 163.5L335.6 164.2L334.9 153.6L345.5 152.9ZM350.5 115.1L340.4 111.7L343.9 101.6L353.9 105.0ZM354.5 103.5L344.8 99.2L349.2 89.5L358.9 93.9ZM359.6 92.4L350.4 87.1L355.7 77.9L364.9 83.2ZM365.8 81.9L357.2 75.7L363.3 67.1L371.9 73.3ZM373.0 72.0L365.0 65.0L372.0 57.0L379.9 64.0ZM381.1 62.9L373.8 55.1L381.5 47.9L388.8 55.6ZM390.0 54.6L383.6 46.2L392.0 39.7L398.4 48.1ZM399.8 47.2L394.2 38.2L403.2 32.6L408.8 41.6ZM410.2 40.8L405.5 31.3L415.0 26.6L419.7 36.1ZM421.2 35.5L417.4 25.5L427.4 21.8L431.1 31.7ZM432.6 31.2L429.9 21.0L440.1 18.2L442.9 28.5ZM444.5 28.1L442.7 17.7L453.2 15.9L454.9 26.4ZM456.5 26.2L455.8 15.6L466.4 14.9L467.1 25.5ZM468.7 25.5L469.1 14.9L479.7 15.2L479.3 25.8ZM480.9 26.0L482.3 15.5L492.8 16.8L491.5 27.3ZM493.0 27.6L495.5 17.3L505.8 19.7L503.4 30.0ZM504.9 30.5L508.3 20.4L518.4 23.9L515.0 33.9ZM516.5 34.5L520.8 24.8L530.5 29.2L526.1 38.9ZM527.6 39.6L532.9 30.4L542.1 35.7L536.8 44.9ZM538.1 45.8L544.3 37.2L552.9 43.3L546.7 51.9ZM548.0 53.0L555.0 45.0L563.0 52.0L556.0 59.9ZM557.1 61.1L564.9 53.8L572.1 61.5L564.4 68.8ZM565.4 70.0L573.8 63.6L580.3 72.0L571.9 78.4ZM572.8 79.8L581.8 74.2L587.4 83.2L578.4 88.8ZM579.2 90.2L588.7 85.5L593.4 95.0L583.9 99.7ZM584.5 101.2L594.5 97.4L598.2 107.4L588.3 111.1ZM588.8 112.6L599.0 109.9L601.8 120.1L591.5 122.9ZM591.9 124.5L602.3 122.7L604.1 133.2L593.6 134.9ZM485.1 286.5L485.9 297.0L475.3 297.8L474.6 287.2ZM350.5 217.5L341.0 222.4L336.2 213.0L345.6 208.1ZM344.9 206.6L335.1 210.6L331.1 200.7L340.9 196.7ZM353.9 76.7L345.1 70.7L351.1 62.0L359.9 68.0ZM360.9 66.6L352.7 59.9L359.5 51.7L367.7 58.5ZM368.8 57.2L361.3 49.7L368.8 42.2L376.3 49.7ZM377.5 48.5L370.7 40.4L378.8 33.6L385.7 41.7ZM387.0 40.6L380.9 31.9L389.6 25.8L395.7 34.5ZM397.2 33.6L391.9 24.4L401.1 19.1L406.4 28.3ZM407.9 27.6L403.5 17.9L413.1 13.5L417.5 23.1ZM527.0 25.1L531.8 15.6L541.2 20.4L536.5 29.9ZM538.0 30.7L543.6 21.7L552.6 27.3L547.0 36.3ZM548.4 37.3L554.8 28.8L563.2 35.2L556.9 43.7ZM558.2 44.8L565.3 36.9L573.2 44.0L566.0 51.9ZM567.3 53.1L575.1 45.9L582.2 53.7L574.4 60.9ZM575.6 62.2L584.0 55.7L590.4 64.1L582.0 70.6ZM583.0 72.0L592.0 66.3L597.6 75.3L588.7 81.0ZM589.5 82.5L599.0 77.6L603.8 87.0L594.4 91.9ZM595.1 93.4L604.9 89.4L608.9 99.3L599.1 103.3ZM599.7 104.9L609.8 101.8L612.9 111.9L602.8 115.0ZM603.2 116.7L613.6 114.5L615.7 124.9L605.4 127.1ZM356.6 51.6L348.9 44.4L356.1 36.7L363.8 43.9ZM365.1 42.6L358.0 34.8L365.8 27.6L373.0 35.5ZM374.4 34.3L367.9 25.9L376.3 19.5L382.8 27.9ZM384.2 26.8L378.5 17.9L387.4 12.2L393.1 21.1ZM548.3 22.0L554.2 13.1L563.0 19.0L557.2 27.8ZM558.7 28.9L565.2 20.6L573.5 27.1L567.0 35.4ZM568.4 36.6L575.6 28.9L583.3 36.1L576.1 43.8ZM577.4 45.1L585.2 38.0L592.4 45.8L584.5 53.0ZM585.7 54.4L594.1 47.9L600.5 56.3L592.1 62.8ZM593.2 64.2L602.1 58.5L607.8 67.4L598.9 73.1ZM599.8 74.7L609.2 69.7L614.2 79.1L604.8 84.0ZM605.6 85.7L615.3 81.5L619.5 91.2L609.8 95.4ZM610.5 97.1L620.5 93.7L623.9 103.8L613.8 107.1ZM614.3 108.9L624.6 106.3L627.2 116.6L616.9 119.2ZM365.1 25.4L358.6 17.0L366.9 10.5L373.5 18.8ZM570.3 21.6L577.1 13.5L585.2 20.3L578.4 28.4ZM579.7 29.6L587.1 22.0L594.7 29.4L587.3 37.0ZM588.5 38.2L596.4 31.2L603.4 39.2L595.5 46.2ZM596.6 47.5L605.1 41.1L611.4 49.6L603.0 56.0ZM604.0 57.4L612.9 51.6L618.6 60.5L609.7 66.3ZM610.6 67.8L619.9 62.7L625.0 72.0L615.7 77.1ZM616.4 78.6L626.1 74.3L630.4 84.0L620.8 88.3ZM621.4 89.9L631.4 86.3L635.0 96.3L625.0 99.9ZM598.6 30.3L606.6 23.3L613.6 31.3L605.6 38.3ZM606.7 39.7L615.2 33.3L621.6 41.7L613.1 48.1ZM614.2 49.6L623.0 43.8L628.8 52.7L620.0 58.5ZM620.9 60.0L630.1 54.9L635.3 64.1L626.0 69.3ZM626.9 70.9L636.5 66.4L640.9 76.0L631.3 80.5ZM632.0 82.1L641.9 78.3L645.7 88.2L635.8 92.0ZM608.7 22.4L616.7 15.4L623.7 23.4L615.7 30.4ZM616.8 31.8L625.3 25.4L631.7 33.9L623.2 40.3ZM624.3 41.8L633.2 36.0L639.0 44.8L630.2 50.6ZM631.1 52.2L640.4 47.0L645.6 56.2L636.4 61.5ZM637.2 63.1L646.8 58.5L651.4 68.0L641.9 72.6ZM627.0 24.0L635.4 17.6L641.8 26.0L633.4 32.4ZM634.5 34.0L643.3 28.1L649.2 36.9L640.4 42.8ZM1040.0 110.0m-7 0a7 7 0 1 0 14 0a7 7 0 1 0 -14 0M1049.2 104.7L1059.8 104.7L1059.8 115.3L1049.2 115.3ZM1050.3 112.8L1057.7 120.3L1050.3 127.7L1042.8 120.3ZM1045.3 119.2L1045.3 129.8L1034.7 129.8L1034.7 119.2ZM1037.2 120.3L1029.7 127.7L1022.3 120.3L1029.7 112.8ZM1030.8 115.3L1020.2 115.3L1020.2 104.7L1030.8 104.7ZM1029.7 107.2L1022.3 99.7L1029.7 92.3L1037.2 99.7ZM1034.7 100.8L1034.7 90.2L1045.3 90.2L1045.3 100.8ZM1042.8 99.7L1050.3 92.3L1057.7 99.7L1050.3 107.2ZM1062.6 108.7L1073.0 110.6L1071.1 121.0L1060.7 119.1ZM1060.6 119.3L1069.0 125.9L1062.5 134.2L1054.1 127.7ZM1053.9 127.9L1058.3 137.5L1048.6 141.9L1044.2 132.2ZM1044.0 132.3L1043.4 142.9L1032.8 142.2L1033.4 131.7ZM1033.2 131.6L1027.7 140.7L1018.7 135.2L1024.1 126.1ZM1024.0 126.0L1014.9 131.5L1009.4 122.4L1018.4 116.9ZM1018.4 116.7L1007.8 117.3L1007.1 106.8L1017.7 106.1ZM1017.8 105.9L1008.1 101.5L1012.4 91.9L1022.1 96.2ZM1022.2 96.0L1015.7 87.7L1024.0 81.1L1030.6 89.4ZM1030.8 89.3L1028.8 78.9L1039.3 77.0L1041.2 87.4ZM1041.4 87.4L1044.6 77.3L1054.7 80.4L1051.6 90.5ZM1051.8 90.7L1059.2 83.2L1066.8 90.6L1059.3 98.1ZM1059.4 98.3L1069.5 95.2L1072.7 105.3L1062.6 108.5ZM1075.1 112.9L1085.4 115.3L1083.0 125.6L1072.6 123.2ZM1072.5 123.6L1081.5 129.1L1076.0 138.1L1067.0 132.6ZM1066.7 132.9L1073.6 141.0L1065.6 147.9L1058.7 139.8ZM1058.3 140.1L1062.4 149.8L1052.6 153.9L1048.5 144.2ZM1048.1 144.3L1049.0 154.8L1038.4 155.7L1037.6 145.1ZM1037.1 145.1L1034.7 155.4L1024.4 153.0L1026.8 142.6ZM1026.4 142.5L1020.9 151.5L1011.9 146.0L1017.4 137.0ZM1017.1 136.7L1009.0 143.6L1002.1 135.6L1010.2 128.7ZM1009.9 128.3L1000.2 132.4L996.1 122.6L1005.8 118.5ZM1005.7 118.1L995.2 119.0L994.3 108.4L1004.9 107.6ZM1004.9 107.1L994.6 104.7L997.0 94.4L1007.4 96.8ZM1007.5 96.4L998.5 90.9L1004.0 81.9L1013.0 87.4ZM1013.3 87.1L1006.4 79.0L1014.4 72.1L1021.3 80.2ZM1021.7 79.9L1017.6 70.2L1027.4 66.1L1031.5 75.8ZM1031.9 75.7L1031.0 65.2L1041.6 64.3L1042.4 74.9ZM1042.9 74.9L1045.3 64.6L1055.6 67.0L1053.2 77.4ZM1053.6 77.5L1059.1 68.5L1068.1 74.0L1062.6 83.0ZM1062.9 83.3L1071.0 76.4L1077.9 84.4L1069.8 91.3ZM1070.1 91.7L1079.8 87.6L1083.9 97.4L1074.2 101.5ZM1074.3 101.9L1084.8 101.0L1085.7 111.6L1075.1 112.4ZM1087.7 106.0L1098.3 106.2L1098.0 116.8L1087.4 116.6ZM1087.3 117.5L1097.5 120.3L1094.7 130.5L1084.5 127.7ZM1084.1 128.6L1093.4 133.8L1088.2 143.0L1079.0 137.9ZM1078.4 138.6L1086.1 145.9L1078.9 153.6L1071.2 146.4ZM1070.4 147.0L1076.2 155.9L1067.3 161.7L1061.5 152.8ZM1060.7 153.2L1064.2 163.2L1054.2 166.7L1050.7 156.7ZM1049.8 156.9L1050.8 167.4L1040.2 168.4L1039.2 157.9ZM1038.3 157.9L1036.7 168.3L1026.2 166.8L1027.8 156.3ZM1026.8 156.1L1022.8 165.9L1013.0 161.8L1017.0 152.0ZM1016.2 151.6L1010.0 160.1L1001.4 153.9L1007.6 145.3ZM1007.0 144.7L998.8 151.5L992.0 143.4L1000.1 136.5ZM999.6 135.7L990.1 140.4L985.4 130.9L994.9 126.2ZM994.6 125.3L984.3 127.6L982.0 117.2L992.4 115.0ZM992.3 114.0L981.7 113.8L982.0 103.2L992.6 103.4ZM992.7 102.5L982.5 99.7L985.3 89.5L995.5 92.3ZM995.9 91.4L986.6 86.2L991.8 77.0L1001.0 82.1ZM1001.6 81.4L993.9 74.1L1001.1 66.4L1008.8 73.6ZM1009.6 73.0L1003.8 64.1L1012.7 58.3L1018.5 67.2ZM1019.3 66.8L1015.8 56.8L1025.8 53.3L1029.3 63.3ZM1030.2 63.1L1029.2 52.6L1039.8 51.6L1040.8 62.1ZM1041.7 62.1L1043.3 51.7L1053.8 53.2L1052.2 63.7ZM1053.2 63.9L1057.2 54.1L1067.0 58.2L1063.0 68.0ZM1063.8 68.4L1070.0 59.9L1078.6 66.1L1072.4 74.7ZM1073.0 75.3L1081.2 68.5L1088.0 76.6L1079.9 83.5ZM1080.4 84.3L1089.9 79.6L1094.6 89.1L1085.1 93.8ZM1085.4 94.7L1095.7 92.4L1098.0 102.8L1087.6 105.0ZM1100.6 110.4L1111.2 111.4L1110.2 122.0L1099.6 121.0ZM1099.4 122.2L1109.5 125.3L1106.5 135.4L1096.3 132.4ZM1095.9 133.6L1105.2 138.5L1100.3 147.9L1090.9 142.9ZM1090.2 144.0L1098.4 150.7L1091.7 158.9L1083.5 152.2ZM1082.6 153.2L1089.3 161.3L1081.2 168.1L1074.4 159.9ZM1073.3 160.6L1078.4 170.0L1069.1 175.0L1064.0 165.7ZM1062.8 166.2L1065.9 176.3L1055.8 179.4L1052.7 169.3ZM1051.4 169.5L1052.5 180.1L1042.0 181.2L1040.9 170.6ZM1039.6 170.6L1038.6 181.2L1028.0 180.2L1029.0 169.6ZM1027.8 169.4L1024.7 179.5L1014.6 176.5L1017.6 166.3ZM1016.4 165.9L1011.5 175.2L1002.1 170.3L1007.1 160.9ZM1006.0 160.2L999.3 168.4L991.1 161.7L997.8 153.5ZM996.8 152.6L988.7 159.3L981.9 151.2L990.1 144.4ZM989.4 143.3L980.0 148.4L975.0 139.1L984.3 134.0ZM983.8 132.8L973.7 135.9L970.6 125.8L980.7 122.7ZM980.5 121.4L969.9 122.5L968.8 112.0L979.4 110.9ZM979.4 109.6L968.8 108.6L969.8 98.0L980.4 99.0ZM980.6 97.8L970.5 94.7L973.5 84.6L983.7 87.6ZM984.1 86.4L974.8 81.5L979.7 72.1L989.1 77.1ZM989.8 76.0L981.6 69.3L988.3 61.1L996.5 67.8ZM997.4 66.8L990.7 58.7L998.8 51.9L1005.6 60.1ZM1006.7 59.4L1001.6 50.0L1010.9 45.0L1016.0 54.3ZM1017.2 53.8L1014.1 43.7L1024.2 40.6L1027.3 50.7ZM1028.6 50.5L1027.5 39.9L1038.0 38.8L1039.1 49.4ZM1040.4 49.4L1041.4 38.8L1052.0 39.8L1051.0 50.4ZM1052.2 50.6L1055.3 40.5L1065.4 43.5L1062.4 53.7ZM1063.6 54.1L1068.5 44.8L1077.9 49.7L1072.9 59.1ZM1074.0 59.8L1080.7 51.6L1088.9 58.3L1082.2 66.5ZM1083.2 67.4L1091.3 60.7L1098.1 68.8L1089.9 75.6ZM1090.6 76.7L1100.0 71.6L1105.0 80.9L1095.7 86.0ZM1096.2 87.2L1106.3 84.1L1109.4 94.2L1099.3 97.3ZM1099.5 98.6L1110.1 97.5L1111.2 108.0L1100.6 109.1ZM1113.2 114.7L1123.7 116.2L1122.3 126.7L1111.8 125.2ZM1111.5 126.4L1121.7 129.5L1118.5 139.7L1108.4 136.6ZM1108.0 137.7L1117.5 142.4L1112.8 151.9L1103.3 147.2ZM1102.6 148.2L1111.3 154.4L1105.1 163.0L1096.5 156.9ZM1095.7 157.8L1103.2 165.3L1095.8 172.8L1088.2 165.3ZM1087.3 166.1L1093.5 174.7L1085.0 180.9L1078.7 172.3ZM1077.7 173.0L1082.5 182.4L1073.0 187.2L1068.2 177.7ZM1067.1 178.2L1070.3 188.3L1060.2 191.5L1057.0 181.4ZM1055.8 181.7L1057.4 192.2L1046.9 193.7L1045.3 183.2ZM1044.1 183.3L1043.9 193.9L1033.4 193.7L1033.5 183.1ZM1032.3 183.0L1030.4 193.4L1020.0 191.6L1021.9 181.1ZM1020.7 180.8L1017.2 190.8L1007.2 187.3L1010.7 177.3ZM1009.6 176.8L1004.5 186.1L995.2 181.0L1000.3 171.7ZM999.3 171.1L992.8 179.4L984.4 172.9L990.9 164.6ZM990.0 163.7L982.2 171.0L975.0 163.2L982.8 156.0ZM982.0 155.0L973.2 160.9L967.3 152.1L976.2 146.2ZM975.6 145.1L965.9 149.5L961.5 139.9L971.2 135.5ZM970.8 134.3L960.5 137.1L957.8 126.9L968.0 124.1ZM967.8 122.9L957.2 124.0L956.1 113.5L966.6 112.4ZM966.6 111.2L956.0 110.6L956.6 100.0L967.2 100.6ZM967.4 99.4L957.0 97.1L959.3 86.7L969.7 89.0ZM970.0 87.9L960.2 84.0L964.1 74.1L973.9 78.0ZM974.5 76.9L965.4 71.5L970.8 62.4L979.9 67.8ZM980.6 66.8L972.5 60.0L979.4 51.9L987.5 58.7ZM988.3 57.9L981.4 49.8L989.5 42.9L996.4 51.0ZM997.4 50.3L991.8 41.2L1000.9 35.7L1006.4 44.7ZM1007.5 44.2L1003.5 34.4L1013.3 30.4L1017.3 40.2ZM1018.5 39.8L1016.1 29.5L1026.4 27.1L1028.8 37.5ZM1030.0 37.3L1029.3 26.7L1039.9 26.0L1040.6 36.6ZM1041.8 36.6L1042.8 26.1L1053.4 27.1L1052.3 37.7ZM1053.5 37.9L1056.2 27.6L1066.5 30.3L1063.8 40.6ZM1064.9 41.0L1069.2 31.3L1078.9 35.6L1074.6 45.3ZM1075.7 45.9L1081.5 37.0L1090.4 42.8L1084.5 51.7ZM1085.5 52.4L1092.7 44.6L1100.5 51.8L1093.3 59.6ZM1094.2 60.5L1102.5 53.9L1109.0 62.2L1100.7 68.8ZM1101.4 69.8L1110.7 64.6L1115.8 73.9L1106.6 79.1ZM1107.1 80.2L1117.0 76.6L1120.6 86.5L1110.7 90.1ZM1111.0 91.3L1121.4 89.4L1123.3 99.8L1112.9 101.7ZM1113.1 102.9L1123.6 102.7L1123.9 113.3L1113.3 113.5ZM1126.1 107.3L1136.7 107.7L1136.4 118.3L1125.8 117.9ZM1125.7 119.4L1136.1 121.2L1134.3 131.6L1123.9 129.8ZM1123.5 131.2L1133.6 134.4L1130.4 144.5L1120.3 141.3ZM1119.8 142.6L1129.3 147.2L1124.7 156.8L1115.2 152.1ZM1114.4 153.4L1123.3 159.3L1117.4 168.1L1108.6 162.2ZM1107.7 163.3L1115.6 170.4L1108.5 178.3L1100.6 171.2ZM1099.6 172.2L1106.4 180.3L1098.4 187.2L1091.5 179.1ZM1090.4 179.9L1096.0 188.9L1087.1 194.5L1081.4 185.6ZM1080.1 186.2L1084.5 195.9L1074.8 200.3L1070.5 190.6ZM1069.1 191.1L1072.1 201.3L1061.9 204.2L1059.0 194.1ZM1057.6 194.4L1059.1 204.8L1048.6 206.4L1047.1 195.9ZM1045.7 196.0L1045.7 206.6L1035.1 206.6L1035.1 196.0ZM1033.6 195.9L1032.2 206.4L1021.7 205.0L1023.1 194.5ZM1021.7 194.2L1018.9 204.4L1008.7 201.5L1011.5 191.3ZM1010.2 190.8L1005.9 200.5L996.2 196.3L1000.5 186.6ZM999.2 185.9L993.7 194.9L984.6 189.3L990.2 180.3ZM989.1 179.5L982.3 187.6L974.1 180.9L980.9 172.7ZM979.9 171.7L972.0 178.9L964.9 171.0L972.8 163.9ZM971.9 162.8L963.1 168.7L957.2 160.0L965.9 154.0ZM965.2 152.8L955.7 157.5L951.0 148.0L960.5 143.3ZM960.0 142.0L949.9 145.3L946.6 135.2L956.7 131.9ZM956.3 130.5L945.9 132.4L944.0 122.0L954.4 120.1ZM954.3 118.7L943.7 119.1L943.3 108.5L953.9 108.1ZM953.9 106.6L943.4 105.6L944.4 95.0L955.0 96.1ZM955.2 94.7L944.9 92.2L947.4 81.9L957.7 84.4ZM958.2 83.0L948.3 79.1L952.2 69.3L962.1 73.2ZM962.7 71.9L953.5 66.7L958.8 57.4L968.0 62.7ZM968.8 61.5L960.4 55.0L966.9 46.7L975.3 53.1ZM976.2 52.1L968.8 44.5L976.4 37.1L983.8 44.7ZM984.9 43.8L978.6 35.2L987.2 29.0L993.4 37.5ZM994.6 36.7L989.6 27.4L999.0 22.4L1004.0 31.7ZM1075.4 31.4L1080.3 22.0L1089.7 27.0L1084.7 36.4ZM1086.0 37.1L1092.2 28.5L1100.8 34.7L1094.6 43.3ZM1095.7 44.2L1103.0 36.6L1110.6 43.9L1103.3 51.6ZM1104.3 52.6L1112.6 46.0L1119.2 54.4L1110.8 60.9ZM1111.6 62.1L1120.8 56.8L1126.1 65.9L1117.0 71.3ZM1117.6 72.5L1127.4 68.5L1131.4 78.3L1121.6 82.4ZM1122.1 83.7L1132.3 81.1L1134.9 91.4L1124.7 94.0ZM1124.9 95.4L1135.5 94.2L1136.6 104.8L1126.1 105.9ZM1138.9 111.9L1149.5 112.7L1148.7 123.2L1138.2 122.5ZM1137.9 124.0L1148.3 126.1L1146.3 136.5L1135.9 134.4ZM1119.6 168.7L1127.8 175.4L1121.1 183.6L1112.9 176.9ZM1111.8 178.0L1119.1 185.7L1111.4 193.0L1104.1 185.3ZM1102.9 186.4L1109.2 194.9L1100.7 201.2L1094.4 192.6ZM1093.1 193.5L1098.3 202.7L1089.0 207.9L1083.8 198.7ZM1082.4 199.4L1086.4 209.2L1076.6 213.2L1072.6 203.4ZM1071.1 203.9L1073.9 214.2L1063.7 216.9L1060.9 206.7ZM1059.3 207.0L1060.8 217.5L1050.3 219.0L1048.8 208.5ZM1047.2 208.7L1047.5 219.3L1036.9 219.5L1036.6 208.9ZM1035.1 208.8L1034.0 219.4L1023.4 218.3L1024.5 207.7ZM1023.0 207.5L1020.6 217.8L1010.2 215.4L1012.6 205.1ZM1011.1 204.6L1007.5 214.6L997.5 211.0L1001.2 201.0ZM999.7 200.4L994.9 209.8L985.4 205.0L990.3 195.5ZM988.9 194.7L982.9 203.5L974.2 197.5L980.1 188.8ZM978.9 187.8L971.9 195.8L963.9 188.8L970.9 180.8ZM969.8 179.7L961.9 186.8L954.8 178.8L962.7 171.8ZM961.7 170.5L953.0 176.6L947.0 167.9L955.7 161.8ZM954.9 160.5L945.5 165.4L940.6 156.0L950.0 151.1ZM949.3 149.6L939.4 153.3L935.7 143.4L945.6 139.7ZM945.2 138.2L934.9 140.7L932.4 130.4L942.7 127.9ZM946.3 78.2L936.5 74.3L940.4 64.4L950.2 68.4ZM950.9 66.9L941.6 61.8L946.8 52.5L956.0 57.7ZM956.9 56.3L948.3 50.1L954.5 41.5L963.1 47.7ZM964.1 46.5L956.4 39.3L963.6 31.5L971.3 38.8ZM972.5 37.7L965.7 29.5L973.8 22.7L980.6 30.9ZM1096.2 28.6L1102.7 20.2L1111.1 26.7L1104.6 35.1ZM1105.8 36.1L1113.3 28.6L1120.8 36.0L1113.3 43.6ZM1114.4 44.8L1122.7 38.2L1129.3 46.5L1120.9 53.1ZM1121.8 54.4L1130.9 48.9L1136.4 58.0L1127.3 63.5ZM1128.0 64.9L1137.7 60.5L1142.0 70.2L1132.4 74.5ZM1132.9 76.0L1143.1 72.9L1146.2 83.1L1136.0 86.2ZM1136.4 87.7L1146.8 85.9L1148.7 96.3L1138.2 98.1ZM1138.4 99.7L1149.0 99.2L1149.5 109.8L1138.9 110.3ZM1105.9 200.2L1111.7 209.1L1102.9 214.9L1097.0 206.1ZM1095.5 206.9L1100.4 216.4L1090.9 221.2L1086.1 211.8ZM1084.5 212.5L1088.3 222.4L1078.4 226.1L1074.6 216.2ZM1073.0 216.7L1075.7 227.0L1065.4 229.7L1062.7 219.4ZM1061.1 219.7L1062.6 230.2L1052.1 231.7L1050.6 221.2ZM1048.9 221.4L1049.2 232.0L1038.6 232.3L1038.3 221.7ZM1036.6 221.7L1035.7 232.2L1025.2 231.4L1026.0 220.8ZM1024.3 220.6L1022.3 231.0L1011.9 229.0L1013.9 218.6ZM1012.2 218.2L1009.1 228.3L999.0 225.2L1002.1 215.1ZM1000.5 214.5L996.3 224.2L986.5 220.0L990.8 210.3ZM989.2 209.5L984.0 218.7L974.8 213.5L980.0 204.3ZM978.6 203.3L972.3 211.9L963.8 205.7L970.0 197.1ZM968.7 196.0L961.5 203.8L953.7 196.7L960.9 188.9ZM959.7 187.6L951.7 194.6L944.7 186.7L952.7 179.7ZM951.6 178.3L942.9 184.4L936.8 175.7L945.5 169.7ZM944.6 168.2L935.3 173.3L930.2 164.0L939.5 158.9ZM952.1 41.1L944.0 34.2L951.0 26.1L959.0 33.1ZM1115.9 28.0L1123.5 20.6L1130.9 28.2L1123.4 35.6ZM1124.5 36.9L1132.8 30.4L1139.4 38.7L1131.0 45.2ZM1132.0 46.6L1141.0 41.0L1146.6 50.1L1137.6 55.6ZM1138.4 57.1L1148.0 52.6L1152.6 62.1L1143.0 66.7ZM1143.6 68.3L1153.7 64.8L1157.1 74.8L1147.1 78.3ZM1147.6 79.9L1157.9 77.6L1160.3 87.9L1150.0 90.3ZM1150.3 92.0L1160.8 90.8L1162.0 101.3L1151.5 102.5ZM1099.8 219.2L1104.5 228.7L1095.0 233.4L1090.3 223.9ZM1088.8 224.5L1092.6 234.5L1082.6 238.2L1078.9 228.3ZM1077.4 228.8L1080.1 239.0L1069.9 241.8L1067.1 231.5ZM1065.5 231.9L1067.3 242.3L1056.8 244.1L1055.1 233.6ZM1053.5 233.8L1054.2 244.4L1043.6 245.1L1042.9 234.5ZM1041.3 234.5L1040.9 245.1L1030.3 244.8L1030.7 234.2ZM1029.1 234.0L1027.7 244.5L1017.2 243.2L1018.5 232.7ZM1017.0 232.4L1014.5 242.7L1004.2 240.3L1006.6 230.0ZM1005.1 229.5L1001.7 239.6L991.6 236.1L995.0 226.1ZM993.5 225.5L989.2 235.2L979.5 230.8L983.9 221.1ZM982.4 220.4L977.1 229.6L967.9 224.3L973.2 215.1ZM971.9 214.2L965.7 222.8L957.1 216.7L963.3 208.1ZM962.0 207.0L955.0 215.0L947.0 208.0L954.0 200.1ZM952.9 198.9L945.1 206.2L937.9 198.5L945.6 191.2ZM944.6 190.0L936.2 196.4L929.7 188.0L938.1 181.6ZM1135.4 30.0L1143.8 23.6L1150.3 32.0L1141.9 38.4ZM1142.8 39.8L1151.8 34.2L1157.4 43.2L1148.4 48.8ZM1149.2 50.2L1158.7 45.5L1163.4 55.0L1153.9 59.7ZM1154.5 61.2L1164.5 57.4L1168.2 67.4L1158.3 71.1ZM1158.8 72.6L1169.0 69.9L1171.8 80.1L1161.5 82.9ZM983.0 234.9L978.2 244.4L968.8 239.6L973.5 230.1ZM972.0 229.3L966.4 238.3L957.4 232.7L963.0 223.7ZM961.6 222.7L955.2 231.2L946.8 224.8L953.1 216.3ZM951.8 215.2L944.7 223.1L936.8 216.0L944.0 208.1ZM942.7 206.9L934.9 214.1L927.8 206.3L935.6 199.1ZM1153.0 32.0L1162.0 26.3L1167.6 35.3L1158.7 41.0ZM1159.5 42.5L1169.0 37.6L1173.8 47.0L1164.4 51.9ZM1165.1 53.4L1174.9 49.4L1178.9 59.3L1169.1 63.3ZM961.7 238.0L955.8 246.9L947.0 241.0L952.8 232.2ZM951.3 231.1L944.8 239.4L936.5 232.9L943.0 224.6ZM941.6 223.4L934.4 231.1L926.7 223.9L933.9 216.2ZM1169.8 34.7L1179.2 29.7L1184.2 39.1L1174.8 44.0ZM934.9 234.5L927.8 242.4L920.0 235.3L927.1 227.4ZM1180.6 27.8L1189.9 22.7L1195.0 32.0L1185.7 37.1ZM1690.0 190.0m-7 0a7 7 0 1 0 14 0a7 7 0 1 0 -14 0M1699.2 184.7L1709.8 184.7L1709.8 195.3L1699.2 195.3ZM1700.3 192.8L1707.7 200.3L1700.3 207.7L1692.8 200.3ZM1695.3 199.2L1695.3 209.8L1684.7 209.8L1684.7 199.2ZM1687.2 200.3L1679.7 207.7L1672.3 200.3L1679.7 192.8ZM1680.8 195.3L1670.2 195.3L1670.2 184.7L1680.8 184.7ZM1679.7 187.2L1672.3 179.7L1679.7 172.3L1687.2 179.7ZM1684.7 180.8L1684.7 170.2L1695.3 170.2L1695.3 180.8ZM1692.8 179.7L1700.3 172.3L1707.7 179.7L1700.3 187.2ZM1703.9 207.9L1708.3 217.5L1698.6 221.9L1694.2 212.2ZM1694.0 212.3L1693.4 222.9L1682.8 222.2L1683.4 211.7ZM1683.2 211.6L1677.7 220.7L1668.7 215.2L1674.1 206.1ZM1674.0 206.0L1664.9 211.5L1659.4 202.4L1668.4 196.9ZM1668.4 196.7L1657.8 197.3L1657.1 186.8L1667.7 186.1ZM1667.8 185.9L1658.1 181.5L1662.4 171.9L1672.1 176.2ZM1672.2 176.0L1665.7 167.7L1674.0 161.1L1680.6 169.4ZM1680.8 169.3L1678.8 158.9L1689.3 157.0L1691.2 167.4ZM1691.4 167.4L1694.6 157.3L1704.7 160.4L1701.6 170.5ZM1708.3 220.1L1712.4 229.8L1702.6 233.9L1698.5 224.2ZM1698.1 224.3L1699.0 234.8L1688.4 235.7L1687.6 225.1ZM1687.1 225.1L1684.7 235.4L1674.4 233.0L1676.8 222.6ZM1676.4 222.5L1670.9 231.5L1661.9 226.0L1667.4 217.0ZM1667.1 216.7L1659.0 223.6L1652.1 215.6L1660.2 208.7ZM1659.9 208.3L1650.2 212.4L1646.1 202.6L1655.8 198.5ZM1655.7 198.1L1645.2 199.0L1644.3 188.4L1654.9 187.6ZM1654.9 187.1L1644.6 184.7L1647.0 174.4L1657.4 176.8ZM1657.5 176.4L1648.5 170.9L1654.0 161.9L1663.0 167.4ZM1663.3 167.1L1656.4 159.0L1664.4 152.1L1671.3 160.2ZM1671.7 159.9L1667.6 150.2L1677.4 146.1L1681.5 155.8ZM1681.9 155.7L1681.0 145.2L1691.6 144.3L1692.4 154.9ZM1692.9 154.9L1695.3 144.6L1705.6 147.0L1703.2 157.4ZM1699.8 236.9L1700.8 247.4L1690.2 248.4L1689.2 237.9ZM1688.3 237.9L1686.7 248.3L1676.2 246.8L1677.8 236.3ZM1676.8 236.1L1672.8 245.9L1663.0 241.8L1667.0 232.0ZM1666.2 231.6L1660.0 240.1L1651.4 233.9L1657.6 225.3ZM1657.0 224.7L1648.8 231.5L1642.0 223.4L1650.1 216.5ZM1649.6 215.7L1640.1 220.4L1635.4 210.9L1644.9 206.2ZM1644.6 205.3L1634.3 207.6L1632.0 197.2L1642.4 195.0ZM1642.3 194.0L1631.7 193.8L1632.0 183.2L1642.6 183.4ZM1642.7 182.5L1632.5 179.7L1635.3 169.5L1645.5 172.3ZM1645.9 171.4L1636.6 166.2L1641.8 157.0L1651.0 162.1ZM1651.6 161.4L1643.9 154.1L1651.1 146.4L1658.8 153.6ZM1659.6 153.0L1653.8 144.1L1662.7 138.3L1668.5 147.2ZM1669.3 146.8L1665.8 136.8L1675.8 133.3L1679.3 143.3ZM1680.2 143.1L1679.2 132.6L1689.8 131.6L1690.8 142.1ZM1691.7 142.1L1693.3 131.7L1703.8 133.2L1702.2 143.7ZM1656.0 240.2L1649.3 248.4L1641.1 241.7L1647.8 233.5ZM1646.8 232.6L1638.7 239.3L1631.9 231.2L1640.1 224.4ZM1639.4 223.3L1630.0 228.4L1625.0 219.1L1634.3 214.0ZM1633.8 212.8L1623.7 215.9L1620.6 205.8L1630.7 202.7ZM1630.5 201.4L1619.9 202.5L1618.8 192.0L1629.4 190.9ZM1629.4 189.6L1618.8 188.6L1619.8 178.0L1630.4 179.0ZM1630.6 177.8L1620.5 174.7L1623.5 164.6L1633.7 167.6ZM1634.1 166.4L1624.8 161.5L1629.7 152.1L1639.1 157.1ZM1639.8 156.0L1631.6 149.3L1638.3 141.1L1646.5 147.8ZM1647.4 146.8L1640.7 138.7L1648.8 131.9L1655.6 140.1ZM1656.7 139.4L1651.6 130.0L1660.9 125.0L1666.0 134.3ZM1667.2 133.8L1664.1 123.7L1674.2 120.6L1677.3 130.7ZM1678.6 130.5L1677.5 119.9L1688.0 118.8L1689.1 129.4ZM1690.4 129.4L1691.4 118.8L1702.0 119.8L1701.0 130.4ZM1632.0 235.0L1623.2 240.9L1617.3 232.1L1626.2 226.2ZM1625.6 225.1L1615.9 229.5L1611.5 219.9L1621.2 215.5ZM1620.8 214.3L1610.5 217.1L1607.8 206.9L1618.0 204.1ZM1617.8 202.9L1607.2 204.0L1606.1 193.5L1616.6 192.4ZM1616.6 191.2L1606.0 190.6L1606.6 180.0L1617.2 180.6ZM1617.4 179.4L1607.0 177.1L1609.3 166.7L1619.7 169.0ZM1620.0 167.9L1610.2 164.0L1614.1 154.1L1623.9 158.0ZM1624.5 156.9L1615.4 151.5L1620.8 142.4L1629.9 147.8ZM1630.6 146.8L1622.5 140.0L1629.4 131.9L1637.5 138.7ZM1638.3 137.9L1631.4 129.8L1639.5 122.9L1646.4 131.0ZM1647.4 130.3L1641.8 121.2L1650.9 115.7L1656.4 124.7ZM1657.5 124.2L1653.5 114.4L1663.3 110.4L1667.3 120.2ZM1668.5 119.8L1666.1 109.5L1676.4 107.1L1678.8 117.5ZM1680.0 117.3L1679.3 106.7L1689.9 106.0L1690.6 116.6ZM1691.8 116.6L1692.8 106.1L1703.4 107.1L1702.3 117.7ZM1615.2 232.8L1605.7 237.5L1601.0 228.0L1610.5 223.3ZM1610.0 222.0L1599.9 225.3L1596.6 215.2L1606.7 211.9ZM1606.3 210.5L1595.9 212.4L1594.0 202.0L1604.4 200.1ZM1604.3 198.7L1593.7 199.1L1593.3 188.5L1603.9 188.1ZM1603.9 186.6L1593.4 185.6L1594.4 175.0L1605.0 176.1ZM1605.2 174.7L1594.9 172.2L1597.4 161.9L1607.7 164.4ZM1608.2 163.0L1598.3 159.1L1602.2 149.3L1612.1 153.2ZM1612.7 151.9L1603.5 146.7L1608.8 137.4L1618.0 142.7ZM1618.8 141.5L1610.4 135.0L1616.9 126.7L1625.3 133.1ZM1626.2 132.1L1618.8 124.5L1626.4 117.1L1633.8 124.7ZM1634.9 123.8L1628.6 115.2L1637.2 109.0L1643.4 117.5ZM1644.6 116.7L1639.6 107.4L1649.0 102.4L1654.0 111.7ZM1655.3 111.1L1651.6 101.2L1661.6 97.5L1665.2 107.5ZM1666.6 107.1L1664.3 96.7L1674.7 94.5L1676.9 104.8ZM1678.4 104.6L1677.6 94.1L1688.1 93.3L1688.9 103.8ZM1690.4 103.8L1691.0 93.3L1701.6 94.0L1700.9 104.5ZM1604.9 240.5L1595.5 245.4L1590.6 236.0L1600.0 231.1ZM1599.3 229.6L1589.4 233.3L1585.7 223.4L1595.6 219.7ZM1595.2 218.2L1584.9 220.7L1582.4 210.4L1592.7 207.9ZM1592.4 206.3L1581.9 207.5L1580.7 197.0L1591.2 195.8ZM1591.1 194.2L1580.5 194.1L1580.7 183.5L1591.3 183.6ZM1591.4 182.0L1580.9 180.6L1582.3 170.1L1592.8 171.5ZM1593.1 170.0L1582.9 167.3L1585.6 157.0L1595.8 159.7ZM1596.3 158.2L1586.5 154.3L1590.4 144.4L1600.2 148.4ZM1600.9 146.9L1591.6 141.8L1596.8 132.5L1606.0 137.7ZM1606.9 136.3L1598.3 130.1L1604.5 121.5L1613.1 127.7ZM1614.1 126.5L1606.4 119.3L1613.6 111.5L1621.3 118.8ZM1622.5 117.7L1615.7 109.5L1623.8 102.7L1630.6 110.9ZM1631.9 109.9L1626.1 101.0L1635.0 95.3L1640.8 104.2ZM1642.2 103.4L1637.6 93.8L1647.1 89.2L1651.7 98.8ZM1653.2 98.2L1649.8 88.1L1659.8 84.7L1663.2 94.8ZM1664.7 94.3L1662.6 84.0L1673.0 81.8L1675.1 92.2ZM1676.7 92.0L1675.8 81.4L1686.4 80.5L1687.3 91.1ZM1688.8 91.1L1689.3 80.5L1699.9 80.9L1699.4 91.5ZM1588.8 237.4L1579.0 241.4L1575.0 231.6L1584.8 227.6ZM1584.2 225.9L1574.0 228.9L1571.1 218.7L1581.3 215.7ZM1580.9 214.1L1570.5 215.9L1568.7 205.4L1579.1 203.6ZM1578.9 201.9L1568.3 202.6L1567.7 192.0L1578.3 191.3ZM1578.3 189.6L1567.7 189.1L1568.2 178.5L1578.8 179.1ZM1579.0 177.3L1568.5 175.6L1570.2 165.2L1580.7 166.9ZM1581.1 165.2L1570.8 162.4L1573.7 152.2L1583.9 155.0ZM1584.4 153.4L1574.6 149.4L1578.6 139.6L1588.4 143.5ZM1589.1 142.0L1579.8 137.0L1584.8 127.6L1594.1 132.6ZM1595.0 131.2L1586.3 125.2L1592.3 116.4L1601.0 122.4ZM1602.1 121.1L1594.0 114.2L1601.0 106.1L1609.0 113.1ZM1610.2 111.8L1603.0 104.1L1610.7 96.9L1617.9 104.6ZM1619.3 103.5L1612.9 95.0L1621.5 88.7L1627.8 97.2ZM1629.2 96.3L1623.9 87.1L1633.0 81.8L1638.4 90.9ZM1639.9 90.1L1635.6 80.5L1645.3 76.2L1649.6 85.8ZM1651.2 85.2L1648.0 75.1L1658.1 71.9L1661.3 82.0ZM1662.9 81.6L1660.8 71.2L1671.2 69.1L1673.3 79.5ZM1675.0 79.3L1674.1 68.7L1684.7 67.8L1685.6 78.4ZM1687.3 78.3L1687.5 67.7L1698.1 68.0L1697.9 78.6ZM1699.6 78.7L1701.0 68.2L1711.5 69.6L1710.1 80.1ZM1575.5 238.8L1565.5 242.6L1561.8 232.6L1571.7 228.9ZM1571.2 227.4L1561.0 230.1L1558.2 219.9L1568.5 217.1ZM1568.1 215.5L1557.7 217.3L1555.9 206.8L1566.4 205.1ZM1566.2 203.5L1555.6 204.2L1554.9 193.6L1565.5 192.9ZM1565.5 191.3L1554.9 190.9L1555.2 180.3L1565.8 180.7ZM1566.0 179.1L1555.5 177.7L1556.8 167.2L1567.3 168.5ZM1567.6 167.0L1557.3 164.5L1559.7 154.2L1570.0 156.6ZM1570.5 155.1L1560.4 151.7L1563.9 141.6L1573.9 145.0ZM1574.5 143.5L1564.8 139.2L1569.2 129.5L1578.9 133.9ZM1579.6 132.4L1570.4 127.1L1575.7 117.9L1584.9 123.2ZM1585.8 121.9L1577.2 115.7L1583.3 107.1L1591.9 113.3ZM1593.0 112.0L1585.0 105.0L1592.0 97.0L1599.9 104.0ZM1601.1 102.9L1593.8 95.1L1601.5 87.9L1608.8 95.6ZM1610.0 94.6L1603.6 86.2L1612.0 79.7L1618.4 88.1ZM1619.8 87.2L1614.2 78.2L1623.2 72.6L1628.8 81.6ZM1630.2 80.8L1625.5 71.3L1635.0 66.6L1639.7 76.1ZM1641.2 75.5L1637.4 65.5L1647.4 61.8L1651.1 71.7ZM1652.6 71.2L1649.9 61.0L1660.1 58.2L1662.9 68.5ZM1664.5 68.1L1662.7 57.7L1673.2 55.9L1674.9 66.4ZM1676.5 66.2L1675.8 55.6L1686.4 54.9L1687.1 65.5ZM1688.7 65.5L1689.1 54.9L1699.7 55.2L1699.3 65.8ZM1560.3 235.1L1550.2 238.2L1547.1 228.1L1557.2 225.0ZM1556.8 223.3L1546.4 225.5L1544.3 215.1L1554.6 212.9ZM1554.4 211.2L1543.8 212.5L1542.6 201.9L1553.1 200.7ZM1553.0 199.0L1542.4 199.3L1542.1 188.7L1552.7 188.4ZM1552.7 186.7L1542.2 186.0L1542.8 175.4L1553.4 176.1ZM1553.6 174.4L1543.1 172.8L1544.7 162.3L1555.2 163.9ZM1607.0 80.6L1600.9 71.9L1609.6 65.8L1615.7 74.5ZM1617.2 73.6L1611.9 64.4L1621.1 59.1L1626.4 68.3ZM1627.9 67.6L1623.5 57.9L1633.1 53.5L1637.5 63.1ZM1639.1 62.5L1635.6 52.5L1645.6 48.9L1649.1 58.9ZM1650.7 58.4L1648.1 48.2L1658.4 45.5L1661.0 55.8ZM1662.7 55.4L1661.0 45.0L1671.5 43.3L1673.2 53.7ZM1674.9 53.5L1674.1 43.0L1684.7 42.2L1685.4 52.8ZM1687.2 52.7L1687.4 42.1L1698.0 42.3L1697.8 52.9ZM1549.5 242.9L1539.5 246.3L1536.1 236.2L1546.2 232.9ZM1545.7 231.1L1535.4 233.7L1532.8 223.4L1543.1 220.8ZM1542.7 219.1L1532.3 220.7L1530.6 210.3L1541.1 208.6ZM1540.9 206.8L1530.3 207.6L1529.5 197.1L1540.0 196.2ZM1614.7 60.2L1609.7 50.8L1619.1 45.8L1624.0 55.2ZM1625.7 54.4L1621.5 44.7L1631.2 40.5L1635.4 50.2ZM1637.1 49.5L1633.7 39.5L1643.8 36.1L1647.1 46.2ZM1532.8 232.5L1522.4 235.0L1520.0 224.7L1530.3 222.2ZM1530.0 220.5L1519.5 222.2L1517.9 211.7L1528.4 210.0ZM1521.7 240.4L1511.4 243.1L1508.7 232.8L1519.0 230.1ZM60.0 330.0m-7 0a7 7 0 1 0 14 0a7 7 0 1 0 -14 0M69.2 324.7L79.8 324.7L79.8 335.3L69.2 335.3ZM62.8 319.7L70.3 312.3L77.7 319.7L70.3 327.2ZM82.6 328.7L93.0 330.6L91.1 341.0L80.7 339.1ZM61.4 307.4L64.6 297.3L74.7 300.4L71.6 310.5ZM71.8 310.7L79.2 303.2L86.8 310.6L79.3 318.1ZM79.4 318.3L89.5 315.2L92.7 325.3L82.6 328.5ZM95.1 332.9L105.4 335.3L103.0 345.6L92.6 343.2ZM62.9 294.9L65.3 284.6L75.6 287.0L73.2 297.4ZM73.6 297.5L79.1 288.5L88.1 294.0L82.6 303.0ZM82.9 303.3L91.0 296.4L97.9 304.4L89.8 311.3ZM90.1 311.7L99.8 307.6L103.9 317.4L94.2 321.5ZM94.3 321.9L104.8 321.0L105.7 331.6L95.1 332.4ZM107.7 326.0L118.3 326.2L118.0 336.8L107.4 336.6ZM107.3 337.5L117.5 340.3L114.7 350.5L104.5 347.7ZM61.7 282.1L63.3 271.7L73.8 273.2L72.2 283.7ZM73.2 283.9L77.2 274.1L87.0 278.2L83.0 288.0ZM83.8 288.4L90.0 279.9L98.6 286.1L92.4 294.7ZM93.0 295.3L101.2 288.5L108.0 296.6L99.9 303.5ZM100.4 304.3L109.9 299.6L114.6 309.1L105.1 313.8ZM105.4 314.7L115.7 312.4L118.0 322.8L107.6 325.0ZM120.6 330.4L131.2 331.4L130.2 342.0L119.6 341.0ZM119.4 342.2L129.5 345.3L126.5 355.4L116.3 352.4ZM48.6 270.5L47.5 259.9L58.0 258.8L59.1 269.4ZM60.4 269.4L61.4 258.8L72.0 259.8L71.0 270.4ZM72.2 270.6L75.3 260.5L85.4 263.5L82.4 273.7ZM83.6 274.1L88.5 264.8L97.9 269.7L92.9 279.1ZM94.0 279.8L100.7 271.6L108.9 278.3L102.2 286.5ZM103.2 287.4L111.3 280.7L118.1 288.8L109.9 295.6ZM110.6 296.7L120.0 291.6L125.0 300.9L115.7 306.0ZM116.2 307.2L126.3 304.1L129.4 314.2L119.3 317.3ZM119.5 318.6L130.1 317.5L131.2 328.0L120.6 329.1ZM133.2 334.7L143.7 336.2L142.3 346.7L131.8 345.2ZM131.5 346.4L141.7 349.5L138.5 359.7L128.4 356.6ZM128.0 357.7L137.5 362.4L132.8 371.9L123.3 367.2ZM50.0 257.3L49.3 246.7L59.9 246.0L60.6 256.6ZM61.8 256.6L62.8 246.1L73.4 247.1L72.3 257.7ZM73.5 257.9L76.2 247.6L86.5 250.3L83.8 260.6ZM84.9 261.0L89.2 251.3L98.9 255.6L94.6 265.3ZM95.7 265.9L101.5 257.0L110.4 262.8L104.5 271.7ZM105.5 272.4L112.7 264.6L120.5 271.8L113.3 279.6ZM114.2 280.5L122.5 273.9L129.0 282.2L120.7 288.8ZM121.4 289.8L130.7 284.6L135.8 293.9L126.6 299.1ZM127.1 300.2L137.0 296.6L140.6 306.5L130.7 310.1ZM131.0 311.3L141.4 309.4L143.3 319.8L132.9 321.7ZM133.1 322.9L143.6 322.7L143.9 333.3L133.3 333.5ZM146.1 327.3L156.7 327.7L156.4 338.3L145.8 337.9ZM145.7 339.4L156.1 341.2L154.3 351.6L143.9 349.8ZM143.5 351.2L153.6 354.4L150.4 364.5L140.3 361.3ZM139.8 362.6L149.3 367.2L144.7 376.8L135.2 372.1ZM48.4 244.6L47.6 234.1L58.1 233.3L58.9 243.8ZM60.4 243.8L61.0 233.3L71.6 234.0L70.9 244.5ZM72.3 244.7L74.5 234.3L84.9 236.5L82.7 246.9ZM84.1 247.3L87.7 237.3L97.6 240.9L94.1 250.9ZM95.4 251.4L100.3 242.0L109.7 247.0L104.7 256.4ZM106.0 257.1L112.2 248.5L120.8 254.7L114.6 263.3ZM115.7 264.2L123.0 256.6L130.6 263.9L123.3 271.6ZM124.3 272.6L132.6 266.0L139.2 274.4L130.8 280.9ZM131.6 282.1L140.8 276.8L146.1 285.9L137.0 291.3ZM137.6 292.5L147.4 288.5L151.4 298.3L141.6 302.4ZM142.1 303.7L152.3 301.1L154.9 311.4L144.7 314.0ZM144.9 315.4L155.5 314.2L156.6 324.8L146.1 325.9ZM158.9 331.9L169.5 332.7L168.7 343.2L158.2 342.5ZM157.9 344.0L168.3 346.1L166.3 356.5L155.9 354.4ZM155.5 356.0L165.5 359.3L162.2 369.4L152.2 366.0ZM151.6 367.5L161.1 372.0L156.6 381.6L147.0 377.1ZM46.7 232.0L45.8 221.4L56.4 220.5L57.3 231.1ZM58.8 231.1L59.3 220.5L69.9 220.9L69.4 231.5ZM71.0 231.7L72.8 221.2L83.2 223.0L81.5 233.4ZM83.0 233.8L86.0 223.6L96.2 226.6L93.2 236.8ZM94.7 237.3L98.9 227.6L108.6 231.9L104.4 241.6ZM105.8 242.3L111.2 233.2L120.3 238.6L114.9 247.7ZM116.2 248.6L122.7 240.2L131.1 246.7L124.6 255.1ZM125.8 256.1L133.3 248.6L140.8 256.0L133.3 263.6ZM134.4 264.8L142.7 258.2L149.3 266.5L140.9 273.1ZM141.8 274.4L150.9 268.9L156.4 278.0L147.3 283.5ZM148.0 284.9L157.7 280.5L162.0 290.2L152.4 294.5ZM152.9 296.0L163.1 292.9L166.2 303.1L156.0 306.2ZM156.4 307.7L166.8 305.9L168.7 316.3L158.2 318.1ZM158.4 319.7L169.0 319.2L169.5 329.8L158.9 330.3ZM171.5 336.5L182.1 337.6L181.0 348.2L170.4 347.1ZM170.1 348.7L180.5 351.0L178.2 361.4L167.9 359.1ZM167.4 360.8L177.5 364.1L174.1 374.2L164.0 370.8ZM45.0 219.3L44.1 208.7L54.7 207.8L55.6 218.4ZM57.3 218.3L57.5 207.7L68.1 208.0L67.9 218.6ZM69.6 218.7L71.0 208.2L81.5 209.6L80.1 220.1ZM81.8 220.4L84.3 210.1L94.6 212.7L92.1 223.0ZM93.7 223.5L97.4 213.5L107.3 217.2L103.6 227.2ZM105.2 227.8L110.0 218.4L119.4 223.1L114.7 232.6ZM116.2 233.4L121.9 224.5L130.8 230.3L125.1 239.2ZM126.5 240.2L133.2 232.0L141.4 238.7L134.7 246.9ZM135.9 248.0L143.5 240.6L150.9 248.2L143.4 255.6ZM144.5 256.9L152.8 250.4L159.4 258.7L151.0 265.2ZM152.0 266.6L161.0 261.0L166.6 270.1L157.6 275.6ZM158.4 277.1L168.0 272.6L172.6 282.1L163.0 286.7ZM163.6 288.3L173.7 284.8L177.1 294.8L167.1 298.3ZM167.6 299.9L177.9 297.6L180.3 307.9L170.0 310.3ZM170.3 312.0L180.8 310.8L182.0 321.3L171.5 322.5ZM171.6 324.2L182.2 324.2L182.2 334.8L171.6 334.8ZM184.5 328.7L195.1 329.1L194.8 339.7L184.2 339.3ZM184.0 340.9L194.5 342.3L193.2 352.8L182.7 351.5ZM182.4 353.0L192.7 355.5L190.3 365.8L180.0 363.4ZM179.5 364.9L189.6 368.3L186.1 378.4L176.1 375.0ZM46.5 206.2L45.8 195.6L56.4 194.9L57.1 205.5ZM58.7 205.5L59.1 194.9L69.7 195.2L69.3 205.8ZM70.9 206.0L72.3 195.5L82.8 196.8L81.5 207.3ZM83.0 207.6L85.5 197.3L95.8 199.7L93.4 210.0ZM94.9 210.5L98.3 200.4L108.4 203.9L105.0 213.9ZM106.5 214.5L110.8 204.8L120.5 209.2L116.1 218.9ZM117.6 219.6L122.9 210.4L132.1 215.7L126.8 224.9ZM128.1 225.8L134.3 217.2L142.9 223.3L136.7 231.9ZM138.0 233.0L145.0 225.0L153.0 232.0L146.0 239.9ZM147.1 241.1L154.9 233.8L162.1 241.5L154.4 248.8ZM155.4 250.0L163.8 243.6L170.3 252.0L161.9 258.4ZM162.8 259.8L171.8 254.2L177.4 263.2L168.4 268.8ZM169.2 270.2L178.7 265.5L183.4 275.0L173.9 279.7ZM174.5 281.2L184.5 277.4L188.2 287.4L178.3 291.1ZM178.8 292.6L189.0 289.9L191.8 300.1L181.5 302.9ZM181.9 304.5L192.3 302.7L194.1 313.2L183.6 314.9ZM183.8 316.5L194.4 315.8L195.1 326.4L184.5 327.1ZM197.3 333.3L207.8 334.0L207.2 344.6L196.6 343.9ZM196.4 345.6L206.9 347.2L205.3 357.7L194.8 356.1ZM194.5 357.8L204.8 360.3L202.2 370.6L191.9 368.1ZM44.9 193.5L44.1 183.0L54.7 182.2L55.4 192.8ZM57.2 192.7L57.4 182.1L68.0 182.3L67.8 192.9ZM69.5 193.0L70.6 182.5L81.2 183.6L80.0 194.2ZM81.7 194.4L83.8 184.0L94.2 186.1L92.1 196.5ZM93.8 196.9L96.8 186.8L107.0 189.8L104.0 199.9ZM173.0 252.0L182.0 246.3L187.6 255.3L178.7 261.0ZM179.5 262.5L189.0 257.6L193.8 267.0L184.4 271.9ZM185.1 273.4L194.9 269.4L198.9 279.3L189.1 283.3ZM189.7 284.9L199.8 281.8L202.9 291.9L192.8 295.0ZM193.2 296.7L203.6 294.5L205.7 304.9L195.4 307.1ZM195.6 308.8L206.2 307.5L207.4 318.1L196.9 319.3ZM197.0 321.0L207.6 320.7L207.9 331.3L197.3 331.6ZM55.6 180.0L55.6 169.4L66.2 169.4L66.2 180.0ZM68.0 180.1L68.9 169.6L79.5 170.5L78.5 181.1ZM195.6 265.7L205.3 261.5L209.5 271.2L199.8 275.4ZM200.5 277.1L210.5 273.7L213.9 283.8L203.8 287.1ZM204.3 288.9L214.6 286.3L217.2 296.6L206.9 299.2ZM207.3 300.9L217.7 299.3L219.4 309.7L208.9 311.4ZM57.0 167.1L57.2 156.5L67.8 156.7L67.6 167.3Z" fill="none" stroke="#bdbdbd" stroke-width="0.85" stroke-linejoin="round"/></g>
<polyline points="1700,241 1617,234 764,234 764,369 149,369 77,332 61,273 45,214 72,117 196,42 279,26 477,21 675,32 1375,32 1550,39 1700,51" fill="none" stroke="#222" stroke-width="1.1"/>

<polyline points="0,141 232,9.5 245,0" fill="none" stroke="#222" stroke-width="1.2"/>
<line x1="232" y1="9.5" x2="1700" y2="9.5" stroke="#222" stroke-width="1.2"/>
<g transform="translate(25.6,72.4) rotate(-30)" fill="none" stroke="#d9d9d9" stroke-width="1.2"><path transform="translate(0.0,0)" d="M0 -52 L30 -52 L6 0"/><path transform="translate(50.6,0)" d="M15 -52 A12 13 0 1 0 15 -26 A12 13 0 1 0 15 -52 M15 -26 A15 13 0 1 0 15 0 A15 13 0 1 0 15 -26"/><path transform="translate(101.2,0)" d="M28 -52 L7 -52 L4 -27 Q10 -34 17 -34 Q29 -33 29 -17 Q29 0 15 0 Q6 0 2 -6"/></g>
<g transform="translate(1526.6,973.4) rotate(-30)" fill="none" stroke="#d9d9d9" stroke-width="1.2"><path transform="translate(0.0,0)" d="M5 -42 L18 -53 L18 0"/><path transform="translate(50.6,0)" d="M29 -37 A14 16 0 1 0 29 -36 M29 -37 Q30 -6 17 -1 Q9 2 3 -5"/><path transform="translate(101.2,0)" d="M28 -52 L7 -52 L4 -27 Q10 -34 17 -34 Q29 -33 29 -17 Q29 0 15 0 Q6 0 2 -6"/><path transform="translate(151.8,0)" d="M15 -52 A14 26 0 1 0 15 0 A14 26 0 1 0 15 -52"/><path transform="translate(202.4,0)" d="M15 -52 A12 13 0 1 0 15 -26 A12 13 0 1 0 15 -52 M15 -26 A15 13 0 1 0 15 0 A15 13 0 1 0 15 -26"/></g>
<path d="M 601.8 369 A 53.2 53.2 0 0 1 705.3 369" fill="none" stroke="#999" stroke-width="0.8"/>
<line x1="617" y1="1092" x2="1700" y2="731" stroke="#333" stroke-width="1" stroke-dasharray="9 6"/>
<line x1="782" y1="1092" x2="1700" y2="787" stroke="#333" stroke-width="1" stroke-dasharray="9 6"/>
<line x1="949" y1="1092" x2="1700" y2="843" stroke="#333" stroke-width="1" stroke-dasharray="9 6"/>
<line x1="1282" y1="1092" x2="1700" y2="954" stroke="#222" stroke-width="1.1"/>
<polyline points="551,430 0,746" fill="none" stroke="#222" stroke-width="1.1" stroke-dasharray="32.3 23.2" stroke-dashoffset="1.4"/>
<polyline points="551,430 687,294 806,176 860.5,122 900,82 920,64 929,46 950,9" fill="none" stroke="#222" stroke-width="1.1" stroke-dasharray="32.3 23.2" stroke-dashoffset="5.9"/>
<polygon points="490,369.5 556,369.5 556,385 532.3,385 532.3,411.5 517.3,411.5 517.3,385 490,385" fill="#8f8f8f" stroke="#2a2a2a" stroke-width="1.25"/>
<rect x="712.5" y="369.5" width="51.5" height="15.5" fill="#8f8f8f" stroke="#2a2a2a" stroke-width="1.25" />
<polygon points="517.5,521.6 595.2,521.6 595.2,535.7 542.5,535.7 542.5,837.4 1170.6,837.4 1170.6,548.7 1445.2,548.7 1445.2,298.6 1459.1,298.6 1459.1,563.4 1184.5,563.4 1184.5,851.2 517.5,851.2" fill="#8f8f8f" stroke="#2a2a2a" stroke-width="1.25"/>
<polygon points="542.5,535.7 595.2,535.7 595.2,549.4 556,549.4 556,823.1 1156.4,823.1 1156.4,535 1431.9,535 1431.9,298.6 1445.2,298.6 1445.2,548.7 1170.6,548.7 1170.6,837.4 542.5,837.4" fill="#8f8f8f" stroke="#2a2a2a" stroke-width="1.25"/>
<polygon points="130,369.5 176,369.5 176,385 150,385 150,823.5 542.5,823.5 542.5,843.5 130,843.5" fill="#8f8f8f" stroke="#2a2a2a" stroke-width="1.25"/>
<rect x="517.5" y="506.5" width="38.5" height="15.1" fill="#8f8f8f" stroke="#2a2a2a" stroke-width="1.25" />
<rect x="712.5" y="506.5" width="51.5" height="15.1" fill="#8f8f8f" stroke="#2a2a2a" stroke-width="1.25" />
<polygon points="764,234 984.5,234 984.5,248 777.7,248 777.7,535.7 698.5,535.7 698.5,521.6 764,521.6" fill="#8f8f8f" stroke="#2a2a2a" stroke-width="1.25"/>
<polygon points="777.7,248 981.8,248 981.8,261.7 791.2,261.7 791.2,535.7 804.7,535.7 804.7,549.4 698.5,549.4 698.5,535.7 777.7,535.7" fill="#8f8f8f" stroke="#2a2a2a" stroke-width="1.25"/>
<rect x="1040.9" y="234" width="73.7" height="13.5" fill="#8f8f8f" stroke="#2a2a2a" stroke-width="1.25" />
<rect x="1199.8" y="234" width="52.2" height="13.5" fill="#8f8f8f" stroke="#2a2a2a" stroke-width="1.25" />
<rect x="1338" y="234" width="58.4" height="13.5" fill="#8f8f8f" stroke="#2a2a2a" stroke-width="1.25" />
<polygon points="1042.3,247.5 1112.5,247.5 1112.5,261.7 1070.6,261.7 1070.6,423.2 1107.5,423.2 1107.5,431.2 1064.2,431.2 1064.2,503 1052.5,503 1052.5,261.7 1042.3,261.7" fill="#8f8f8f" stroke="#2a2a2a" stroke-width="1.25"/>
<rect x="1203" y="247.5" width="46.6" height="14.2" fill="#8f8f8f" stroke="#2a2a2a" stroke-width="1.25" />
<rect x="1340.5" y="247.5" width="53.5" height="14.2" fill="#8f8f8f" stroke="#2a2a2a" stroke-width="1.25" />
<line x1="984.5" y1="234.5" x2="1040.9" y2="234.5" stroke="#2a2a2a" stroke-width="1" />
<line x1="1114.6" y1="234.5" x2="1199.8" y2="234.5" stroke="#2a2a2a" stroke-width="1" />
<line x1="1114.6" y1="261.5" x2="1199.8" y2="261.5" stroke="#2a2a2a" stroke-width="1" />
<rect x="1112.6" y="243.5" width="89.2" height="4.2" fill="#fff" stroke="#2a2a2a" stroke-width="0.9" />
<line x1="1252" y1="234.5" x2="1338" y2="234.5" stroke="#2a2a2a" stroke-width="1" />
<line x1="1252" y1="261.5" x2="1338" y2="261.5" stroke="#2a2a2a" stroke-width="1" />
<rect x="1250" y="243.5" width="90" height="4.2" fill="#fff" stroke="#2a2a2a" stroke-width="0.9" />
<rect x="981.8" y="243.6" width="5.1" height="4.9" fill="#bbb" stroke="#2a2a2a" stroke-width="0.8" />
<rect x="1038.7" y="243.6" width="5.3" height="4.9" fill="#bbb" stroke="#2a2a2a" stroke-width="0.8" />
<rect x="1112" y="243.5" width="5" height="4.5" fill="#bbb" stroke="#2a2a2a" stroke-width="0.7" />
<rect x="1198" y="243.5" width="5" height="4.5" fill="#bbb" stroke="#2a2a2a" stroke-width="0.7" />
<rect x="1250" y="243.5" width="5" height="4.5" fill="#bbb" stroke="#2a2a2a" stroke-width="0.7" />
<rect x="1336" y="243.5" width="5" height="4.5" fill="#bbb" stroke="#2a2a2a" stroke-width="0.7" />
<rect x="1155" y="243.5" width="5" height="4.5" fill="#bbb" stroke="#2a2a2a" stroke-width="0.7" />
<rect x="1292" y="243.5" width="5" height="4.5" fill="#bbb" stroke="#2a2a2a" stroke-width="0.7" />
<line x1="1396.4" y1="234.5" x2="1459.1" y2="234.5" stroke="#2a2a2a" stroke-width="1" />
<line x1="1459.5" y1="234" x2="1459.5" y2="298.6" stroke="#2a2a2a" stroke-width="1" />
<line x1="1394" y1="261.5" x2="1431.9" y2="261.5" stroke="#2a2a2a" stroke-width="1" />
<line x1="1431.5" y1="261.7" x2="1431.5" y2="298.6" stroke="#2a2a2a" stroke-width="1" />
<rect x="1396.4" y="243.4" width="54.1" height="4.3" fill="#fff" stroke="#2a2a2a" stroke-width="0.9" />
<rect x="1446" y="247.7" width="4.8" height="50.9" fill="#fff" stroke="#2a2a2a" stroke-width="0.9" />
<rect x="1441.4" y="243.4" width="9.1" height="8.3" fill="#888" stroke="#2a2a2a" stroke-width="0.8" />
<rect x="1444" y="292" width="7" height="7" fill="#bbb" stroke="#2a2a2a" stroke-width="0.7" />
<rect x="791.2" y="391.7" width="77" height="22.6" fill="#8f8f8f" stroke="#2a2a2a" stroke-width="1.25" />
<rect x="791.6" y="402" width="26.8" height="11" fill="none" stroke="#222" stroke-width="0.8" stroke-dasharray="3 2"/>
<line x1="791.6" y1="402" x2="818.4" y2="413" stroke="#2a2a2a" stroke-width="0.7" />
<line x1="818.4" y1="402" x2="791.6" y2="413" stroke="#2a2a2a" stroke-width="0.7" />
<rect x="868.2" y="391.7" width="106.4" height="115.7" fill="#5f5f5f" stroke="#222" stroke-width="1.2" />
<rect x="880" y="402.8" width="83.5" height="94.1" fill="#fff" stroke="#2a2a2a" stroke-width="1" />
<rect x="963.5" y="416.9" width="11.1" height="65.9" fill="#a6a6a6" stroke="none" stroke-width="1.25" />
<rect x="895.6" y="409.2" width="65.9" height="81.2" fill="none" stroke="#2a2a2a" stroke-width="1.2" />
<rect x="868.2" y="507.4" width="7.3" height="27.8" fill="#8f8f8f" stroke="#2a2a2a" stroke-width="1.25" />
<rect x="967.5" y="507.4" width="7.1" height="27.8" fill="#8f8f8f" stroke="#2a2a2a" stroke-width="1.25" />
<rect x="875.5" y="507.4" width="92" height="27.8" fill="#fff" stroke="#333" stroke-width="0.8" stroke-dasharray="3 2"/>
<line x1="880" y1="509" x2="963" y2="533" stroke="#2a2a2a" stroke-width="0.8" stroke-dasharray="6 4"/>
<line x1="963" y1="509" x2="880" y2="533" stroke="#2a2a2a" stroke-width="0.8" stroke-dasharray="6 4"/>
<rect x="852.7" y="535.2" width="121.9" height="14.8" fill="#8f8f8f" stroke="#2a2a2a" stroke-width="1.25" />
<rect x="914.8" y="549.5" width="8" height="15.2" fill="#8f8f8f" stroke="#2a2a2a" stroke-width="1.25" />
<rect x="914.8" y="612.6" width="8" height="14.3" fill="#8f8f8f" stroke="#2a2a2a" stroke-width="1.25" />
<rect x="914.8" y="638.6" width="8" height="90.9" fill="#8f8f8f" stroke="#2a2a2a" stroke-width="1.25" />
<rect x="914.8" y="777" width="8" height="46.3" fill="#8f8f8f" stroke="#2a2a2a" stroke-width="1.25" />
<polygon points="746.9,626.7 1101,626.7 1101,638.8 759.5,638.8 759.5,697.6 670.7,697.6 670.7,685 746.9,685" fill="#8f8f8f" stroke="#2a2a2a" stroke-width="1.25"/>
<rect x="556" y="685" width="67" height="12.6" fill="#8f8f8f" stroke="#2a2a2a" stroke-width="1.25" />
<rect x="1052.2" y="556.2" width="11.7" height="70.7" fill="#8f8f8f" stroke="#2a2a2a" stroke-width="1.25" />
<rect x="1052.6" y="638.6" width="7.2" height="184.7" fill="#8f8f8f" stroke="#2a2a2a" stroke-width="1.25" />
<rect x="1148.6" y="626.2" width="7.8" height="13.1" fill="#8f8f8f" stroke="#2a2a2a" stroke-width="1.25" />
<rect x="1154.9" y="423" width="47.9" height="8.2" fill="#8f8f8f" stroke="#2a2a2a" stroke-width="1.25" />
<rect x="1195.6" y="423" width="7.2" height="111.8" fill="#8f8f8f" stroke="#2a2a2a" stroke-width="1.25" />
<rect x="1059.8" y="812.6" width="96.6" height="10.5" fill="#8f8f8f" stroke="#2a2a2a" stroke-width="1.25" />
<rect x="1104.5" y="813.5" width="51.5" height="9" fill="none" stroke="#222" stroke-width="0.7" stroke-dasharray="3 2"/>
<line x1="1106" y1="814" x2="1154" y2="822" stroke="#2a2a2a" stroke-width="0.7" />
<line x1="1154" y1="814" x2="1106" y2="822" stroke="#2a2a2a" stroke-width="0.7" />
<rect x="915.5" y="624.5" width="6.6" height="16.5" fill="#8f8f8f"/>
<rect x="1053.2" y="624.5" width="10.1" height="14" fill="#8f8f8f"/>
<rect x="1053.2" y="638" width="6" height="3" fill="#8f8f8f"/>
<rect x="915.5" y="547" width="6.6" height="5.5" fill="#8f8f8f"/>
<rect x="1149.3" y="626.9" width="8" height="11.7" fill="#8f8f8f"/>
<rect x="868.9" y="533" width="5.9" height="4.5" fill="#8f8f8f"/>
<rect x="968.2" y="533" width="5.7" height="4.5" fill="#8f8f8f"/>
<rect x="789.8" y="392.4" width="3" height="21.2" fill="#8f8f8f"/>
<rect x="1195.6" y="531" width="7.2" height="10" fill="#8f8f8f" stroke="none" stroke-width="1.25" />
<rect x="791.2" y="261.2" width="183.3" height="131" fill="#fff" stroke="#111" stroke-width="1.1" />
<line x1="791.2" y1="261.2" x2="974.5" y2="261.2" stroke="#2a2a2a" stroke-width="2.2" />
<line x1="791.2" y1="261.2" x2="791.2" y2="392.2" stroke="#2a2a2a" stroke-width="2.2" />
<line x1="791.2" y1="392" x2="974.5" y2="392" stroke="#2a2a2a" stroke-width="2.2" />
<polyline points="822.6,292.6 974.5,292.6" fill="none" stroke="#222" stroke-width="1"/>
<rect x="822.6" y="292.6" width="151.9" height="67.9" fill="none" stroke="#2a2a2a" stroke-width="1" />
<line x1="853.5" y1="261.2" x2="853.5" y2="271.4" stroke="#2a2a2a" stroke-width="0.9" />
<line x1="853.5" y1="271.4" x2="853.5" y2="323.6" stroke="#2a2a2a" stroke-width="0.9" stroke-dasharray="4 3"/>
<line x1="853.5" y1="327" x2="853.5" y2="392" stroke="#2a2a2a" stroke-width="0.9" stroke-dasharray="4 3"/>
<line x1="869.5" y1="261.2" x2="869.5" y2="271.4" stroke="#2a2a2a" stroke-width="0.9" />
<line x1="869.5" y1="271.4" x2="869.5" y2="323.6" stroke="#2a2a2a" stroke-width="0.9" stroke-dasharray="4 3"/>
<line x1="869.5" y1="327" x2="869.5" y2="392" stroke="#2a2a2a" stroke-width="0.9" stroke-dasharray="4 3"/>
<line x1="884.5" y1="261.2" x2="884.5" y2="271.4" stroke="#2a2a2a" stroke-width="0.9" />
<line x1="884.5" y1="271.4" x2="884.5" y2="323.6" stroke="#2a2a2a" stroke-width="0.9" stroke-dasharray="4 3"/>
<line x1="884.5" y1="327" x2="884.5" y2="392" stroke="#2a2a2a" stroke-width="0.9" stroke-dasharray="4 3"/>
<line x1="899.5" y1="261.2" x2="899.5" y2="271.4" stroke="#2a2a2a" stroke-width="0.9" />
<line x1="899.5" y1="271.4" x2="899.5" y2="323.6" stroke="#2a2a2a" stroke-width="0.9" stroke-dasharray="4 3"/>
<line x1="899.5" y1="327" x2="899.5" y2="392" stroke="#2a2a2a" stroke-width="0.9" stroke-dasharray="4 3"/>
<line x1="914.5" y1="261.2" x2="914.5" y2="271.4" stroke="#2a2a2a" stroke-width="0.9" />
<line x1="914.5" y1="271.4" x2="914.5" y2="323.6" stroke="#2a2a2a" stroke-width="0.9" />
<line x1="914.5" y1="327" x2="914.5" y2="392" stroke="#2a2a2a" stroke-width="0.9" stroke-dasharray="4 3"/>
<line x1="929.5" y1="261.2" x2="929.5" y2="271.4" stroke="#2a2a2a" stroke-width="0.9" />
<line x1="929.5" y1="271.4" x2="929.5" y2="323.6" stroke="#2a2a2a" stroke-width="0.9" />
<line x1="929.5" y1="327" x2="929.5" y2="392" stroke="#2a2a2a" stroke-width="0.9" stroke-dasharray="4 3"/>
<line x1="944.5" y1="261.2" x2="944.5" y2="271.4" stroke="#2a2a2a" stroke-width="0.9" />
<line x1="944.5" y1="271.4" x2="944.5" y2="323.6" stroke="#2a2a2a" stroke-width="0.9" />
<line x1="944.5" y1="327" x2="944.5" y2="392" stroke="#2a2a2a" stroke-width="0.9" stroke-dasharray="4 3"/>
<line x1="959.5" y1="261.2" x2="959.5" y2="271.4" stroke="#2a2a2a" stroke-width="0.9" />
<line x1="959.5" y1="271.4" x2="959.5" y2="323.6" stroke="#2a2a2a" stroke-width="0.9" />
<line x1="959.5" y1="327" x2="959.5" y2="392" stroke="#2a2a2a" stroke-width="0.9" stroke-dasharray="4 3"/>
<line x1="853.6" y1="323.5" x2="974.5" y2="323.5" stroke="#2a2a2a" stroke-width="0.9" stroke-dasharray="5 3"/>
<line x1="930" y1="323.5" x2="974.5" y2="323.5" stroke="#2a2a2a" stroke-width="1" />
<line x1="853.6" y1="327" x2="974.5" y2="327" stroke="#888" stroke-width="2.2" stroke-dasharray="6 3"/>
<line x1="885" y1="261" x2="922.8" y2="323" stroke="#2a2a2a" stroke-width="1" />
<line x1="896.5" y1="261" x2="931" y2="323.6" stroke="#2a2a2a" stroke-width="1" />
<line x1="974.5" y1="261" x2="974.5" y2="392" stroke="#2a2a2a" stroke-width="1" />
<path d="M 791 315 l -4 -7 l 4 3 l 4 -3 z" fill="#111"/>
<path d="M 878 260 l 8 -4 l -3 4 l 3 4 z" fill="#111"/>
<line x1="964" y1="352" x2="974" y2="360.5" stroke="#2a2a2a" stroke-width="0.8" stroke-dasharray="2 2"/>
<line x1="964" y1="369" x2="974" y2="360.5" stroke="#2a2a2a" stroke-width="0.8" stroke-dasharray="2 2"/>
<line x1="880" y1="393" x2="890" y2="397" stroke="#2a2a2a" stroke-width="1" />
<text transform="translate(845,263) rotate(90)" font-size="6.5">9</text>
<text transform="translate(861,263) rotate(90)" font-size="6.5">8</text>
<text transform="translate(877,263) rotate(90)" font-size="6.5">7</text>
<text transform="translate(892,263) rotate(90)" font-size="6.5">6</text>
<text transform="translate(907,263) rotate(90)" font-size="6.5">5</text>
<text transform="translate(922,263) rotate(90)" font-size="6.5">4</text>
<text transform="translate(937,263) rotate(90)" font-size="6.5">3</text>
<text transform="translate(952,263) rotate(90)" font-size="6.5">2</text>
<text transform="translate(967,263) rotate(90)" font-size="6.5">1</text>
<text transform="translate(858,380) rotate(90)" font-size="6.5">10</text>
<text transform="translate(874,380) rotate(90)" font-size="6.5">11</text>
<text transform="translate(889,380) rotate(90)" font-size="6.5">12</text>
<text transform="translate(904,380) rotate(90)" font-size="6.5">13</text>
<text transform="translate(919,380) rotate(90)" font-size="6.5">14</text>
<text transform="translate(934,380) rotate(90)" font-size="6.5">15</text>
<text transform="translate(949,380) rotate(90)" font-size="6.5">16</text>
<text transform="translate(964,380) rotate(90)" font-size="6.5">17</text>
<rect x="1070.6" y="261.7" width="31.9" height="159.3" fill="#fff" stroke="#2a2a2a" stroke-width="1" />
<line x1="1070.6" y1="318.5" x2="1102.5" y2="318.5" stroke="#2a2a2a" stroke-width="0.9" />
<line x1="1070.6" y1="326.5" x2="1102.5" y2="326.5" stroke="#2a2a2a" stroke-width="0.9" />
<line x1="1070.6" y1="357.5" x2="1102.5" y2="357.5" stroke="#2a2a2a" stroke-width="0.9" />
<line x1="1070.6" y1="391.5" x2="1102.5" y2="391.5" stroke="#2a2a2a" stroke-width="0.9" />
<rect x="1072.5" y="278.3" width="27.1" height="32" fill="none" stroke="#2a2a2a" stroke-width="0.9" rx="1.5"/>
<line x1="1096.5" y1="326.4" x2="1096.5" y2="357" stroke="#2a2a2a" stroke-width="0.9" />
<circle cx="1083.7" cy="341.3" r="1.8" fill="none" stroke="#222" stroke-width="0.8"/>
<line x1="1070.6" y1="421" x2="1107.5" y2="421" stroke="#2a2a2a" stroke-width="1.8" />
<rect x="1182.5" y="261.7" width="40.9" height="81.3" fill="#fff" stroke="#2a2a2a" stroke-width="1" />
<rect x="1154.3" y="269.4" width="24.3" height="24.1" fill="#fff" stroke="#2a2a2a" stroke-width="1" />
<rect x="1154.3" y="310.5" width="24.3" height="24.1" fill="#fff" stroke="#2a2a2a" stroke-width="1" />
<rect x="1227.4" y="269.4" width="24.3" height="24.1" fill="#fff" stroke="#2a2a2a" stroke-width="1" />
<rect x="1227.4" y="310.5" width="24.3" height="24.1" fill="#fff" stroke="#2a2a2a" stroke-width="1" />
<rect x="1191" y="347.4" width="23.7" height="23.6" fill="#fff" stroke="#2a2a2a" stroke-width="1" />
<line x1="1191" y1="367.5" x2="1214.7" y2="367.5" stroke="#2a2a2a" stroke-width="0.8" />
<line x1="1157.5" y1="269.4" x2="1157.5" y2="293.5" stroke="#2a2a2a" stroke-width="0.7" />
<line x1="1248.5" y1="269.4" x2="1248.5" y2="293.5" stroke="#2a2a2a" stroke-width="0.7" />
<rect x="1282.3" y="268" width="130.4" height="52" fill="#fff" stroke="#2a2a2a" stroke-width="1" />
<line x1="1289.4" y1="283.5" x2="1397.6" y2="283.5" stroke="#2a2a2a" stroke-width="0.9" />
<line x1="1289.5" y1="268" x2="1289.5" y2="320" stroke="#2a2a2a" stroke-width="0.9" />
<line x1="1397.5" y1="283.2" x2="1397.5" y2="320" stroke="#2a2a2a" stroke-width="0.9" />
<line x1="1307.5" y1="268" x2="1307.5" y2="320" stroke="#2a2a2a" stroke-width="0.9" />
<line x1="1360.5" y1="268" x2="1360.5" y2="320" stroke="#2a2a2a" stroke-width="0.9" />
<line x1="1395.5" y1="261.7" x2="1395.5" y2="268" stroke="#2a2a2a" stroke-width="0.9" />
<line x1="1432.5" y1="261.7" x2="1432.5" y2="298" stroke="#2a2a2a" stroke-width="0.9" />
<line x1="1412.7" y1="261.5" x2="1432" y2="261.5" stroke="#2a2a2a" stroke-width="0.9" />
<rect x="1282.3" y="360.5" width="104.2" height="26" fill="#fff" stroke="#2a2a2a" stroke-width="1" />
<rect x="1300" y="374" width="72" height="3.5" fill="none" stroke="#2a2a2a" stroke-width="0.8" rx="1.5"/>
<rect x="1318" y="369.5" width="35" height="12.5" fill="none" stroke="#2a2a2a" stroke-width="0.8" />
<rect x="1282.4" y="419.5" width="104.1" height="115.3" fill="#fff" stroke="#2a2a2a" stroke-width="1" />
<polyline points="1282.4,419.5 1334.5,534.8 1386.5,419.5" fill="none" stroke="#222" stroke-width="1"/>
<rect x="1255.2" y="519.3" width="27.2" height="15.5" fill="#fff" stroke="#2a2a2a" stroke-width="0.9" />
<rect x="1386.5" y="514" width="27.5" height="20.8" fill="#fff" stroke="#2a2a2a" stroke-width="0.9" />
<circle cx="1399" cy="526" r="4.5" fill="none" stroke="#222" stroke-width="0.8"/>
<rect x="1064.6" y="431.2" width="31.4" height="63.8" fill="#fff" stroke="#2a2a2a" stroke-width="1" />
<rect x="1160.5" y="431.2" width="35.1" height="103.6" fill="#fff" stroke="#2a2a2a" stroke-width="1" />
<line x1="1163.5" y1="431.2" x2="1163.5" y2="534.8" stroke="#2a2a2a" stroke-width="0.8" />
<line x1="1178.5" y1="431.2" x2="1178.5" y2="534.8" stroke="#2a2a2a" stroke-width="0.9" />
<line x1="1160.5" y1="483.5" x2="1195.6" y2="483.5" stroke="#2a2a2a" stroke-width="0.9" />
<path d="M1164.5 435.7L1192.6 434.7M1164.5 440.8L1192.6 434.8M1164.5 445.9L1192.6 445.9M1164.5 451.0L1192.6 444.0M1164.5 456.1L1192.6 448.1M1164.5 461.2L1192.6 454.2M1164.5 466.3L1192.6 468.3M1164.5 471.4L1192.6 464.4M1164.5 476.5L1192.6 475.5M1164.5 487.6L1192.6 489.6M1164.5 492.7L1192.6 487.7M1164.5 497.8L1192.6 489.8M1164.5 502.9L1192.6 495.9M1164.5 508.0L1192.6 508.0M1164.5 513.1L1192.6 513.1M1164.5 518.2L1192.6 511.2M1164.5 523.3L1192.6 518.3M1164.5 528.4L1192.6 521.4" fill="none" stroke="#222" stroke-width="0.9"/>
<rect x="1202.8" y="430.2" width="35.7" height="104.6" fill="#fff" stroke="#2a2a2a" stroke-width="1" />
<line x1="1235.5" y1="430.2" x2="1235.5" y2="534.8" stroke="#2a2a2a" stroke-width="0.8" />
<line x1="1220.5" y1="430.2" x2="1220.5" y2="534.8" stroke="#2a2a2a" stroke-width="0.9" />
<path d="M1206.8 434.7L1235.5 436.7M1206.8 439.8L1235.5 439.8M1206.8 444.9L1235.5 436.9M1206.8 450.0L1235.5 444.0M1206.8 455.1L1235.5 448.1M1206.8 460.2L1235.5 455.2M1206.8 465.3L1235.5 458.3M1206.8 470.4L1235.5 463.4M1206.8 475.5L1235.5 469.5M1206.8 480.6L1235.5 472.6M1206.8 485.7L1235.5 479.7M1206.8 490.8L1235.5 484.8M1206.8 495.9L1235.5 495.9M1206.8 501.0L1235.5 493.0M1206.8 506.1L1235.5 501.1M1206.8 511.2L1235.5 503.2M1206.8 516.3L1235.5 518.3M1206.8 521.4L1235.5 515.4M1206.8 526.5L1235.5 523.5M1206.8 531.6L1235.5 531.6" fill="none" stroke="#222" stroke-width="0.9"/>
<rect x="557.6" y="578.1" width="35.6" height="104.4" fill="#fff" stroke="#2a2a2a" stroke-width="1" />
<line x1="560.5" y1="578.1" x2="560.5" y2="682.5" stroke="#2a2a2a" stroke-width="0.8" />
<line x1="575.5" y1="578.1" x2="575.5" y2="682.5" stroke="#2a2a2a" stroke-width="0.9" />
<line x1="557.6" y1="630.5" x2="593.2" y2="630.5" stroke="#2a2a2a" stroke-width="0.9" />
<path d="M561.6 582.6L590.2 581.1M561.6 587.7L590.2 589.7M561.6 592.8L590.2 585.8M561.6 597.9L590.2 591.9M561.6 603.0L590.2 600.0M561.6 608.1L590.2 610.1M561.6 613.2L590.2 606.2M561.6 618.3L590.2 612.3M561.6 623.4L590.2 616.4M561.6 634.5L590.2 627.5M561.6 639.6L590.2 634.6M561.6 644.7L590.2 643.7M561.6 649.8L590.2 642.8M561.6 654.9L590.2 656.9M561.6 660.0L590.2 653.0M561.6 665.1L590.2 659.1M561.6 670.2L590.2 662.2M561.6 675.3L590.2 669.3" fill="none" stroke="#222" stroke-width="0.9"/>
<rect x="557" y="709.5" width="35.9" height="104.8" fill="#fff" stroke="#2a2a2a" stroke-width="1" />
<line x1="559.5" y1="709.5" x2="559.5" y2="814.3" stroke="#2a2a2a" stroke-width="0.8" />
<line x1="575.5" y1="709.5" x2="575.5" y2="814.3" stroke="#2a2a2a" stroke-width="0.9" />
<line x1="557" y1="760.5" x2="592.9" y2="760.5" stroke="#2a2a2a" stroke-width="0.9" />
<path d="M561.0 714.0L589.9 712.5M561.0 719.1L589.9 720.1M561.0 724.2L589.9 717.2M561.0 729.3L589.9 731.3M561.0 734.4L589.9 734.4M561.0 739.5L589.9 738.5M561.0 744.6L589.9 745.6M561.0 749.7L589.9 743.7M561.0 754.8L589.9 755.8M561.0 762.9L589.9 759.9M561.0 768.0L589.9 763.0M561.0 773.1L589.9 767.1M561.0 778.2L589.9 773.2M561.0 783.3L589.9 776.3M561.0 788.4L589.9 782.4M561.0 793.5L589.9 790.5M561.0 798.6L589.9 800.6M561.0 803.7L589.9 804.7M561.0 808.8L589.9 807.8" fill="none" stroke="#222" stroke-width="0.9"/>
<rect x="702" y="641" width="40.9" height="40" fill="#fff" stroke="#2a2a2a" stroke-width="1" />
<line x1="702" y1="677.5" x2="742.9" y2="677.5" stroke="#2a2a2a" stroke-width="0.8" />
<rect x="759.5" y="638" width="19.1" height="43" fill="#aaa" stroke="#2a2a2a" stroke-width="1" />
<circle cx="769" cy="647.5" r="6" fill="#fff" stroke="#222" stroke-width="1"/>
<rect x="763" y="656" width="12" height="5" fill="#fff" stroke="#2a2a2a" stroke-width="0.8" />
<circle cx="769" cy="670.5" r="7" fill="#fff" stroke="#222" stroke-width="1"/>
<circle cx="769" cy="670.5" r="4.5" fill="none" stroke="#222" stroke-width="0.8"/>
<path d="M 222.6 488.7 Q 259.6 482.7 296.6 488.7 Q 303.6 491.7 304.6 509.7 L 308.6 545.7 L 308.6 649.6 Q 314.6 645.6 315.6 650.6 Q 311.6 656.6 308.6 658.6 L 308.6 710 C 309.6 738 287.6 752 259.6 752 C 231.60000000000002 752 209.6 738 210.6 710 L 210.6 658.6 Q 207.6 656.6 203.6 650.6 Q 204.6 645.6 210.6 649.6 L 210.6 545.7 L 214.6 509.7 Q 215.6 491.7 222.6 488.7 Z" fill="#fff" stroke="#222" stroke-width="1.1"/>
<path d="M 370 495.8 Q 407.2 489.8 444.4 495.8 Q 451.4 498.8 452.4 516.8 L 456.4 552.8 L 456.4 656.5 Q 462.4 652.5 463.4 657.5 Q 459.4 663.5 456.4 665.5 L 456.4 717 C 457.4 745 435.2 759 407.2 759 C 379.2 759 357 745 358 717 L 358 665.5 Q 355 663.5 351 657.5 Q 352 652.5 358 656.5 L 358 552.8 L 362 516.8 Q 363 498.8 370 495.8 Z" fill="#fff" stroke="#222" stroke-width="1.1"/>
<g transform="translate(712.8,399.2) rotate(-10.30) scale(1,0.991)" fill="#fff" stroke="#111" stroke-width="1"><rect x="-2" y="0" width="4" height="40" rx="2"/><polygon points="-1,14 -4.5,20 -5,32 -3,42 3,42 4.5,32 4,20 1,14"/><rect x="-8.5" y="39" width="17" height="8.5" rx="1"/><line x1="0" y1="47" x2="0" y2="64" stroke-width="1.3"/><line x1="-15" y1="68" x2="15" y2="68" stroke-width="2.6" stroke-dasharray="4 1.5"/><polygon points="-3.5,62 3.5,62 5,72 3,80 -3,80 -5,72"/><rect x="-2" y="72" width="4" height="22" rx="2"/></g>
<g transform="translate(746.7,399.6) rotate(-0.00) scale(1,1.002)" fill="#fff" stroke="#111" stroke-width="1"><rect x="-2" y="0" width="4" height="40" rx="2"/><polygon points="-1,14 -4.5,20 -5,32 -3,42 3,42 4.5,32 4,20 1,14"/><rect x="-8.5" y="39" width="17" height="8.5" rx="1"/><line x1="0" y1="47" x2="0" y2="64" stroke-width="1.3"/><line x1="-15" y1="68" x2="15" y2="68" stroke-width="2.6" stroke-dasharray="4 1.5"/><polygon points="-3.5,62 3.5,62 5,72 3,80 -3,80 -5,72"/><rect x="-2" y="72" width="4" height="22" rx="2"/></g>
<rect x="595.2" y="521.6" width="103.3" height="27.8" fill="#fff" stroke="none" stroke-width="1.25" />
<line x1="595.5" y1="521.6" x2="595.5" y2="549.4" stroke="#2a2a2a" stroke-width="1" />
<line x1="698.5" y1="521.6" x2="698.5" y2="549.4" stroke="#2a2a2a" stroke-width="1" />
<line x1="595.2" y1="535.5" x2="698.5" y2="535.5" stroke="#2a2a2a" stroke-width="0.9" />
<rect x="595" y="521.6" width="31" height="2.8" fill="#fff" stroke="#2a2a2a" stroke-width="0.8" />
<rect x="668.8" y="521.6" width="30.1" height="2.8" fill="#fff" stroke="#2a2a2a" stroke-width="0.8" />
<rect x="595" y="521.6" width="4" height="2.8" fill="#aaa" stroke="#2a2a2a" stroke-width="0.6" />
<rect x="622" y="521.6" width="4" height="2.8" fill="#aaa" stroke="#2a2a2a" stroke-width="0.6" />
<rect x="668.8" y="521.6" width="4" height="2.8" fill="#aaa" stroke="#2a2a2a" stroke-width="0.6" />
<rect x="694.9" y="521.6" width="4" height="2.8" fill="#aaa" stroke="#2a2a2a" stroke-width="0.6" />
<line x1="668.5" y1="524" x2="668.5" y2="566" stroke="#2a2a2a" stroke-width="1" />
<path d="M 626 524.4 A 42.5 42.5 0 0 0 668.8 566" fill="none" stroke="#222" stroke-width="1"/>
<line x1="1038.5" y1="248" x2="1038.5" y2="301.5" stroke="#2a2a2a" stroke-width="1" />
<path d="M 984.5 248 A 53.5 53.5 0 0 0 1038 301.5" fill="none" stroke="#222" stroke-width="1"/>
<line x1="984.5" y1="248.5" x2="1040.9" y2="248.5" stroke="#2a2a2a" stroke-width="0.9" />
<line x1="852.5" y1="487.8" x2="852.5" y2="535.2" stroke="#2a2a2a" stroke-width="1" />
<path d="M 852.7 487.8 A 47.5 47.5 0 0 0 804.7 535.2" fill="none" stroke="#222" stroke-width="1"/>
<line x1="623.5" y1="697.6" x2="623.5" y2="744.8" stroke="#2a2a2a" stroke-width="1" />
<path d="M 623 744.8 A 47.5 47.5 0 0 0 670.7 697.6" fill="none" stroke="#222" stroke-width="1"/>
<line x1="866.8" y1="564.5" x2="914.8" y2="564.5" stroke="#2a2a2a" stroke-width="1" />
<path d="M 866.8 564.7 A 48 48 0 0 0 914.8 612.6" fill="none" stroke="#222" stroke-width="1"/>
<line x1="866.8" y1="729.5" x2="914.8" y2="729.5" stroke="#2a2a2a" stroke-width="1" />
<path d="M 866.8 729.5 A 48 48 0 0 0 914.8 777" fill="none" stroke="#222" stroke-width="1"/>
<line x1="1107.5" y1="431.2" x2="1107.5" y2="478.6" stroke="#2a2a2a" stroke-width="1" />
<path d="M 1155 431.2 A 47.5 47.5 0 0 1 1107.5 478.6" fill="none" stroke="#222" stroke-width="1"/>
<line x1="1063.5" y1="556.5" x2="1117" y2="556.5" stroke="#2a2a2a" stroke-width="1" />
<path d="M 1063.5 503 A 53.5 53.5 0 0 1 1117 556.2" fill="none" stroke="#222" stroke-width="1"/>
<line x1="1148.5" y1="578.5" x2="1148.5" y2="626.2" stroke="#2a2a2a" stroke-width="1" />
<path d="M 1101 626.2 A 47 47 0 0 1 1148 578.5" fill="none" stroke="#222" stroke-width="1"/>
<line x1="333.5" y1="306.8" x2="333.5" y2="406.4" stroke="#2a2a2a" stroke-width="1" />
<text transform="translate(328.4,340.5) rotate(-90)" font-size="13" text-anchor="middle">6,00</text>
<text transform="translate(350.4,340.5) rotate(-90)" font-size="13" text-anchor="middle">2,10</text>
<line x1="647.5" y1="509" x2="647.5" y2="611" stroke="#2a2a2a" stroke-width="1" />
<text transform="translate(642.3,577.3) rotate(-90)" font-size="13" text-anchor="middle">2,00</text>
<text transform="translate(664.3,577.3) rotate(-90)" font-size="13" text-anchor="middle">2,20</text>
<line x1="647.5" y1="664.3" x2="647.5" y2="760" stroke="#2a2a2a" stroke-width="1" />
<text transform="translate(642.6,727) rotate(-90)" font-size="13" text-anchor="middle">90</text>
<text transform="translate(664.6,727) rotate(-90)" font-size="13" text-anchor="middle">2,20</text>
<line x1="829.5" y1="476.7" x2="829.5" y2="570.4" stroke="#2a2a2a" stroke-width="1" />
<text transform="translate(824,505) rotate(-90)" font-size="13" text-anchor="middle">90</text>
<text transform="translate(846,505) rotate(-90)" font-size="13" text-anchor="middle">2,20</text>
<line x1="1131.5" y1="403" x2="1131.5" y2="490.7" stroke="#2a2a2a" stroke-width="1" />
<text transform="translate(1126.7,462) rotate(-90)" font-size="13" text-anchor="middle">90</text>
<text transform="translate(1148.7,462) rotate(-90)" font-size="13" text-anchor="middle">2,20</text>
<line x1="1124.5" y1="563" x2="1124.5" y2="659.5" stroke="#2a2a2a" stroke-width="1" />
<text transform="translate(1119.3,600) rotate(-90)" font-size="13" text-anchor="middle">90</text>
<text transform="translate(1141.3,600) rotate(-90)" font-size="13" text-anchor="middle">2,20</text>
<text transform="translate(1007,288.5) rotate(-90)" font-size="13" text-anchor="middle">1,00</text>
<text transform="translate(1029,288.5) rotate(-90)" font-size="13" text-anchor="middle">2,20</text>
<line x1="1157.5" y1="155" x2="1157.5" y2="293" stroke="#2a2a2a" stroke-width="1" />
<text transform="translate(1152.5,205) rotate(-90)" font-size="13" text-anchor="middle">1,75</text>
<text transform="translate(1174.5,205) rotate(-90)" font-size="13" text-anchor="middle">1,65</text>
<line x1="1294.5" y1="155" x2="1294.5" y2="293" stroke="#2a2a2a" stroke-width="1" />
<text transform="translate(1289.3,205) rotate(-90)" font-size="13" text-anchor="middle">1,75</text>
<text transform="translate(1311.3,205) rotate(-90)" font-size="13" text-anchor="middle">1,65</text>
<line x1="1419.5" y1="155" x2="1419.5" y2="293" stroke="#2a2a2a" stroke-width="1" />
<text transform="translate(1414.5,205) rotate(-90)" font-size="13" text-anchor="middle">1,00</text>
<text transform="translate(1436.5,205) rotate(-90)" font-size="13" text-anchor="middle">1,65</text>
<line x1="851.7" y1="588.5" x2="943.4" y2="588.5" stroke="#2a2a2a" stroke-width="1" />
<text x="879" y="582.4" font-size="13" text-anchor="middle" >90</text>
<text x="885" y="602.4" font-size="13" text-anchor="middle" >2,20</text>
<line x1="851.7" y1="753.5" x2="943.4" y2="753.5" stroke="#2a2a2a" stroke-width="1" />
<text x="879.5" y="747" font-size="13" text-anchor="middle" >90</text>
<text x="885" y="767" font-size="13" text-anchor="middle" >2,20</text>
<line x1="1030" y1="529.5" x2="1127" y2="529.5" stroke="#2a2a2a" stroke-width="1" />
<text x="1092" y="523.4" font-size="13" text-anchor="middle" >1,00</text>
<text x="1092" y="543.4" font-size="13" text-anchor="middle" >2,20</text>
<line x1="1446" y1="274.5" x2="1537.7" y2="274.5" stroke="#2a2a2a" stroke-width="1" />
<text x="1487" y="268" font-size="13" text-anchor="middle" >1,00</text>
<text x="1487" y="289" font-size="13" text-anchor="middle" >1,65</text>
<text x="1131.7" y="283" font-size="14" text-anchor="start" >RPH 90</text>
<text x="1269" y="283" font-size="14" text-anchor="start" >RPH 90</text>
<text x="1395" y="282" font-size="14" text-anchor="start" >RPH 90</text>
<text transform="translate(1421.5,273.6) rotate(-90)" font-size="14" text-anchor="middle">RPH 90</text>
<text x="1012" y="200.5" font-size="8" text-anchor="middle" >Eingang</text>
<polygon points="996.4,205.5 1027.6,205.5 1012,221.5" fill="#111"/>
<line x1="1012.5" y1="221.5" x2="1012.5" y2="323.8" stroke="#2a2a2a" stroke-width="1" />
<text x="647.2" y="488.4" font-size="8" text-anchor="middle" >Eingang</text>
<polygon points="631.6,493.4 662.8,493.4 647.2,509.4" fill="#111"/>
<line x1="647.5" y1="509.4" x2="647.5" y2="509" stroke="#2a2a2a" stroke-width="1" />
<g transform="translate(843.6,673.5)"><circle r="8" fill="#fff" stroke="#111" stroke-width="1"/><path d="M0 0 L0 -8 A8 8 0 0 1 8 0 Z M0 0 L0 8 A8 8 0 0 1 -8 0 Z" fill="#111"/><line x1="-15" y1="0" x2="15" y2="0" stroke="#111" stroke-width="1"/><line x1="0" y1="-15" x2="0" y2="15" stroke="#111" stroke-width="1"/></g>
<text x="864.4" y="678" font-size="14" text-anchor="start" >-2,80</text>
<text x="299.9" y="599.6" font-size="14" text-anchor="start" >Garage</text>
<text x="299.9" y="620.6" font-size="14">BF:<tspan dx="0">58,71</tspan> m<tspan font-size="9.5" dy="-6">2</tspan></text>
<text x="794.7" y="457.6" font-size="14" text-anchor="start" >DU/WC</text>
<text x="794.7" y="478.6" font-size="14">BF:<tspan dx="0">3,39</tspan> m<tspan font-size="9.5" dy="-6">2</tspan></text>
<text x="1236" y="396.7" font-size="14" text-anchor="start" >ELW</text>
<text x="1236" y="418.5" font-size="14">BF:<tspan dx="2.5">30,59</tspan> m<tspan font-size="9.5" dy="-6">2</tspan></text>
<text x="1115" y="498" font-size="14" text-anchor="start" >Eingang</text>
<text x="1115" y="519.3" font-size="14">BF:<tspan dx="0">8,08</tspan> m<tspan font-size="9.5" dy="-6">2</tspan></text>
<text x="643.6" y="623" font-size="14" text-anchor="start" >Garderobe</text>
<text x="643.6" y="643.6" font-size="14">BF:<tspan dx="2.5">14,16</tspan> m<tspan font-size="9.5" dy="-6">2</tspan></text>
<text x="958.5" y="591" font-size="14" text-anchor="start" >Flur</text>
<text x="958.5" y="611.6" font-size="14">BF:<tspan dx="2.5">11,77</tspan> m<tspan font-size="9.5" dy="-6">2</tspan></text>
<text x="721.4" y="760.7" font-size="14" text-anchor="start" >Keller</text>
<text x="721.4" y="781" font-size="14">BF:<tspan dx="2.5">19,74</tspan> m<tspan font-size="9.5" dy="-6">2</tspan></text>
<text x="955" y="734" font-size="14" text-anchor="start" >Technik</text>
<text x="955" y="755" font-size="14">BF:<tspan dx="0">8,73</tspan> m<tspan font-size="9.5" dy="-6">2</tspan></text>
<text x="1075.5" y="721" font-size="14" text-anchor="start" >Bad</text>
<text x="1075.5" y="741.2" font-size="14">BF:<tspan dx="2.5">6,13</tspan> m<tspan font-size="9.5" dy="-6">2</tspan></text>
<path d="M 611 649 L 617 655 M 617 649 L 611 655" stroke="#222" stroke-width="0.8"/>
<path d="M 802 743 L 808 749 M 808 743 L 802 749" stroke="#222" stroke-width="0.8"/>
<path d="M 1240 361 L 1246 367 M 1246 361 L 1240 367" stroke="#222" stroke-width="0.8"/>
<path d="M 1101 501 L 1107 507 M 1107 501 L 1101 507" stroke="#222" stroke-width="0.8"/>
<path d="M 959 578 L 965 584 M 965 578 L 959 584" stroke="#222" stroke-width="0.8"/>
<path d="M 999 723 L 1005 729 M 1005 723 L 999 729" stroke="#222" stroke-width="0.8"/>
<path d="M 1103 709 L 1109 715 M 1109 709 L 1103 715" stroke="#222" stroke-width="0.8"/>
<text x="771.8" y="398.5" font-size="10.5" text-anchor="start" >DD 0,50 /0,20</text>
<text x="889" y="503.5" font-size="10.5" text-anchor="start" >DD 1,77 /0,55</text>
<text x="1097" y="809" font-size="10.5" text-anchor="start" >DD 1,00 /0,20</text>
<line x1="129.6" y1="150.5" x2="791" y2="150.5" stroke="#2a2a2a" stroke-width="1.1" />
<line x1="129.5" y1="140.6" x2="129.5" y2="159.6" stroke="#2a2a2a" stroke-width="1" />
<line x1="150.5" y1="140.6" x2="150.5" y2="159.6" stroke="#2a2a2a" stroke-width="1" />
<line x1="517.5" y1="140.6" x2="517.5" y2="159.6" stroke="#2a2a2a" stroke-width="1" />
<line x1="532.5" y1="140.6" x2="532.5" y2="159.6" stroke="#2a2a2a" stroke-width="1" />
<line x1="764.5" y1="140.6" x2="764.5" y2="159.6" stroke="#2a2a2a" stroke-width="1" />
<line x1="791.5" y1="140.6" x2="791.5" y2="159.6" stroke="#2a2a2a" stroke-width="1" />
<polygon points="129.6,150.1 136.1,145.9 136.1,154.3" fill="#111"/>
<polygon points="150.1,150.1 143.6,145.9 143.6,154.3" fill="#111"/>
<polygon points="150.1,150.1 156.6,145.9 156.6,154.3" fill="#111"/>
<polygon points="517.5,150.1 511,145.9 511,154.3" fill="#111"/>
<polygon points="532.5,150.1 539,145.9 539,154.3" fill="#111"/>
<polygon points="764,150.1 757.5,145.9 757.5,154.3" fill="#111"/>
<polygon points="764,150.1 770.5,145.9 770.5,154.3" fill="#111"/>
<polygon points="791,150.1 784.5,145.9 784.5,154.3" fill="#111"/>
<text x="124.6" y="146.3" font-size="13.2" text-anchor="end">38</text>
<text x="324" y="146.3" font-size="13.2" text-anchor="middle">7,01</text>
<text x="512.5" y="146.3" font-size="13.2" text-anchor="end">30</text>
<text x="648.25" y="146.3" font-size="13.2" text-anchor="middle">4,42<tspan font-size="8.5" dy="-5">5</tspan></text>
<text x="777.5" y="146.3" font-size="13.2" text-anchor="middle">53</text>
<line x1="517.5" y1="123.5" x2="1459" y2="123.5" stroke="#2a2a2a" stroke-width="1.1" />
<line x1="517.5" y1="113.5" x2="517.5" y2="132.5" stroke="#2a2a2a" stroke-width="1" />
<line x1="555.5" y1="113.5" x2="555.5" y2="132.5" stroke="#2a2a2a" stroke-width="1" />
<line x1="1431.5" y1="113.5" x2="1431.5" y2="132.5" stroke="#2a2a2a" stroke-width="1" />
<line x1="1459.5" y1="113.5" x2="1459.5" y2="132.5" stroke="#2a2a2a" stroke-width="1" />
<polygon points="517.5,123 524,118.8 524,127.2" fill="#111"/>
<polygon points="555.5,123 549,118.8 549,127.2" fill="#111"/>
<polygon points="555.5,123 562,118.8 562,127.2" fill="#111"/>
<polygon points="1431,123 1424.5,118.8 1424.5,127.2" fill="#111"/>
<polygon points="1431,123 1437.5,118.8 1437.5,127.2" fill="#111"/>
<polygon points="1459,123 1452.5,118.8 1452.5,127.2" fill="#111"/>
<text x="536.5" y="119.2" font-size="13.2" text-anchor="middle">75<tspan font-size="8.5" dy="-5">5</tspan></text>
<text x="993.25" y="119.2" font-size="13.2" text-anchor="middle">16,72</text>
<text x="1445" y="119.2" font-size="13.2" text-anchor="middle">53</text>
<line x1="517.5" y1="928.5" x2="1184" y2="928.5" stroke="#2a2a2a" stroke-width="1.1" />
<line x1="517.5" y1="918.5" x2="517.5" y2="937.5" stroke="#2a2a2a" stroke-width="1" />
<line x1="555.5" y1="918.5" x2="555.5" y2="937.5" stroke="#2a2a2a" stroke-width="1" />
<line x1="747.5" y1="918.5" x2="747.5" y2="937.5" stroke="#2a2a2a" stroke-width="1" />
<line x1="759.5" y1="918.5" x2="759.5" y2="937.5" stroke="#2a2a2a" stroke-width="1" />
<line x1="914.5" y1="918.5" x2="914.5" y2="937.5" stroke="#2a2a2a" stroke-width="1" />
<line x1="922.5" y1="918.5" x2="922.5" y2="937.5" stroke="#2a2a2a" stroke-width="1" />
<line x1="1052.5" y1="918.5" x2="1052.5" y2="937.5" stroke="#2a2a2a" stroke-width="1" />
<line x1="1059.5" y1="918.5" x2="1059.5" y2="937.5" stroke="#2a2a2a" stroke-width="1" />
<line x1="1156.5" y1="918.5" x2="1156.5" y2="937.5" stroke="#2a2a2a" stroke-width="1" />
<line x1="1184.5" y1="918.5" x2="1184.5" y2="937.5" stroke="#2a2a2a" stroke-width="1" />
<polygon points="517.5,928 524,923.8 524,932.2" fill="#111"/>
<polygon points="555.5,928 549,923.8 549,932.2" fill="#111"/>
<polygon points="555.5,928 562,923.8 562,932.2" fill="#111"/>
<polygon points="747,928 740.5,923.8 740.5,932.2" fill="#111"/>
<polygon points="759.5,928 766,923.8 766,932.2" fill="#111"/>
<polygon points="914.5,928 908,923.8 908,932.2" fill="#111"/>
<polygon points="922.5,928 929,923.8 929,932.2" fill="#111"/>
<polygon points="1052.5,928 1046,923.8 1046,932.2" fill="#111"/>
<polygon points="1059.5,928 1066,923.8 1066,932.2" fill="#111"/>
<polygon points="1156,928 1149.5,923.8 1149.5,932.2" fill="#111"/>
<polygon points="1156,928 1162.5,923.8 1162.5,932.2" fill="#111"/>
<polygon points="1184,928 1177.5,923.8 1177.5,932.2" fill="#111"/>
<text x="536.5" y="924.2" font-size="13.2" text-anchor="middle">75<tspan font-size="8.5" dy="-5">5</tspan></text>
<text x="640" y="924.2" font-size="13.2" text-anchor="middle">3,64<tspan font-size="8.5" dy="-5">5</tspan></text>
<text x="742" y="924.2" font-size="13.2" text-anchor="end">23</text>
<text x="825.4" y="924.2" font-size="13.2" text-anchor="middle">2,97</text>
<text x="909.5" y="924.2" font-size="13.2" text-anchor="end">14<tspan font-size="8.5" dy="-5">5</tspan></text>
<text x="975" y="924.2" font-size="13.2" text-anchor="middle">2,48</text>
<text x="1047.5" y="924.2" font-size="13.2" text-anchor="end">14<tspan font-size="8.5" dy="-5">5</tspan></text>
<text x="1108.5" y="924.2" font-size="13.2" text-anchor="middle">1,85<tspan font-size="8.5" dy="-5">5</tspan></text>
<text x="1170" y="924.2" font-size="13.2" text-anchor="middle">53</text>
<line x1="517.5" y1="955.5" x2="1459" y2="955.5" stroke="#2a2a2a" stroke-width="1.1" />
<line x1="517.5" y1="945.5" x2="517.5" y2="964.5" stroke="#2a2a2a" stroke-width="1" />
<line x1="555.5" y1="945.5" x2="555.5" y2="964.5" stroke="#2a2a2a" stroke-width="1" />
<line x1="1431.5" y1="945.5" x2="1431.5" y2="964.5" stroke="#2a2a2a" stroke-width="1" />
<line x1="1459.5" y1="945.5" x2="1459.5" y2="964.5" stroke="#2a2a2a" stroke-width="1" />
<polygon points="517.5,955 524,950.8 524,959.2" fill="#111"/>
<polygon points="555.5,955 549,950.8 549,959.2" fill="#111"/>
<polygon points="555.5,955 562,950.8 562,959.2" fill="#111"/>
<polygon points="1431,955 1424.5,950.8 1424.5,959.2" fill="#111"/>
<polygon points="1431,955 1437.5,950.8 1437.5,959.2" fill="#111"/>
<polygon points="1459,955 1452.5,950.8 1452.5,959.2" fill="#111"/>
<text x="536.5" y="951.2" font-size="13.2" text-anchor="middle">75<tspan font-size="8.5" dy="-5">5</tspan></text>
<text x="993.25" y="951.2" font-size="13.2" text-anchor="middle">16,72</text>
<text x="1445" y="951.2" font-size="13.2" text-anchor="middle">53</text>
<line x1="150" y1="981.5" x2="1431" y2="981.5" stroke="#2a2a2a" stroke-width="1.1" />
<line x1="150.5" y1="972" x2="150.5" y2="991" stroke="#2a2a2a" stroke-width="1" />
<line x1="517.5" y1="972" x2="517.5" y2="991" stroke="#2a2a2a" stroke-width="1" />
<line x1="555.5" y1="972" x2="555.5" y2="991" stroke="#2a2a2a" stroke-width="1" />
<line x1="1156.5" y1="972" x2="1156.5" y2="991" stroke="#2a2a2a" stroke-width="1" />
<line x1="1431.5" y1="972" x2="1431.5" y2="991" stroke="#2a2a2a" stroke-width="1" />
<polygon points="150,981.5 156.5,977.3 156.5,985.7" fill="#111"/>
<polygon points="517.5,981.5 511,977.3 511,985.7" fill="#111"/>
<polygon points="517.5,981.5 524,977.3 524,985.7" fill="#111"/>
<polygon points="555.5,981.5 549,977.3 549,985.7" fill="#111"/>
<polygon points="555.5,981.5 562,977.3 562,985.7" fill="#111"/>
<polygon points="1156,981.5 1149.5,977.3 1149.5,985.7" fill="#111"/>
<polygon points="1156,981.5 1162.5,977.3 1162.5,985.7" fill="#111"/>
<polygon points="1431,981.5 1424.5,977.3 1424.5,985.7" fill="#111"/>
<text x="333.75" y="977.7" font-size="13.2" text-anchor="middle">7,01</text>
<text x="536.5" y="977.7" font-size="13.2" text-anchor="middle">74</text>
<text x="855.75" y="977.7" font-size="13.2" text-anchor="middle">11,50</text>
<text x="1293.5" y="977.7" font-size="13.2" text-anchor="middle">5,25</text>
<line x1="129.6" y1="1014.5" x2="1459" y2="1014.5" stroke="#2a2a2a" stroke-width="1.1" />
<line x1="129.5" y1="1004.5" x2="129.5" y2="1023.5" stroke="#2a2a2a" stroke-width="1" />
<line x1="1459.5" y1="1004.5" x2="1459.5" y2="1023.5" stroke="#2a2a2a" stroke-width="1" />
<polygon points="129.6,1014 136.1,1009.8 136.1,1018.2" fill="#111"/>
<polygon points="1459,1014 1452.5,1009.8 1452.5,1018.2" fill="#111"/>
<text x="794.3" y="1010.2" font-size="13.2" text-anchor="middle">25,39<tspan font-size="8.5" dy="-5">5</tspan></text>
<line x1="1530.5" y1="234.1" x2="1530.5" y2="638.8" stroke="#2a2a2a" stroke-width="1.1" />
<line x1="1521.2" y1="234.5" x2="1540.2" y2="234.5" stroke="#2a2a2a" stroke-width="1" />
<line x1="1521.2" y1="262.5" x2="1540.2" y2="262.5" stroke="#2a2a2a" stroke-width="1" />
<line x1="1521.2" y1="423.5" x2="1540.2" y2="423.5" stroke="#2a2a2a" stroke-width="1" />
<line x1="1521.2" y1="431.5" x2="1540.2" y2="431.5" stroke="#2a2a2a" stroke-width="1" />
<line x1="1521.2" y1="626.5" x2="1540.2" y2="626.5" stroke="#2a2a2a" stroke-width="1" />
<line x1="1521.2" y1="638.5" x2="1540.2" y2="638.5" stroke="#2a2a2a" stroke-width="1" />
<polygon points="1530.7,234.1 1526.5,240.6 1534.9,240.6" fill="#111"/>
<polygon points="1530.7,262 1526.5,255.5 1534.9,255.5" fill="#111"/>
<polygon points="1530.7,262 1526.5,268.5 1534.9,268.5" fill="#111"/>
<polygon points="1530.7,423.4 1526.5,416.9 1534.9,416.9" fill="#111"/>
<polygon points="1530.7,431 1526.5,437.5 1534.9,437.5" fill="#111"/>
<polygon points="1530.7,626.3 1526.5,619.8 1534.9,619.8" fill="#111"/>
<polygon points="1530.7,638.8 1526.5,645.3 1534.9,645.3" fill="#111"/>
<text transform="translate(1526.9,247) rotate(-90)" font-size="13.2" text-anchor="middle">53</text>
<text transform="translate(1526.9,330.8) rotate(-90)" font-size="13.2" text-anchor="middle">3,09<tspan font-size="8.5" dy="-5">5</tspan></text>
<text transform="translate(1526.9,415.4) rotate(-90)" font-size="13.2" text-anchor="start">14<tspan font-size="8.5" dy="-5">5</tspan></text>
<text transform="translate(1526.9,520.7) rotate(-90)" font-size="13.2" text-anchor="middle">3,73</text>
<text transform="translate(1526.9,619) rotate(-90)" font-size="13.2" text-anchor="start">23</text>
<line x1="1557.5" y1="234.1" x2="1557.5" y2="851.1" stroke="#2a2a2a" stroke-width="1.1" />
<line x1="1547.5" y1="234.5" x2="1566.5" y2="234.5" stroke="#2a2a2a" stroke-width="1" />
<line x1="1547.5" y1="262.5" x2="1566.5" y2="262.5" stroke="#2a2a2a" stroke-width="1" />
<line x1="1547.5" y1="390.5" x2="1566.5" y2="390.5" stroke="#2a2a2a" stroke-width="1" />
<line x1="1547.5" y1="402.5" x2="1566.5" y2="402.5" stroke="#2a2a2a" stroke-width="1" />
<line x1="1547.5" y1="497.5" x2="1566.5" y2="497.5" stroke="#2a2a2a" stroke-width="1" />
<line x1="1547.5" y1="507.5" x2="1566.5" y2="507.5" stroke="#2a2a2a" stroke-width="1" />
<line x1="1547.5" y1="534.5" x2="1566.5" y2="534.5" stroke="#2a2a2a" stroke-width="1" />
<line x1="1547.5" y1="549.5" x2="1566.5" y2="549.5" stroke="#2a2a2a" stroke-width="1" />
<line x1="1547.5" y1="626.5" x2="1566.5" y2="626.5" stroke="#2a2a2a" stroke-width="1" />
<line x1="1547.5" y1="638.5" x2="1566.5" y2="638.5" stroke="#2a2a2a" stroke-width="1" />
<line x1="1547.5" y1="822.5" x2="1566.5" y2="822.5" stroke="#2a2a2a" stroke-width="1" />
<line x1="1547.5" y1="851.5" x2="1566.5" y2="851.5" stroke="#2a2a2a" stroke-width="1" />
<polygon points="1557,234.1 1552.8,240.6 1561.2,240.6" fill="#111"/>
<polygon points="1557,262 1552.8,255.5 1561.2,255.5" fill="#111"/>
<polygon points="1557,262 1552.8,268.5 1561.2,268.5" fill="#111"/>
<polygon points="1557,390.8 1552.8,384.3 1561.2,384.3" fill="#111"/>
<polygon points="1557,402.3 1552.8,408.8 1561.2,408.8" fill="#111"/>
<polygon points="1557,497 1552.8,490.5 1561.2,490.5" fill="#111"/>
<polygon points="1557,507.3 1552.8,513.8 1561.2,513.8" fill="#111"/>
<polygon points="1557,534.8 1552.8,528.3 1561.2,528.3" fill="#111"/>
<polygon points="1557,549.8 1552.8,556.3 1561.2,556.3" fill="#111"/>
<polygon points="1557,626.3 1552.8,619.8 1561.2,619.8" fill="#111"/>
<polygon points="1557,638.8 1552.8,645.3 1561.2,645.3" fill="#111"/>
<polygon points="1557,822.5 1552.8,816 1561.2,816" fill="#111"/>
<polygon points="1557,822.5 1552.8,829 1561.2,829" fill="#111"/>
<polygon points="1557,851.1 1552.8,844.6 1561.2,844.6" fill="#111"/>
<text transform="translate(1553.2,247) rotate(-90)" font-size="13.2" text-anchor="middle">53</text>
<text transform="translate(1553.2,316.2) rotate(-90)" font-size="13.2" text-anchor="middle">2,47</text>
<text transform="translate(1553.2,383) rotate(-90)" font-size="13.2" text-anchor="start">21<tspan font-size="8.5" dy="-5">5</tspan></text>
<text transform="translate(1553.2,436) rotate(-90)" font-size="13.2" text-anchor="middle">1,80</text>
<text transform="translate(1553.2,494.8) rotate(-90)" font-size="13.2" text-anchor="start">21<tspan font-size="8.5" dy="-5">5</tspan></text>
<text transform="translate(1553.2,520.6) rotate(-90)" font-size="13.2" text-anchor="middle">52</text>
<text transform="translate(1553.2,553) rotate(-90)" font-size="13.2" text-anchor="end">28</text>
<text transform="translate(1553.2,595.3) rotate(-90)" font-size="13.2" text-anchor="middle">1,47</text>
<text transform="translate(1553.2,644.3) rotate(-90)" font-size="13.2" text-anchor="end">23</text>
<text transform="translate(1553.2,737.9) rotate(-90)" font-size="13.2" text-anchor="middle">3,52</text>
<text transform="translate(1553.2,836.8) rotate(-90)" font-size="13.2" text-anchor="middle">53</text>
<line x1="1582.5" y1="234.1" x2="1582.5" y2="851.1" stroke="#2a2a2a" stroke-width="1.1" />
<line x1="1573.3" y1="234.5" x2="1592.3" y2="234.5" stroke="#2a2a2a" stroke-width="1" />
<line x1="1573.3" y1="262.5" x2="1592.3" y2="262.5" stroke="#2a2a2a" stroke-width="1" />
<line x1="1573.3" y1="534.5" x2="1592.3" y2="534.5" stroke="#2a2a2a" stroke-width="1" />
<line x1="1573.3" y1="549.5" x2="1592.3" y2="549.5" stroke="#2a2a2a" stroke-width="1" />
<line x1="1573.3" y1="822.5" x2="1592.3" y2="822.5" stroke="#2a2a2a" stroke-width="1" />
<line x1="1573.3" y1="851.5" x2="1592.3" y2="851.5" stroke="#2a2a2a" stroke-width="1" />
<polygon points="1582.8,234.1 1578.6,240.6 1587,240.6" fill="#111"/>
<polygon points="1582.8,262 1578.6,255.5 1587,255.5" fill="#111"/>
<polygon points="1582.8,262 1578.6,268.5 1587,268.5" fill="#111"/>
<polygon points="1582.8,534.8 1578.6,528.3 1587,528.3" fill="#111"/>
<polygon points="1582.8,549.8 1578.6,556.3 1587,556.3" fill="#111"/>
<polygon points="1582.8,822.5 1578.6,816 1587,816" fill="#111"/>
<polygon points="1582.8,822.5 1578.6,829 1587,829" fill="#111"/>
<polygon points="1582.8,851.1 1578.6,844.6 1587,844.6" fill="#111"/>
<text transform="translate(1579,247) rotate(-90)" font-size="13.2" text-anchor="middle">53</text>
<text transform="translate(1579,397.2) rotate(-90)" font-size="13.2" text-anchor="middle">5,22</text>
<text transform="translate(1579,553) rotate(-90)" font-size="13.2" text-anchor="end">28</text>
<text transform="translate(1579,693.4) rotate(-90)" font-size="13.2" text-anchor="middle">5,22</text>
<text transform="translate(1579,836.8) rotate(-90)" font-size="13.2" text-anchor="middle">53</text>
<line x1="1608.5" y1="234.1" x2="1608.5" y2="851.1" stroke="#2a2a2a" stroke-width="1.1" />
<line x1="1599.3" y1="234.5" x2="1618.3" y2="234.5" stroke="#2a2a2a" stroke-width="1" />
<line x1="1599.3" y1="851.5" x2="1618.3" y2="851.5" stroke="#2a2a2a" stroke-width="1" />
<polygon points="1608.8,234.1 1604.6,240.6 1613,240.6" fill="#111"/>
<polygon points="1608.8,851.1 1604.6,844.6 1613,844.6" fill="#111"/>
<text transform="translate(1605,540.5) rotate(-90)" font-size="13.2" text-anchor="middle">11,78</text>
<line x1="110.5" y1="369.5" x2="110.5" y2="843.5" stroke="#2a2a2a" stroke-width="1.1" />
<line x1="101" y1="369.5" x2="120" y2="369.5" stroke="#2a2a2a" stroke-width="1" />
<line x1="101" y1="385.5" x2="120" y2="385.5" stroke="#2a2a2a" stroke-width="1" />
<line x1="101" y1="823.5" x2="120" y2="823.5" stroke="#2a2a2a" stroke-width="1" />
<line x1="101" y1="843.5" x2="120" y2="843.5" stroke="#2a2a2a" stroke-width="1" />
<polygon points="110.5,369.5 106.3,363 114.7,363" fill="#111"/>
<polygon points="110.5,385.2 106.3,391.7 114.7,391.7" fill="#111"/>
<polygon points="110.5,823.5 106.3,817 114.7,817" fill="#111"/>
<polygon points="110.5,823.5 106.3,830 114.7,830" fill="#111"/>
<polygon points="110.5,843.5 106.3,837 114.7,837" fill="#111"/>
<text transform="translate(106.7,364.5) rotate(-90)" font-size="13.2" text-anchor="start">30</text>
<text transform="translate(106.7,596) rotate(-90)" font-size="13.2" text-anchor="middle">8,37<tspan font-size="8.5" dy="-5">5</tspan></text>
<text transform="translate(106.7,818.5) rotate(-90)" font-size="13.2" text-anchor="start">38</text>
<line x1="1459" y1="234.5" x2="1617" y2="234.5" stroke="#2a2a2a" stroke-width="1.1" />
<line x1="764" y1="218.5" x2="1700" y2="218.5" stroke="#222" stroke-width="1" stroke-dasharray="9.5 5.5"/>
<line x1="707" y1="271.5" x2="1700" y2="271.5" stroke="#222" stroke-width="1" stroke-dasharray="9.5 5.5"/>
<text transform="translate(1073,262) rotate(90)" font-size="10.5">DD 1,00 /0,20</text>
<line x1="778" y1="467.7" x2="801.3" y2="454.6" stroke="#888" stroke-width="0.7" />
<circle cx="974.5" cy="292.6" r="2" fill="#fff" stroke="#333" stroke-width="0.8"/>
<rect x="1057" y="268" width="12.5" height="54" fill="none" stroke="#222" stroke-width="0.8" stroke-dasharray="4 3"/>
<line x1="1058" y1="280" x2="1068" y2="288" stroke="#2a2a2a" stroke-width="0.8" />
<line x1="1068" y1="280" x2="1058" y2="288" stroke="#2a2a2a" stroke-width="0.8" />
<line x1="1058" y1="292" x2="1068" y2="300" stroke="#2a2a2a" stroke-width="0.8" />
<line x1="1068" y1="292" x2="1058" y2="300" stroke="#2a2a2a" stroke-width="0.8" />
<line x1="1058" y1="304" x2="1068" y2="312" stroke="#2a2a2a" stroke-width="0.8" />
<line x1="1068" y1="304" x2="1058" y2="312" stroke="#2a2a2a" stroke-width="0.8" />
<polygon points="589.6,199.3 630.4,256 627.6,267.6" fill="#fff" stroke="#111" stroke-width="1"/>
<polygon points="589.6,199.3 614.6,265.3 627.6,267.6" fill="#111" stroke="#111" stroke-width="1"/>
<polygon points="695.6,229.1 639,270.4 627.6,267.6" fill="#fff" stroke="#111" stroke-width="1"/>
<polygon points="695.6,229.1 630.4,256 627.6,267.6" fill="#111" stroke="#111" stroke-width="1"/>
<polygon points="665.4,335.6 624.9,279 627.6,267.6" fill="#fff" stroke="#111" stroke-width="1"/>
<polygon points="665.4,335.6 639,270.4 627.6,267.6" fill="#111" stroke="#111" stroke-width="1"/>
<polygon points="558.5,305.4 614.6,265.3 627.6,267.6" fill="#fff" stroke="#111" stroke-width="1"/>
<polygon points="558.5,305.4 624.9,279 627.6,267.6" fill="#111" stroke="#111" stroke-width="1"/>
<g transform="translate(600.5,218.5) rotate(-21)"><rect x="-7.5" y="-7" width="15" height="14" fill="#fff"/><text x="0" y="5.2" font-size="14.5" font-weight="bold" text-anchor="middle" style="fill:#111">N</text></g>
</svg></body></html>
